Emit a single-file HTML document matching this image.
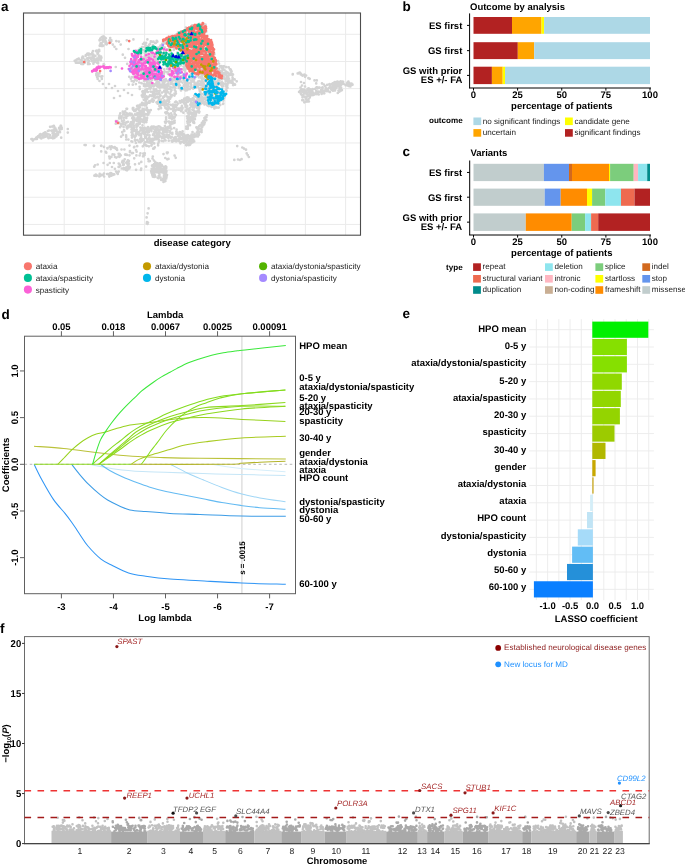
<!DOCTYPE html>
<html><head><meta charset="utf-8"><style>
html,body{margin:0;padding:0;background:#fff;}
svg{display:block;will-change:transform;}
text{font-family:"Liberation Sans",sans-serif;text-rendering:geometricPrecision;}
</style></head><body>
<svg width="685" height="865" viewBox="0 0 685 865">
<rect x="0" y="0" width="685" height="865" fill="#fff"/>
<text x="1.00" y="10.90" font-size="13.5" font-weight="bold"  text-anchor="start" fill="#000" >a</text>
<text x="402.60" y="10.90" font-size="13.5" font-weight="bold"  text-anchor="start" fill="#000" >b</text>
<text x="402.60" y="156.20" font-size="13.5" font-weight="bold"  text-anchor="start" fill="#000" >c</text>
<text x="1.50" y="318.60" font-size="13.5" font-weight="bold"  text-anchor="start" fill="#000" >d</text>
<text x="402.60" y="318.40" font-size="13.5" font-weight="bold"  text-anchor="start" fill="#000" >e</text>
<text x="0.00" y="632.90" font-size="13.5" font-weight="bold"  text-anchor="start" fill="#000" >f</text>
<defs><clipPath id="clipA"><rect x="24" y="13.5" width="336" height="221.2"/></clipPath></defs>
<line x1="64.20" y1="13.00" x2="64.20" y2="235.20" stroke="#EBEBEB" stroke-width="1.0" />
<line x1="23.50" y1="34.30" x2="360.50" y2="34.30" stroke="#EBEBEB" stroke-width="1.0" />
<line x1="104.40" y1="13.00" x2="104.40" y2="235.20" stroke="#EBEBEB" stroke-width="1.0" />
<line x1="23.50" y1="61.46" x2="360.50" y2="61.46" stroke="#EBEBEB" stroke-width="1.0" />
<line x1="144.60" y1="13.00" x2="144.60" y2="235.20" stroke="#EBEBEB" stroke-width="1.0" />
<line x1="23.50" y1="88.62" x2="360.50" y2="88.62" stroke="#EBEBEB" stroke-width="1.0" />
<line x1="184.80" y1="13.00" x2="184.80" y2="235.20" stroke="#EBEBEB" stroke-width="1.0" />
<line x1="23.50" y1="115.78" x2="360.50" y2="115.78" stroke="#EBEBEB" stroke-width="1.0" />
<line x1="225.00" y1="13.00" x2="225.00" y2="235.20" stroke="#EBEBEB" stroke-width="1.0" />
<line x1="23.50" y1="142.94" x2="360.50" y2="142.94" stroke="#EBEBEB" stroke-width="1.0" />
<line x1="265.20" y1="13.00" x2="265.20" y2="235.20" stroke="#EBEBEB" stroke-width="1.0" />
<line x1="23.50" y1="170.10" x2="360.50" y2="170.10" stroke="#EBEBEB" stroke-width="1.0" />
<line x1="305.40" y1="13.00" x2="305.40" y2="235.20" stroke="#EBEBEB" stroke-width="1.0" />
<line x1="23.50" y1="197.26" x2="360.50" y2="197.26" stroke="#EBEBEB" stroke-width="1.0" />
<line x1="345.60" y1="13.00" x2="345.60" y2="235.20" stroke="#EBEBEB" stroke-width="1.0" />
<line x1="23.50" y1="224.42" x2="360.50" y2="224.42" stroke="#EBEBEB" stroke-width="1.0" />
<g clip-path="url(#clipA)">
<path d="M106.9 43.4h0M99.6 40.1h0M110.8 42.3h0M105.0 37.5h0M105.9 41.4h0M102.6 45.4h0M101.8 37.1h0M102.8 45.9h0M105.8 42.6h0M101.7 45.7h0M110.2 38.1h0M103.6 36.6h0M102.9 41.7h0M103.4 38.3h0M109.3 40.3h0M103.1 40.3h0M103.7 41.4h0M101.4 45.9h0M101.6 43.5h0M103.4 38.8h0M105.7 43.8h0M100.5 43.4h0M99.7 45.8h0M100.3 38.6h0M103.4 45.5h0M105.9 38.3h0M103.1 36.7h0M111.3 40.9h0M104.2 37.4h0M106.5 44.4h0M104.8 39.6h0M99.9 45.4h0M99.6 40.4h0M107.0 43.9h0M100.5 39.7h0M101.0 44.6h0M102.8 39.9h0M111.2 40.0h0M112.8 44.6h0M114.5 46.8h0M116.3 49.0h0M116.3 41.1h0M118.9 41.6h0M120.7 44.6h0M126.8 40.3h0M133.4 39.4h0M128.5 49.0h0M122.8 54.7h0M125.0 57.8h0M127.2 63.9h0M132.9 62.2h0M115.8 67.0h0M147.4 39.4h0M143.0 44.0h0M145.5 45.0h0M147.8 46.4h0M142.0 47.0h0M150.0 44.0h0M152.0 47.0h0M155.0 43.0h0M89.0 60.9h0M88.8 53.5h0M89.4 54.3h0M98.1 63.3h0M85.1 61.9h0M97.9 60.3h0M94.5 61.4h0M85.2 60.5h0M82.6 56.8h0M97.8 60.3h0M94.0 58.4h0M81.7 60.0h0M88.3 62.4h0M94.0 62.1h0M84.7 59.5h0M96.8 62.6h0M84.8 62.8h0M100.9 60.2h0M104.2 64.8h0M90.0 57.5h0M79.1 62.7h0M95.3 60.8h0M96.5 51.5h0M98.1 58.4h0M94.5 55.7h0M93.2 61.7h0M93.6 60.8h0M87.6 59.6h0M80.7 60.2h0M88.3 55.0h0M92.9 58.6h0M81.3 63.9h0M77.5 62.7h0M90.8 54.3h0M99.3 55.7h0M99.1 59.5h0M92.4 58.1h0M103.6 65.0h0M92.8 54.5h0M93.0 51.0h0M93.4 63.7h0M85.6 55.9h0M103.7 64.0h0M92.4 53.0h0M82.8 56.7h0M77.7 59.1h0M87.6 53.6h0M98.1 62.6h0M98.1 52.8h0M92.7 56.6h0M93.9 58.8h0M96.9 50.6h0M97.5 53.7h0M90.4 54.3h0M83.1 57.6h0M88.3 54.7h0M97.0 58.6h0M88.0 64.1h0M101.4 57.8h0M87.2 58.3h0M95.9 59.3h0M88.8 64.0h0M85.8 55.2h0M83.1 62.6h0M75.9 62.7h0M95.4 55.9h0M82.8 61.8h0M88.7 57.9h0M89.3 54.2h0M78.7 58.5h0M99.1 49.8h0M81.0 62.5h0M98.4 59.8h0M74.7 60.8h0M96.0 50.9h0M83.0 64.1h0M78.5 58.9h0M91.7 61.1h0M87.3 53.9h0M92.5 56.9h0M75.6 60.4h0M78.6 59.3h0M89.6 64.0h0M91.1 59.1h0M82.1 57.9h0M81.8 61.3h0M96.7 51.6h0M96.0 59.7h0M76.5 59.9h0M92.3 52.6h0M101.1 56.7h0M83.9 62.1h0M74.8 60.9h0M99.3 51.0h0M93.3 54.6h0M92.9 54.5h0M99.7 59.5h0M98.8 55.9h0M100.3 57.3h0M92.3 58.3h0M102.3 76.3h0M96.8 72.9h0M99.5 81.0h0M101.1 76.6h0M99.5 73.4h0M96.3 74.0h0M98.6 76.2h0M97.3 75.1h0M96.4 75.2h0M97.1 77.1h0M101.8 78.9h0M97.7 78.9h0M97.1 73.2h0M103.0 84.0h0M106.0 88.0h0M112.0 88.0h0M118.0 91.0h0M124.0 90.0h0M128.0 93.0h0M132.0 95.0h0M120.0 96.0h0M114.0 98.0h0M109.0 84.0h0M115.0 86.0h0M144.0 81.0h0M148.6 80.5h0M160.2 87.5h0M135.2 79.8h0M157.6 91.0h0M156.4 82.9h0M152.1 91.8h0M150.8 81.6h0M132.1 77.1h0M167.5 83.9h0M139.2 82.5h0M135.9 84.1h0M145.7 84.5h0M131.7 81.0h0M132.8 84.7h0M168.5 85.6h0M128.8 84.6h0M149.4 85.1h0M144.6 86.0h0M159.9 90.6h0M141.5 83.2h0M133.1 81.0h0M164.1 81.0h0M133.7 77.3h0M146.9 85.2h0M136.8 80.6h0M146.5 81.0h0M161.1 84.9h0M167.4 86.5h0M161.4 85.2h0M147.5 89.1h0M156.8 91.3h0M160.0 87.2h0M139.8 89.0h0M130.9 78.7h0M139.6 86.8h0M161.6 84.9h0M129.2 76.8h0M133.7 81.7h0M165.8 91.2h0M154.9 79.7h0M146.9 81.8h0M153.7 89.2h0M159.2 83.1h0M169.3 88.7h0M60.0 132.2h0M56.9 131.5h0M32.9 140.6h0M49.0 130.5h0M54.9 128.6h0M58.0 134.7h0M57.4 132.6h0M59.6 127.9h0M56.3 129.9h0M50.9 137.7h0M47.4 134.2h0M46.2 136.1h0M53.1 135.6h0M48.2 137.7h0M42.7 134.3h0M52.6 133.2h0M49.5 137.1h0M53.7 129.6h0M60.5 129.1h0M53.8 125.8h0M55.0 135.6h0M52.9 138.3h0M54.5 134.6h0M59.4 128.5h0M52.9 133.7h0M53.8 130.7h0M59.1 128.1h0M55.4 128.3h0M54.2 131.4h0M44.7 133.3h0M59.7 129.6h0M61.7 127.7h0M49.0 134.5h0M50.0 135.2h0M53.0 136.6h0M41.3 138.5h0M57.7 132.4h0M54.4 138.0h0M56.5 136.3h0M52.7 136.8h0M48.4 130.8h0M43.1 135.8h0M61.0 125.8h0M55.2 136.4h0M47.0 136.0h0M56.1 134.0h0M57.9 133.1h0M55.3 130.5h0M45.2 132.3h0M43.6 137.4h0M44.9 134.3h0M52.2 126.6h0M50.1 126.8h0M39.7 137.0h0M43.0 137.3h0M51.5 130.7h0M54.3 126.8h0M46.4 136.2h0M44.5 132.9h0M50.5 137.6h0M60.6 125.9h0M45.4 136.7h0M47.9 131.0h0M60.3 129.5h0M48.6 138.2h0M46.8 133.9h0M61.7 128.9h0M40.0 137.5h0M54.6 128.9h0M57.3 134.9h0M43.5 134.9h0M58.8 131.8h0M59.5 127.5h0M54.5 133.8h0M57.2 132.7h0M39.6 136.7h0M32.4 139.0h0M36.9 138.9h0M33.2 140.1h0M32.8 140.1h0M37.7 136.9h0M31.4 139.1h0M32.5 139.3h0M35.0 139.0h0M36.4 137.7h0M32.9 140.0h0M39.6 136.5h0M41.9 135.6h0M43.3 133.5h0M38.0 136.4h0M40.4 134.0h0M39.2 137.2h0M43.6 133.7h0M42.7 134.4h0M45.4 133.2h0M39.3 137.0h0M39.6 134.8h0M67.8 129.0h0M67.8 132.6h0M61.2 137.7h0M84.6 145.0h0M94.0 145.8h0M101.4 145.8h0M93.8 145.8h0M101.1 145.8h0M104.0 146.9h0M85.7 145.1h0M115.1 147.5h0M116.0 148.8h0M110.7 149.1h0M114.6 147.2h0M110.9 147.5h0M114.5 147.9h0M109.7 146.7h0M117.1 149.9h0M116.6 148.4h0M107.4 148.0h0M112.8 147.3h0M107.5 148.5h0M111.6 146.3h0M121.5 149.5h0M124.4 149.5h0M120.8 155.3h0M125.1 154.6h0M127.0 155.0h0M129.5 155.3h0M130.0 151.0h0M133.0 153.0h0M136.0 150.0h0M103.0 175.1h0M117.2 172.9h0M114.3 174.4h0M117.7 173.9h0M108.1 174.2h0M100.5 175.8h0M99.7 173.9h0M112.9 174.9h0M111.3 175.7h0M109.3 176.6h0M97.3 175.5h0M95.8 174.7h0M94.4 175.7h0M96.2 176.0h0M101.8 174.8h0M109.8 174.1h0M116.1 171.6h0M104.0 173.6h0M118.7 171.6h0M110.2 175.9h0M117.8 172.9h0M104.1 176.5h0M110.8 173.0h0M112.2 174.2h0M111.7 174.9h0M107.1 174.0h0M99.3 176.4h0M110.1 173.4h0M110.3 174.7h0M112.6 174.2h0M123.5 163.0h0M127.5 163.9h0M125.7 168.9h0M123.7 168.0h0M128.9 160.9h0M127.9 160.4h0M123.8 164.7h0M128.4 165.2h0M124.7 159.3h0M128.3 169.1h0M126.0 169.9h0M125.9 168.4h0M129.0 167.1h0M118.7 163.5h0M119.1 163.8h0M121.8 168.5h0M122.9 161.2h0M126.9 161.8h0M123.1 164.9h0M123.8 169.1h0M127.0 170.3h0M126.8 169.0h0M128.3 164.5h0M126.5 167.6h0M129.5 168.3h0M123.7 161.5h0M122.1 162.3h0M126.8 169.1h0M120.3 166.0h0M128.9 163.8h0M119.1 166.9h0M122.6 160.9h0M119.8 164.6h0M128.8 163.3h0M118.6 166.9h0M127.8 165.3h0M128.4 164.9h0M129.9 167.0h0M95.1 165.3h0M97.7 164.5h0M94.2 166.7h0M103.6 163.0h0M107.6 164.8h0M109.8 163.0h0M113.8 163.0h0M112.0 167.0h0M114.9 168.8h0M147.1 97.3h0M161.9 104.8h0M212.7 89.7h0M217.6 84.0h0M167.7 92.2h0M164.3 82.8h0M149.0 83.6h0M232.7 82.9h0M149.6 86.1h0M207.9 92.9h0M172.7 106.1h0M168.4 81.3h0M221.9 95.3h0M174.5 95.6h0M185.0 104.4h0M201.3 89.6h0M170.5 87.2h0M200.1 100.5h0M150.8 110.1h0M230.2 69.8h0M148.1 102.6h0M168.3 104.3h0M143.4 92.6h0M156.1 85.3h0M209.1 95.7h0M157.7 93.7h0M214.4 108.5h0M185.6 82.1h0M165.4 102.2h0M183.6 101.8h0M185.3 82.6h0M205.6 80.1h0M189.7 99.9h0M190.2 118.7h0M217.6 83.8h0M144.5 95.1h0M167.2 96.7h0M162.0 92.6h0M218.0 80.8h0M156.8 81.6h0M211.7 94.6h0M165.9 92.7h0M164.6 87.4h0M199.0 84.7h0M179.1 84.4h0M218.7 83.1h0M206.2 100.1h0M168.1 108.7h0M151.8 100.6h0M188.5 117.0h0M186.4 97.8h0M174.5 93.7h0M192.0 115.0h0M170.1 98.7h0M200.3 104.3h0M171.1 82.2h0M186.9 101.1h0M184.4 98.7h0M189.7 83.1h0M156.1 89.3h0M230.6 70.5h0M175.0 106.6h0M162.8 82.3h0M165.7 94.0h0M187.5 97.3h0M190.3 104.7h0M173.0 106.0h0M176.6 102.0h0M163.0 101.8h0M215.1 79.1h0M184.1 99.1h0M204.9 97.5h0M154.6 94.4h0M222.5 69.6h0M173.2 111.0h0M193.0 105.0h0M205.5 98.8h0M171.7 95.1h0M232.5 82.1h0M164.0 105.0h0M187.5 85.1h0M165.8 87.2h0M154.8 84.3h0M175.3 80.5h0M192.2 81.6h0M150.5 91.6h0M216.3 97.7h0M227.0 84.4h0M230.4 74.6h0M185.2 84.0h0M164.3 90.6h0M192.2 105.3h0M206.9 96.4h0M207.2 85.6h0M163.3 84.2h0M224.9 94.1h0M169.0 107.7h0M145.0 90.8h0M223.3 100.6h0M146.3 96.4h0M189.0 111.8h0M228.2 83.3h0M174.6 86.1h0M191.4 87.7h0M166.6 90.0h0M201.2 93.7h0M211.9 90.9h0M174.7 90.0h0M144.6 92.8h0M162.0 103.3h0M175.7 83.3h0M207.8 93.6h0M201.9 100.4h0M218.7 107.6h0M208.5 85.1h0M142.2 105.2h0M175.6 91.4h0M209.8 78.7h0M197.8 103.6h0M168.6 102.1h0M213.4 84.7h0M166.4 85.2h0M186.9 98.8h0M205.3 81.2h0M198.0 100.9h0M186.9 87.6h0M215.7 99.6h0M192.4 109.7h0M194.5 100.3h0M216.1 88.5h0M161.5 105.0h0M209.4 81.8h0M218.7 100.3h0M212.8 91.4h0M197.8 83.5h0M163.0 98.0h0M200.2 95.1h0M204.8 102.7h0M180.6 81.4h0M208.0 88.5h0M175.8 106.1h0M205.4 94.6h0M221.3 85.0h0M175.0 109.9h0M207.7 90.8h0M228.6 67.3h0M193.4 116.2h0M227.6 77.1h0M220.4 97.1h0M233.1 85.1h0M206.2 103.5h0M224.6 74.4h0M189.6 110.1h0M166.5 108.7h0M161.9 101.6h0M165.6 94.8h0M147.3 98.7h0M207.3 84.4h0M197.9 96.7h0M218.6 99.6h0M203.6 98.9h0M222.0 71.5h0M223.1 66.3h0M216.2 107.5h0M186.8 81.7h0M212.7 88.5h0M187.2 105.9h0M167.2 100.7h0M229.1 74.2h0M231.3 81.2h0M207.7 96.5h0M169.0 80.7h0M192.0 80.8h0M216.9 81.5h0M232.6 79.2h0M193.9 81.0h0M215.4 87.4h0M166.8 90.3h0M208.6 106.1h0M218.7 92.8h0M189.4 120.9h0M195.0 100.9h0M170.6 104.8h0M188.6 121.2h0M147.3 85.7h0M222.3 98.6h0M223.0 104.0h0M212.8 81.5h0M182.1 88.1h0M183.4 112.7h0M161.0 99.7h0M218.6 79.5h0M164.9 87.9h0M185.7 90.5h0M167.7 86.0h0M223.3 103.5h0M202.8 98.2h0M169.7 93.5h0M180.5 102.6h0M227.5 87.7h0M193.6 98.8h0M206.5 80.1h0M165.9 94.6h0M213.6 87.6h0M210.4 89.1h0M153.1 91.7h0M211.2 91.6h0M208.0 90.9h0M212.3 91.0h0M188.9 89.0h0M186.4 84.9h0M219.8 73.7h0M202.3 88.1h0M186.5 98.0h0M228.5 80.4h0M219.4 88.8h0M194.4 82.6h0M193.2 122.5h0M209.5 81.4h0M208.1 101.9h0M176.7 105.2h0M164.3 83.7h0M200.2 83.5h0M206.7 81.9h0M215.7 85.7h0M226.6 90.7h0M170.8 91.6h0M226.7 75.9h0M173.8 108.4h0M185.1 103.7h0M191.1 87.0h0M218.0 95.6h0M170.2 88.4h0M213.1 83.1h0M223.9 94.6h0M189.7 121.9h0M216.9 101.6h0M214.8 97.0h0M161.8 84.9h0M143.2 103.5h0M202.8 101.9h0M188.6 118.8h0M159.7 94.6h0M234.6 79.4h0M157.7 103.7h0M210.7 86.6h0M218.0 98.8h0M166.5 89.7h0M196.0 106.3h0M182.5 88.8h0M204.0 86.0h0M209.2 81.9h0M214.3 98.6h0M215.8 83.0h0M194.4 86.1h0M186.9 82.8h0M147.0 91.3h0M145.5 97.7h0M234.4 84.3h0M226.2 86.0h0M187.9 84.9h0M187.7 101.9h0M190.7 113.4h0M206.8 81.7h0M190.8 87.4h0M185.5 106.8h0M197.8 82.0h0M208.0 90.7h0M210.3 86.2h0M185.8 110.7h0M158.9 84.4h0M199.2 107.1h0M143.8 99.8h0M192.8 98.3h0M191.3 112.6h0M203.4 94.0h0M213.0 106.5h0M173.2 108.4h0M203.7 78.7h0M222.8 93.6h0M191.7 100.2h0M183.7 85.9h0M212.9 83.0h0M166.4 80.5h0M208.4 103.7h0M188.2 117.7h0M153.8 100.4h0M142.7 108.8h0M223.2 67.3h0M170.5 81.3h0M165.4 85.7h0M168.7 97.4h0M149.4 87.6h0M210.1 99.0h0M167.9 89.1h0M146.1 89.5h0M222.1 88.5h0M211.0 90.3h0M145.3 86.1h0M168.7 100.3h0M146.9 85.8h0M229.2 73.6h0M156.6 83.5h0M143.1 92.9h0M168.4 109.2h0M155.5 97.9h0M193.0 106.9h0M159.7 96.5h0M159.0 82.9h0M147.0 83.4h0M194.3 85.4h0M169.0 98.8h0M202.4 102.3h0M227.4 84.3h0M167.7 99.3h0M160.2 106.8h0M196.4 112.8h0M172.9 87.4h0M230.0 81.0h0M202.1 99.1h0M145.2 99.0h0M184.6 100.3h0M222.2 78.9h0M227.3 79.2h0M194.5 95.6h0M165.3 107.8h0M203.9 84.4h0M210.8 85.9h0M179.6 109.8h0M197.6 107.5h0M184.1 89.3h0M212.0 76.4h0M171.1 109.0h0M186.7 109.5h0M150.6 101.2h0M220.9 82.8h0M149.3 88.3h0M146.4 84.8h0M231.2 82.7h0M221.7 92.0h0M223.3 76.9h0M218.6 96.4h0M190.4 118.2h0M153.1 101.7h0M153.4 85.5h0M196.6 95.3h0M234.5 84.0h0M235.0 84.7h0M174.7 110.2h0M219.0 91.9h0M153.8 86.3h0M215.8 103.5h0M178.1 109.6h0M206.5 99.7h0M218.2 98.2h0M193.6 81.0h0M217.4 72.1h0M149.5 102.7h0M159.2 93.2h0M165.9 94.1h0M194.2 122.9h0M223.0 99.8h0M202.8 83.0h0M197.3 85.1h0M227.7 78.9h0M150.0 95.3h0M184.3 99.3h0M193.2 88.6h0M165.6 92.4h0M197.9 101.2h0M157.3 86.4h0M179.8 88.2h0M211.5 106.9h0M165.5 101.7h0M154.0 85.3h0M201.2 84.3h0M205.8 93.7h0M154.2 95.6h0M156.5 102.3h0M145.4 90.5h0M201.3 103.5h0M212.9 102.7h0M194.5 96.2h0M208.6 90.2h0M178.5 108.5h0M163.4 101.5h0M186.5 100.3h0M218.0 88.3h0M200.3 91.7h0M193.5 81.5h0M228.1 72.9h0M184.2 103.4h0M200.1 101.3h0M230.2 74.8h0M225.7 81.1h0M147.6 83.2h0M191.3 112.9h0M197.2 100.5h0M209.3 95.5h0M219.1 70.0h0M221.0 66.1h0M208.2 102.3h0M165.7 102.5h0M193.2 113.6h0M157.1 102.2h0M215.4 90.6h0M190.9 80.6h0M226.0 71.5h0M197.7 99.1h0M154.1 96.9h0M209.8 76.6h0M152.0 83.2h0M223.3 100.2h0M160.3 84.7h0M182.2 102.0h0M193.9 122.1h0M227.3 85.3h0M200.5 85.2h0M232.2 81.5h0M173.8 109.4h0M160.6 95.7h0M223.4 94.3h0M206.5 88.9h0M210.9 88.0h0M157.8 86.7h0M191.2 104.5h0M196.8 100.6h0M179.7 101.1h0M213.4 87.8h0M159.8 105.6h0M171.5 96.5h0M187.2 90.1h0M204.3 86.6h0M151.2 87.4h0M202.4 101.0h0M188.8 98.8h0M213.3 90.9h0M143.1 92.2h0M191.6 87.6h0M193.5 121.7h0M209.9 79.4h0M150.3 88.7h0M148.1 85.6h0M168.0 100.2h0M193.9 81.3h0M219.3 79.6h0M217.8 76.9h0M165.1 95.5h0M173.0 104.7h0M153.5 84.5h0M151.1 95.8h0M164.0 91.5h0M168.7 89.0h0M146.1 100.4h0M150.2 85.4h0M173.8 106.8h0M211.0 93.7h0M217.8 86.1h0M193.6 116.2h0M151.2 96.0h0M224.1 73.1h0M166.7 104.0h0M214.5 98.3h0M217.4 74.0h0M224.4 97.4h0M181.0 90.4h0M209.6 103.2h0M198.1 108.5h0M218.3 103.0h0M196.5 97.1h0M158.8 101.6h0M186.8 106.8h0M197.2 105.0h0M159.5 87.6h0M191.9 81.7h0M181.2 111.2h0M191.0 102.1h0M223.3 86.1h0M168.6 107.1h0M141.8 95.4h0M202.3 87.9h0M151.5 83.4h0M187.3 116.7h0M200.1 102.4h0M216.4 100.8h0M194.9 119.2h0M194.3 101.4h0M224.3 74.1h0M166.9 91.6h0M186.6 107.7h0M202.1 81.0h0M216.3 81.8h0M196.3 87.3h0M193.9 81.5h0M190.0 121.9h0M233.0 74.6h0M212.4 80.8h0M146.6 103.3h0M207.7 104.6h0M216.4 104.0h0M200.7 95.2h0M202.9 86.0h0M161.1 86.8h0M198.9 94.9h0M216.3 73.9h0M191.4 120.4h0M223.1 73.9h0M183.9 85.2h0M231.3 71.6h0M216.2 84.5h0M230.4 80.9h0M197.4 83.9h0M208.6 81.5h0M197.3 108.2h0M156.6 84.9h0M211.1 106.2h0M228.8 67.5h0M178.8 86.3h0M184.2 85.7h0M142.1 102.8h0M214.3 76.6h0M176.1 85.7h0M221.5 74.8h0M182.6 107.9h0M175.0 106.5h0M219.6 100.6h0M214.9 106.5h0M161.6 86.0h0M207.7 102.5h0M183.5 80.2h0M189.9 89.1h0M152.2 84.0h0M193.9 112.2h0M189.5 122.0h0M173.3 84.8h0M189.4 110.7h0M146.4 90.4h0M193.8 119.0h0M182.3 109.6h0M161.0 108.2h0M175.9 101.6h0M213.7 94.1h0M182.6 82.6h0M210.1 81.5h0M215.4 98.4h0M149.2 85.9h0M229.0 82.6h0M207.9 105.7h0M213.7 82.1h0M200.0 94.5h0M180.8 107.9h0M217.6 103.1h0M176.9 104.9h0M216.1 100.5h0M213.1 93.6h0M158.6 109.1h0M168.6 101.4h0M219.4 102.8h0M157.5 82.6h0M170.9 84.1h0M208.1 87.9h0M199.5 89.8h0M143.9 85.8h0M177.3 80.2h0M190.3 117.9h0M198.7 110.1h0M221.3 66.6h0M226.0 80.7h0M187.7 112.7h0M201.1 89.0h0M227.7 81.8h0M201.1 88.0h0M140.4 104.5h0M191.3 84.9h0M171.5 90.2h0M150.0 110.4h0M223.7 77.0h0M205.2 87.9h0M219.4 80.5h0M202.8 88.6h0M212.4 89.4h0M161.1 87.0h0M226.4 84.1h0M190.7 83.8h0M218.6 92.2h0M227.0 78.6h0M207.4 105.4h0M230.8 69.5h0M214.3 91.9h0M176.7 83.5h0M210.7 89.2h0M144.9 90.6h0M212.2 99.5h0M191.4 106.5h0M190.6 101.4h0M218.1 85.2h0M145.2 97.9h0M236.7 81.3h0M203.1 85.9h0M149.2 101.4h0M217.4 71.2h0M164.4 100.3h0M173.6 105.1h0M195.1 100.9h0M198.3 81.3h0M218.5 71.6h0M187.8 109.1h0M211.9 82.4h0M232.3 75.2h0M215.7 93.2h0M143.3 96.4h0M202.9 82.3h0M223.4 100.0h0M212.7 78.5h0M168.3 83.8h0M168.7 97.7h0M161.8 80.6h0M205.5 80.2h0M146.4 103.3h0M150.3 95.5h0M213.6 80.1h0M199.4 111.8h0M169.6 81.1h0M175.0 109.8h0M176.3 109.5h0M175.1 85.0h0M168.2 88.9h0M171.8 81.3h0M170.5 97.7h0M193.1 100.2h0M157.3 81.1h0M223.6 93.2h0M191.2 101.6h0M199.3 81.0h0M175.0 102.3h0M156.5 82.5h0M178.8 87.8h0M164.6 105.8h0M211.6 80.3h0M199.2 108.2h0M199.0 97.8h0M165.2 81.3h0M172.0 95.2h0M229.1 75.3h0M157.3 96.7h0M212.2 92.0h0M216.9 107.6h0M206.7 94.1h0M222.1 85.9h0M204.8 93.8h0M187.6 86.8h0M155.8 93.9h0M154.6 95.7h0M163.4 96.7h0M181.9 105.9h0M189.5 111.7h0M228.4 79.6h0M185.5 103.2h0M159.1 82.3h0M164.5 91.4h0M171.3 83.3h0M203.2 101.1h0M196.3 105.1h0M175.3 88.1h0M214.1 97.5h0M190.8 83.0h0M196.3 83.9h0M198.3 108.2h0M158.7 100.6h0M203.5 94.6h0M162.7 82.0h0M196.2 83.6h0M209.9 80.4h0M232.3 74.0h0M179.1 82.6h0M214.7 91.9h0M175.4 110.7h0M188.0 82.7h0M185.3 104.3h0M205.4 85.7h0M153.3 95.7h0M180.3 80.4h0M208.7 78.4h0M218.0 98.1h0M175.9 82.2h0M212.5 94.9h0M166.8 89.2h0M200.2 97.5h0M226.8 73.5h0M165.4 104.1h0M191.0 117.0h0M162.4 86.9h0M177.6 83.2h0M207.3 85.5h0M172.3 80.4h0M160.1 102.8h0M209.6 101.4h0M142.4 91.7h0M214.2 89.5h0M224.0 94.8h0M145.8 86.3h0M203.6 83.5h0M162.9 85.6h0M176.3 107.0h0M198.0 105.4h0M229.9 69.0h0M211.4 87.1h0M199.9 91.6h0M188.5 86.2h0M145.8 101.6h0M193.6 87.6h0M194.6 105.9h0M183.3 101.5h0M199.4 99.3h0M167.1 105.4h0M145.2 92.3h0M162.0 101.8h0M175.4 84.0h0M143.3 93.3h0M185.5 80.8h0M159.4 97.1h0M229.0 78.5h0M225.5 83.9h0M162.0 85.4h0M170.8 95.9h0M202.4 97.1h0M217.1 92.0h0M171.6 82.1h0M209.9 105.8h0M147.8 92.0h0M149.6 102.3h0M151.6 101.1h0M194.3 107.6h0M203.7 101.9h0M211.2 89.4h0M197.6 107.9h0M187.7 89.5h0M150.3 87.7h0M186.0 104.4h0M164.3 96.7h0M190.6 112.6h0M215.6 87.1h0M201.1 81.7h0M152.9 93.7h0M189.6 108.2h0M173.8 106.2h0M219.2 103.8h0M154.9 97.6h0M188.8 110.0h0M142.6 97.1h0M144.8 109.5h0M226.1 67.1h0M199.1 88.3h0M231.6 71.3h0M216.2 94.1h0M226.6 77.2h0M223.4 83.5h0M200.8 94.1h0M194.1 81.8h0M184.3 86.2h0M214.2 85.7h0M172.4 81.4h0M187.1 116.4h0M221.1 83.7h0M186.8 86.6h0M222.1 73.7h0M222.5 68.5h0M152.5 98.9h0M221.4 95.7h0M187.2 101.3h0M221.6 76.7h0M190.7 99.4h0M204.9 101.8h0M175.9 93.6h0M204.5 104.4h0M198.7 109.8h0M232.1 81.0h0M185.0 88.4h0M158.6 98.6h0M224.7 78.8h0M184.6 100.8h0M150.5 101.1h0M225.8 73.3h0M158.8 85.0h0M204.9 85.9h0M213.9 89.6h0M198.0 98.0h0M222.1 82.4h0M195.1 101.3h0M181.9 100.3h0M223.3 98.1h0M143.9 84.2h0M216.7 103.6h0M215.2 85.1h0M166.2 87.7h0M159.4 106.1h0M224.3 69.8h0M222.3 93.7h0M169.2 101.8h0M212.8 99.6h0M199.1 112.6h0M194.8 103.3h0M151.6 86.2h0M217.4 100.4h0M196.0 111.5h0M175.8 105.0h0M216.5 93.3h0M191.6 103.1h0M203.0 102.9h0M173.9 84.0h0M188.8 100.3h0M164.5 100.5h0M205.0 80.6h0M156.7 82.5h0M220.4 79.0h0M192.5 120.6h0M217.3 95.4h0M197.9 97.7h0M226.6 72.1h0M167.8 109.6h0M188.9 120.9h0M219.3 103.9h0M223.4 95.6h0M142.8 94.2h0M144.9 94.0h0M214.4 84.3h0M207.7 88.4h0M198.6 105.2h0M195.4 85.6h0M226.5 88.1h0M180.8 101.6h0M207.7 91.4h0M218.1 100.2h0M222.1 79.3h0M149.3 83.4h0M148.7 96.7h0M154.5 91.6h0M178.1 103.5h0M193.3 103.2h0M232.4 81.4h0M200.5 85.2h0M154.0 90.8h0M151.5 95.6h0M164.1 103.3h0M207.1 104.9h0M231.1 73.4h0M192.6 116.3h0M197.9 86.3h0M178.6 81.4h0M142.9 91.0h0M151.6 85.0h0M194.2 95.8h0M145.6 89.8h0M171.6 83.8h0M206.2 94.1h0M179.9 85.5h0M217.0 101.6h0M220.2 105.1h0M214.7 73.7h0M197.8 111.2h0M226.3 90.1h0M188.5 97.6h0M164.1 87.4h0M194.7 83.4h0M224.1 66.3h0M210.3 87.1h0M219.1 79.0h0M232.6 77.5h0M167.0 88.9h0M133.4 127.3h0M143.2 109.1h0M139.1 118.4h0M139.8 123.7h0M139.0 113.2h0M128.7 113.8h0M139.6 120.8h0M122.5 123.5h0M130.0 113.7h0M119.2 117.5h0M137.7 108.7h0M140.6 118.9h0M138.1 121.6h0M140.9 110.8h0M129.2 125.3h0M136.0 109.6h0M118.9 122.5h0M144.4 114.5h0M133.8 122.7h0M128.0 115.4h0M135.7 114.8h0M139.3 108.1h0M140.7 115.7h0M135.5 119.7h0M133.6 120.3h0M123.2 114.5h0M129.5 113.5h0M147.0 110.3h0M126.5 108.8h0M125.2 111.4h0M131.1 115.3h0M137.3 120.4h0M131.5 113.9h0M133.0 120.7h0M136.6 127.1h0M130.7 125.5h0M128.2 125.5h0M122.1 120.5h0M137.4 113.0h0M144.8 105.2h0M121.2 118.3h0M138.7 108.0h0M133.2 116.2h0M140.7 113.4h0M142.2 110.5h0M148.2 111.9h0M139.1 122.7h0M143.5 119.6h0M121.0 116.6h0M144.2 122.5h0M119.5 115.5h0M148.4 114.5h0M149.4 112.4h0M134.0 110.3h0M148.0 113.7h0M137.7 125.4h0M143.5 116.3h0M144.3 122.2h0M127.0 115.9h0M134.4 118.0h0M138.6 113.7h0M120.9 124.0h0M144.9 118.3h0M133.7 129.0h0M140.9 116.0h0M131.6 125.3h0M127.3 122.2h0M120.3 126.8h0M125.3 124.6h0M119.2 118.5h0M140.0 117.3h0M126.3 117.9h0M136.5 114.7h0M134.2 125.7h0M126.8 113.4h0M120.9 124.3h0M126.6 126.9h0M136.5 124.3h0M138.1 105.5h0M139.1 106.1h0M143.9 103.7h0M121.5 116.3h0M143.7 111.9h0M139.2 110.5h0M144.3 116.4h0M147.1 117.9h0M132.2 118.2h0M139.4 107.7h0M124.0 120.3h0M137.9 116.3h0M130.1 126.2h0M138.2 124.7h0M137.8 118.2h0M115.8 123.7h0M137.4 118.1h0M147.7 114.9h0M125.3 115.0h0M134.0 127.8h0M133.4 109.3h0M143.3 122.2h0M132.2 122.1h0M142.5 125.3h0M142.9 114.2h0M123.6 126.9h0M133.3 128.4h0M144.4 118.4h0M130.3 124.2h0M117.3 121.0h0M133.5 119.3h0M147.0 110.0h0M127.1 128.5h0M138.6 105.8h0M139.8 121.4h0M132.8 108.7h0M132.9 108.0h0M136.8 125.7h0M139.1 116.4h0M131.5 129.6h0M139.1 113.7h0M127.5 115.1h0M134.3 129.8h0M139.6 120.1h0M136.6 108.9h0M142.6 121.4h0M132.8 123.8h0M131.9 114.5h0M133.0 109.6h0M123.5 113.2h0M144.7 120.4h0M124.5 112.7h0M127.1 108.8h0M143.0 103.6h0M142.5 119.5h0M131.3 127.1h0M123.5 122.4h0M123.0 124.1h0M136.7 121.1h0M142.8 115.1h0M137.9 125.6h0M146.8 119.9h0M146.4 122.1h0M120.7 124.1h0M141.1 104.8h0M119.9 118.2h0M141.7 111.8h0M132.8 130.4h0M140.5 111.9h0M141.0 113.4h0M139.4 123.4h0M132.9 128.8h0M115.9 121.1h0M144.3 109.9h0M141.6 121.5h0M120.1 127.2h0M134.2 111.0h0M146.7 103.9h0M133.4 108.0h0M137.1 105.9h0M121.1 125.8h0M135.0 114.4h0M136.2 110.2h0M145.8 114.2h0M127.9 121.8h0M139.8 114.4h0M146.8 107.7h0M129.4 115.0h0M137.8 124.1h0M147.7 109.9h0M140.0 107.3h0M144.8 117.5h0M144.2 104.9h0M146.3 105.1h0M120.3 113.4h0M144.5 115.1h0M119.6 115.9h0M121.9 121.0h0M123.8 117.7h0M130.8 122.4h0M126.0 122.7h0M135.1 111.2h0M120.5 118.1h0M122.8 111.7h0M128.5 127.2h0M135.0 119.5h0M134.0 121.0h0M125.5 115.5h0M147.0 141.9h0M161.0 136.6h0M146.2 128.5h0M174.5 140.1h0M131.5 132.3h0M164.3 135.2h0M172.3 134.1h0M159.4 135.7h0M152.2 142.0h0M159.4 133.9h0M193.4 140.1h0M156.8 129.6h0M170.6 137.8h0M189.6 143.0h0M182.1 138.2h0M147.1 134.8h0M183.6 134.0h0M183.6 141.7h0M176.6 129.7h0M170.3 126.7h0M140.3 127.5h0M142.1 133.3h0M143.8 132.7h0M158.8 129.5h0M157.0 136.5h0M135.9 131.5h0M181.9 132.7h0M185.8 142.1h0M185.7 137.6h0M178.3 140.4h0M186.9 143.6h0M176.3 131.8h0M136.5 134.2h0M153.0 128.6h0M173.7 141.0h0M171.0 132.9h0M160.9 129.4h0M166.9 136.6h0M158.9 140.1h0M181.3 138.8h0M179.1 140.7h0M184.0 142.7h0M163.1 131.2h0M179.9 133.1h0M162.0 133.5h0M146.2 137.6h0M153.0 134.9h0M137.4 140.2h0M160.5 127.3h0M154.4 139.4h0M166.5 127.6h0M158.8 141.8h0M171.0 137.7h0M155.8 139.1h0M169.4 136.3h0M151.5 131.1h0M157.3 126.8h0M189.9 140.2h0M185.5 139.2h0M139.3 135.2h0M172.2 141.7h0M149.2 130.1h0M183.7 136.6h0M134.9 137.1h0M175.8 139.3h0M166.6 136.9h0M191.3 143.0h0M177.9 134.4h0M178.1 134.6h0M141.2 137.4h0M167.4 130.2h0M139.1 133.7h0M173.7 140.4h0M139.0 132.0h0M155.9 131.5h0M143.4 139.4h0M171.3 133.0h0M159.3 135.5h0M154.9 137.6h0M151.8 126.6h0M183.0 137.2h0M169.7 132.3h0M165.0 136.8h0M147.5 127.9h0M136.0 133.7h0M175.6 137.2h0M139.3 134.1h0M135.3 136.2h0M166.8 136.4h0M147.2 134.4h0M159.2 130.5h0M158.9 137.2h0M152.6 138.8h0M188.7 135.8h0M180.4 143.3h0M184.2 138.4h0M145.4 128.4h0M142.7 127.9h0M167.3 135.6h0M180.0 142.1h0M155.1 132.4h0M156.6 135.8h0M167.1 132.1h0M187.5 136.6h0M163.2 129.4h0M154.2 135.1h0M185.6 140.6h0M148.9 132.3h0M146.9 142.0h0M140.6 130.5h0M144.7 127.9h0M155.0 137.6h0M187.5 143.6h0M178.5 134.7h0M161.7 129.5h0M143.5 140.0h0M154.9 136.5h0M141.0 135.4h0M140.2 138.9h0M169.1 126.8h0M168.4 128.3h0M133.5 131.1h0M186.3 141.4h0M133.4 135.6h0M186.4 135.6h0M151.9 140.4h0M181.8 132.8h0M154.5 133.3h0M154.3 131.6h0M165.4 128.5h0M163.2 134.3h0M143.0 128.8h0M134.4 130.6h0M136.1 135.6h0M179.9 132.1h0M153.3 126.5h0M182.6 131.4h0M164.9 126.1h0M174.1 128.1h0M150.4 138.9h0M154.5 126.8h0M180.3 138.9h0M184.1 138.4h0M157.1 134.7h0M158.2 129.7h0M176.2 140.8h0M163.1 128.8h0M158.5 138.1h0M187.8 136.5h0M167.6 136.9h0M180.1 134.7h0M148.1 139.1h0M184.7 138.3h0M183.6 139.9h0M191.2 138.6h0M152.3 140.3h0M163.1 136.5h0M167.1 130.8h0M149.1 129.2h0M156.3 135.5h0M170.0 127.5h0M148.3 127.9h0M172.3 132.9h0M157.1 132.4h0M139.0 141.9h0M136.7 129.7h0M133.3 136.1h0M176.4 138.7h0M179.6 137.1h0M190.6 137.8h0M147.5 139.5h0M138.7 133.9h0M149.4 129.4h0M174.3 137.8h0M168.2 137.8h0M132.4 134.2h0M140.8 129.7h0M161.6 140.8h0M178.8 140.9h0M150.9 128.9h0M164.9 130.6h0M168.4 127.5h0M145.8 131.7h0M182.6 137.5h0M190.9 139.3h0M144.1 129.9h0M191.6 139.3h0M165.6 140.5h0M157.2 128.4h0M176.4 133.7h0M179.1 138.7h0M150.4 142.7h0M159.6 126.5h0M155.7 127.7h0M147.1 139.6h0M187.9 135.1h0M173.9 138.8h0M161.8 128.9h0M185.9 139.4h0M140.6 142.1h0M177.2 132.3h0M144.8 133.9h0M149.5 135.4h0M142.3 128.4h0M163.1 128.4h0M155.2 130.1h0M151.6 139.8h0M153.2 140.3h0M164.4 138.6h0M174.3 139.1h0M156.8 136.5h0M171.6 140.7h0M133.0 134.7h0M190.6 137.5h0M159.3 132.9h0M150.9 127.3h0M141.2 139.7h0M145.6 136.6h0M149.4 139.7h0M194.2 141.4h0M179.8 135.0h0M171.7 137.1h0M150.5 141.8h0M144.2 134.1h0M141.4 138.4h0M135.0 139.7h0M158.9 141.0h0M168.0 127.4h0M177.8 133.9h0M156.6 139.1h0M192.4 140.5h0M153.7 133.6h0M185.2 135.7h0M181.8 141.8h0M168.8 140.7h0M166.8 134.6h0M180.8 133.2h0M157.9 132.5h0M170.3 126.6h0M134.2 135.8h0M165.7 128.0h0M148.8 130.3h0M175.6 137.3h0M137.2 131.8h0M162.0 137.9h0M157.5 132.9h0M176.2 141.4h0M177.9 135.8h0M169.0 135.0h0M156.1 139.1h0M179.9 136.8h0M168.3 127.1h0M156.1 131.3h0M142.3 130.7h0M173.5 139.8h0M131.8 135.5h0M192.7 142.2h0M132.9 131.6h0M146.8 129.4h0M140.5 130.4h0M137.8 132.3h0M192.1 142.2h0M180.4 142.2h0M146.1 136.3h0M147.9 132.0h0M155.1 129.8h0M163.7 132.8h0M171.4 129.1h0M139.5 141.5h0M165.5 132.1h0M141.0 137.9h0M149.3 137.7h0M170.0 136.7h0M157.3 127.4h0M139.7 133.5h0M190.5 136.0h0M151.5 127.6h0M145.3 137.6h0M189.8 143.7h0M148.0 127.2h0M163.3 141.2h0M147.4 130.2h0M145.1 136.3h0M169.7 131.1h0M182.4 135.2h0M158.8 126.4h0M159.6 132.4h0M187.8 126.9h0M195.3 114.8h0M188.2 125.0h0M189.7 120.2h0M189.2 118.2h0M190.0 125.2h0M189.3 117.6h0M186.3 126.7h0M187.8 128.8h0M189.7 117.3h0M187.4 118.4h0M188.7 121.6h0M188.3 115.3h0M194.1 114.3h0M190.6 119.6h0M188.6 113.0h0M192.2 118.2h0M188.8 122.5h0M194.7 114.6h0M195.0 112.9h0M188.7 115.2h0M192.4 117.0h0M187.6 123.1h0M195.9 114.8h0M195.4 116.3h0M195.1 111.8h0M190.0 113.2h0M187.3 121.7h0M186.3 128.7h0M193.7 110.4h0M193.4 118.5h0M189.8 125.0h0M187.9 120.1h0M191.6 114.0h0M189.4 113.0h0M190.5 120.4h0M167.0 112.3h0M171.6 122.9h0M169.4 114.0h0M166.1 117.4h0M174.6 114.1h0M166.1 113.5h0M165.6 123.1h0M171.0 128.5h0M174.2 117.0h0M169.9 127.8h0M170.0 123.1h0M165.3 112.6h0M168.9 115.6h0M169.9 117.0h0M171.3 116.2h0M166.7 129.5h0M174.6 122.7h0M168.9 121.5h0M174.5 120.9h0M168.5 113.7h0M165.0 121.8h0M172.6 117.6h0M175.9 115.1h0M166.1 119.2h0M170.3 125.8h0M171.2 113.3h0M171.8 118.9h0M173.8 121.4h0M171.8 121.9h0M169.4 118.0h0M173.4 123.2h0M173.0 118.2h0M170.2 127.4h0M169.9 116.7h0M170.3 124.0h0M172.1 115.4h0M166.6 121.5h0M174.8 116.8h0M174.3 117.7h0M172.5 116.9h0M174.6 120.6h0M174.6 113.2h0M171.4 123.6h0M166.7 112.1h0M169.5 123.1h0M169.6 122.0h0M166.1 117.6h0M172.1 123.6h0M168.5 126.9h0M204.4 118.1h0M196.4 127.4h0M190.5 143.3h0M202.1 124.2h0M204.8 122.6h0M195.2 135.5h0M201.6 132.1h0M195.9 136.4h0M186.3 141.6h0M188.6 145.1h0M200.5 125.1h0M199.5 128.6h0M193.5 136.0h0M189.0 141.7h0M203.3 121.1h0M197.6 129.8h0M190.1 144.4h0M203.3 125.2h0M201.3 128.9h0M201.6 125.7h0M201.6 130.1h0M197.9 131.1h0M203.6 122.9h0M190.7 140.4h0M191.5 134.5h0M199.4 131.7h0M186.0 144.9h0M206.7 115.4h0M186.4 145.3h0M193.5 135.2h0M206.3 120.2h0M190.6 143.7h0M197.3 133.9h0M197.5 134.1h0M192.2 137.6h0M189.2 141.6h0M197.3 128.4h0M204.2 124.3h0M201.7 126.8h0M198.9 132.8h0M191.0 142.2h0M197.9 127.6h0M189.8 144.9h0M199.2 126.1h0M187.2 140.0h0M202.2 127.1h0M204.8 119.6h0M191.7 142.0h0M192.9 140.5h0M201.3 131.5h0M194.6 133.9h0M205.3 118.2h0M189.9 139.2h0M201.9 122.9h0M190.7 141.0h0M190.2 137.1h0M186.2 141.8h0M202.0 124.2h0M198.2 134.6h0M207.0 115.3h0M206.4 117.2h0M190.1 140.3h0M198.0 136.4h0M193.8 137.3h0M192.3 134.8h0M202.3 124.7h0M192.4 140.0h0M206.7 115.7h0M187.8 138.2h0M199.1 134.7h0M190.9 136.6h0M187.0 140.1h0M197.0 132.4h0M192.6 136.8h0M201.8 124.5h0M205.5 116.9h0M202.9 122.0h0M192.5 132.1h0M161.2 179.9h0M160.1 166.7h0M154.0 164.2h0M151.7 170.5h0M152.8 176.6h0M165.1 171.4h0M166.5 176.9h0M162.7 178.9h0M155.2 166.1h0M156.2 166.0h0M166.3 167.0h0M160.0 164.2h0M159.7 163.4h0M162.9 172.2h0M159.0 170.5h0M164.2 181.2h0M164.4 168.3h0M154.4 172.3h0M164.2 170.6h0M163.5 166.8h0M158.5 170.1h0M163.9 169.6h0M165.6 166.3h0M153.3 170.2h0M157.4 171.9h0M165.0 175.8h0M161.2 170.7h0M152.9 171.9h0M163.8 173.4h0M161.4 164.8h0M165.1 180.6h0M156.0 163.1h0M152.5 165.9h0M166.4 170.8h0M166.3 178.4h0M156.0 172.3h0M154.3 172.1h0M157.7 177.8h0M152.9 171.3h0M157.3 171.9h0M161.5 165.5h0M160.9 166.6h0M161.2 168.8h0M164.8 179.2h0M151.8 172.2h0M152.0 165.7h0M158.5 168.1h0M159.5 167.2h0M159.4 172.8h0M163.8 178.6h0M166.8 175.6h0M153.4 168.4h0M159.5 174.9h0M157.5 170.7h0M164.6 177.2h0M156.3 162.9h0M153.4 174.0h0M155.3 176.6h0M163.7 169.3h0M157.4 163.3h0M154.2 177.0h0M156.1 168.8h0M160.6 168.6h0M157.5 166.6h0M157.8 169.5h0M165.6 174.1h0M156.3 169.7h0M155.5 172.2h0M165.4 181.1h0M155.8 164.2h0M157.6 168.9h0M166.4 171.8h0M157.6 170.9h0M164.8 171.5h0M152.6 165.4h0M155.1 165.7h0M165.2 167.2h0M163.5 181.9h0M158.5 169.9h0M156.4 171.1h0M164.0 167.2h0M158.4 168.9h0M161.8 165.2h0M154.7 175.0h0M151.2 171.2h0M151.7 168.8h0M164.7 173.3h0M157.4 168.2h0M159.7 165.5h0M156.2 163.0h0M163.9 176.2h0M163.2 169.1h0M153.3 175.0h0M167.0 174.8h0M154.6 170.7h0M156.7 164.2h0M162.8 180.1h0M158.7 176.0h0M151.7 172.5h0M164.2 170.5h0M155.3 176.6h0M164.5 171.0h0M159.2 165.3h0M164.2 168.4h0M153.6 167.1h0M157.1 165.8h0M158.4 166.6h0M152.2 174.8h0M159.4 168.6h0M152.5 174.6h0M166.7 174.8h0M156.5 170.4h0M152.9 166.1h0M158.5 178.2h0M154.5 168.7h0M165.6 169.6h0M158.1 163.6h0M155.6 170.0h0M164.6 168.8h0M166.2 168.2h0M151.5 172.7h0M160.0 163.3h0M161.9 166.1h0M164.8 179.4h0M162.6 169.5h0M151.2 171.6h0M159.9 170.6h0M158.7 172.9h0M156.5 165.4h0M160.8 169.0h0M152.5 173.4h0M161.4 172.1h0M160.4 177.4h0M155.1 161.9h0M139.6 155.5h0M140.4 153.3h0M149.9 161.1h0M143.8 154.7h0M143.0 156.3h0M152.8 156.5h0M144.8 153.4h0M153.9 160.5h0M152.5 158.5h0M143.3 153.7h0M148.3 159.0h0M148.6 161.2h0M126.3 162.8h0M127.6 162.3h0M127.8 162.0h0M134.2 158.3h0M136.1 169.8h0M126.1 167.5h0M140.9 170.0h0M141.2 168.6h0M166.9 152.7h0M175.7 157.8h0M163.5 154.1h0M167.2 153.2h0M174.6 155.6h0M168.5 158.9h0M165.3 158.0h0M167.3 159.3h0M167.8 152.5h0M151.7 144.5h0M154.1 143.4h0M158.2 143.5h0M153.2 148.7h0M145.7 145.4h0M154.8 147.3h0M145.0 142.4h0M158.1 145.3h0M148.9 142.3h0M154.1 148.5h0M151.4 145.6h0M148.9 146.3h0M129.9 152.1h0M105.7 151.8h0M136.6 151.7h0M115.0 157.0h0M136.4 155.4h0M141.3 161.9h0M143.5 156.2h0M114.3 154.6h0M116.3 157.6h0M139.1 163.6h0M144.6 154.9h0M146.1 166.6h0M135.0 164.3h0M101.2 151.4h0M119.5 156.8h0M109.7 158.4h0M109.2 156.6h0M118.6 153.8h0M119.7 154.2h0M106.3 152.7h0M118.5 156.5h0M126.5 154.5h0M125.4 154.6h0M111.4 156.9h0M132.0 153.2h0M112.6 154.4h0M129.5 145.6h0M135.9 143.0h0M131.4 141.3h0M121.1 136.7h0M126.2 139.5h0M144.6 142.9h0M144.2 144.7h0M126.2 136.9h0M134.4 146.8h0M132.0 137.6h0M126.1 135.3h0M142.8 146.3h0M124.0 130.2h0M142.2 140.8h0M122.9 134.9h0M124.3 131.0h0M132.3 141.7h0M137.2 146.2h0M134.0 147.3h0M135.1 140.6h0M128.4 139.6h0M122.2 132.2h0M146.8 145.8h0M148.6 208.4h0M147.6 213.3h0M146.6 217.4h0M147.0 222.0h0M148.0 222.5h0M147.5 224.0h0M146.8 223.2h0M237.2 146.1h0M242.3 147.5h0M244.0 148.6h0M246.0 149.7h0M246.7 153.4h0M247.8 155.2h0M248.9 157.0h0M234.3 159.9h0M238.0 159.5h0M240.0 160.0h0M241.6 159.2h0M332.7 83.4h0M312.2 94.9h0M337.8 93.0h0M330.6 87.4h0M309.6 94.4h0M318.4 93.9h0M334.8 88.0h0M341.1 87.8h0M328.3 88.5h0M304.3 96.6h0M321.1 91.0h0M305.6 101.6h0M308.7 88.7h0M313.2 93.6h0M348.4 85.8h0M348.6 82.3h0M335.0 82.1h0M322.6 87.4h0M328.0 89.7h0M332.5 86.1h0M337.5 83.0h0M314.5 93.8h0M301.8 94.9h0M303.4 94.5h0M302.8 90.4h0M305.8 90.7h0M340.9 84.9h0M329.7 85.6h0M318.5 91.7h0M336.3 88.1h0M306.1 99.1h0M303.3 100.0h0M325.1 86.0h0M339.6 82.7h0M340.3 87.6h0M324.5 90.7h0M307.1 101.3h0M339.5 87.7h0M350.2 83.7h0M307.8 99.6h0M312.8 89.5h0M307.3 90.6h0M315.2 88.9h0M307.9 94.7h0M306.6 97.0h0M330.6 87.5h0M308.9 95.0h0M338.5 84.4h0M321.5 93.7h0M316.5 94.1h0M334.3 87.6h0M345.6 85.2h0M309.6 91.2h0M352.5 84.7h0M326.9 89.1h0M337.6 85.9h0M335.8 85.6h0M334.2 88.8h0M308.9 88.7h0M339.3 85.3h0M333.3 89.6h0M332.9 85.6h0M305.2 92.9h0M309.6 96.6h0M337.3 84.0h0M323.8 92.6h0M309.7 95.3h0M333.0 90.7h0M309.2 92.0h0M305.9 97.9h0M337.1 85.2h0M302.5 97.2h0M340.3 86.2h0M310.9 89.5h0M316.9 93.0h0M338.1 82.4h0M330.0 92.1h0M318.7 87.7h0M311.8 91.2h0M305.5 97.7h0M350.4 84.6h0M321.7 93.9h0M312.0 94.7h0M342.1 82.1h0M331.3 89.6h0M304.3 102.3h0M338.5 90.7h0M313.6 93.8h0M335.9 83.9h0M321.1 90.2h0M342.6 81.5h0M328.9 88.0h0M299.7 92.2h0M326.6 91.1h0M314.3 94.4h0M313.5 94.9h0M338.5 82.2h0M336.9 82.5h0M307.0 93.1h0M309.5 89.2h0M324.1 92.1h0M316.6 87.4h0M339.9 85.3h0M308.9 101.5h0M340.2 90.2h0M312.3 95.1h0M334.7 82.3h0M339.6 88.9h0M329.5 84.0h0M336.8 86.8h0M351.5 83.7h0M341.9 90.0h0M317.3 92.6h0M316.8 91.6h0M308.5 95.1h0M335.0 90.5h0M307.6 88.8h0M316.3 90.9h0M303.8 92.3h0M308.3 90.4h0M301.6 89.1h0M317.6 88.3h0M318.4 92.8h0M334.2 82.7h0M303.9 91.9h0M302.3 100.2h0M303.9 89.5h0M348.2 83.7h0M322.2 87.8h0M301.0 94.1h0M352.2 84.8h0M310.1 96.3h0M340.6 81.4h0M307.3 96.3h0M348.4 81.6h0M328.3 91.3h0M315.9 93.1h0M333.1 89.7h0M324.3 93.3h0M312.7 89.2h0M305.8 93.3h0M343.1 81.8h0M310.5 90.4h0M325.7 89.2h0M306.0 97.8h0M341.6 84.0h0M330.1 87.6h0M322.2 90.8h0M337.3 81.5h0M300.1 90.9h0M320.7 91.9h0M308.5 89.5h0M347.6 85.5h0M339.5 91.6h0M309.8 97.4h0M332.3 88.3h0M325.7 87.7h0M321.6 91.0h0M350.4 86.4h0M307.2 94.3h0M334.1 84.9h0M338.9 84.4h0M322.4 88.8h0M347.9 82.9h0M322.5 93.3h0M321.9 93.7h0M335.0 89.4h0M300.4 90.8h0M343.6 83.8h0M313.2 92.6h0M319.6 87.7h0M339.8 83.0h0M302.5 95.5h0M305.1 93.2h0M334.5 82.5h0M331.9 84.2h0M311.2 93.3h0M302.0 91.8h0M341.5 90.5h0M316.9 87.3h0M308.5 99.3h0M300.5 91.4h0M352.2 84.4h0M334.8 86.4h0M306.9 101.6h0M341.2 85.1h0M332.7 83.9h0M332.8 87.4h0M321.4 92.1h0M299.1 91.9h0M327.2 84.8h0M301.4 91.1h0M347.4 82.7h0M346.9 83.8h0M335.9 83.5h0M318.7 94.5h0M349.1 86.2h0M298.3 73.5h0M292.7 74.4h0M298.8 72.8h0M292.8 74.1h0M297.7 73.4h0M309.7 78.8h0M299.8 72.7h0M305.1 76.5h0M304.4 74.6h0M300.3 73.1h0M302.3 75.5h0M308.4 78.2h0M306.1 75.5h0M301.9 74.9h0M306.1 75.6h0M302.5 75.7h0M302.7 75.4h0M300.8 74.4h0M305.1 76.8h0M314.5 80.4h0M316.8 80.4h0M316.2 83.4h0M322.0 83.4h0M323.8 84.5h0M301.0 82.0h0M304.0 83.0h0M302.0 85.5h0M305.0 86.5h0M300.5 87.5h0M211.4 49.3h0M201.4 34.7h0M179.5 44.1h0M192.3 32.8h0M136.8 72.5h0M198.6 76.6h0M199.5 70.7h0M200.6 77.2h0M203.8 46.3h0M185.5 67.2h0M141.8 66.2h0M162.7 54.5h0M173.9 79.6h0M198.4 70.5h0M214.4 54.3h0M205.8 30.4h0M197.8 25.9h0M182.4 60.1h0M185.9 27.7h0M200.8 66.9h0M168.2 66.8h0M152.9 71.8h0M212.3 74.7h0M157.6 77.1h0M152.4 54.7h0M141.0 54.8h0M131.7 68.0h0M180.4 48.0h0M194.7 32.7h0M201.3 78.0h0M205.6 60.6h0M200.8 67.3h0M218.5 76.9h0M182.5 57.0h0M203.2 43.2h0M155.8 53.8h0M170.3 39.0h0M162.6 72.9h0M191.4 61.7h0M152.3 73.2h0M195.2 27.1h0M179.3 41.4h0M188.9 62.7h0M156.5 52.8h0M184.7 31.7h0M196.9 42.7h0M145.2 69.1h0M191.9 51.6h0M168.7 60.5h0M163.2 47.1h0M181.6 78.0h0M198.4 24.7h0M203.3 68.5h0M191.1 60.4h0M151.8 50.9h0M154.9 69.2h0M169.6 51.1h0M171.1 70.6h0M169.4 70.9h0M143.9 57.7h0M151.3 56.1h0M207.3 55.3h0M158.8 47.7h0M168.2 41.1h0M180.9 39.8h0M165.8 79.2h0M202.3 75.2h0M154.0 47.0h0M139.5 78.0h0M195.1 64.6h0M157.0 63.2h0M199.0 61.2h0M157.4 61.3h0M141.0 73.8h0M211.2 71.8h0M178.8 64.8h0M209.7 69.7h0M169.7 46.0h0M219.0 63.6h0M164.8 43.4h0M178.8 66.0h0M160.5 45.6h0M191.2 43.9h0M174.6 76.7h0M148.1 78.8h0M138.3 64.0h0M206.2 31.4h0M176.3 34.7h0M163.9 43.2h0M201.4 34.7h0M143.5 74.9h0M182.7 60.4h0M191.9 54.0h0M189.4 61.5h0M203.8 62.9h0M192.7 77.9h0M148.1 73.7h0M184.2 70.0h0M140.9 63.2h0M168.3 65.1h0M212.5 56.6h0M221.2 77.3h0M216.6 68.5h0M182.2 37.9h0M142.4 73.1h0M195.3 56.9h0M195.6 62.6h0M196.3 61.0h0M195.6 28.8h0M142.7 50.0h0M152.6 59.1h0M205.5 24.5h0M205.9 56.3h0M164.0 73.7h0M178.8 66.4h0M184.0 48.9h0M184.3 35.2h0M185.6 77.6h0M184.4 44.6h0M155.8 57.0h0M150.5 66.8h0M173.0 54.7h0M154.6 67.6h0M196.8 61.5h0M204.8 28.8h0M218.1 61.2h0M197.0 53.5h0M194.4 55.8h0M136.7 75.0h0M164.3 41.4h0M194.2 44.1h0M172.4 44.6h0M179.9 77.8h0M150.6 64.5h0M168.1 73.3h0M176.3 72.4h0M170.3 79.3h0M191.0 76.3h0M191.3 73.7h0M210.4 59.6h0M198.7 61.8h0M207.0 71.0h0M212.8 69.3h0M209.6 61.3h0M164.1 58.0h0M181.8 31.4h0M157.4 75.0h0M176.7 45.9h0M201.4 57.5h0M175.7 62.0h0M207.6 78.2h0M186.7 40.2h0M205.2 36.7h0M201.1 60.9h0M198.9 26.8h0M168.2 67.1h0M170.5 76.2h0M218.9 69.2h0M153.2 54.2h0M136.2 56.5h0M214.1 52.9h0M173.9 70.3h0M207.4 57.0h0M154.4 78.2h0M221.9 71.4h0M177.6 73.2h0M158.7 63.2h0M185.3 49.0h0M208.3 57.4h0M185.1 71.7h0M181.5 76.1h0M172.6 59.5h0M220.3 75.3h0M205.6 64.6h0M145.5 78.0h0M192.7 48.3h0M152.9 60.9h0M195.6 47.8h0M184.0 45.7h0M157.2 56.2h0M191.8 46.9h0M159.3 74.3h0M180.7 65.4h0M174.0 40.9h0M177.6 76.7h0M139.9 48.5h0M188.6 53.0h0M191.0 44.4h0M196.0 76.8h0M191.7 50.3h0M221.7 68.1h0M143.9 70.9h0M199.5 25.9h0M151.9 76.6h0M190.6 77.4h0M139.8 77.8h0M189.5 75.6h0M171.1 61.4h0M184.4 67.4h0M189.6 40.7h0M201.6 34.5h0M145.6 51.6h0M196.5 41.8h0M196.3 68.3h0M151.9 52.1h0M144.3 63.7h0M177.5 52.6h0M160.8 46.6h0M176.4 61.9h0M191.8 77.6h0M148.7 73.2h0M172.4 72.3h0M138.3 61.7h0M194.6 49.0h0M207.1 37.3h0M174.4 70.6h0M193.4 64.5h0M143.8 76.0h0M183.7 43.8h0M216.0 65.8h0M212.4 53.0h0M178.8 68.7h0M141.7 63.0h0M208.0 68.9h0M210.6 56.6h0M209.6 47.6h0M183.4 63.2h0M142.9 61.9h0M134.2 68.1h0M189.1 78.1h0M212.1 45.4h0M173.5 45.5h0M177.6 67.7h0M140.3 70.9h0M190.8 39.5h0M198.2 59.3h0M133.1 73.8h0M171.5 60.3h0M193.5 79.7h0M179.4 39.4h0M149.7 60.9h0M134.7 67.3h0M182.8 62.7h0M144.5 50.1h0M156.5 59.6h0M176.9 64.5h0M185.1 66.3h0M198.7 69.3h0M189.6 36.1h0M163.7 61.1h0M204.6 44.8h0M149.2 68.7h0M202.4 69.2h0M205.3 71.4h0M162.6 53.4h0M193.0 69.3h0M173.8 50.0h0M195.6 27.8h0M208.9 72.5h0M186.9 39.5h0M190.5 76.3h0M187.5 67.8h0M154.0 67.8h0M148.2 70.3h0M190.4 43.0h0M153.8 57.1h0M198.2 59.2h0M190.4 29.8h0M179.6 76.7h0M197.1 59.9h0M163.1 41.2h0M163.4 72.7h0M141.0 71.2h0M183.5 43.5h0M173.8 48.6h0M167.0 72.2h0M201.5 42.5h0M187.5 67.1h0M199.5 29.4h0M166.4 66.1h0M165.0 40.4h0M135.8 70.9h0M197.6 43.4h0M198.8 42.0h0M188.1 62.9h0M183.3 76.1h0M193.4 50.9h0M193.7 29.9h0M194.7 56.0h0M192.7 54.5h0M178.3 58.2h0M192.3 78.1h0M164.8 47.5h0M182.4 54.1h0M148.9 67.5h0M147.4 77.6h0M204.7 29.1h0M176.2 38.2h0M175.5 70.6h0M203.1 74.7h0M191.8 56.4h0M196.0 47.8h0M184.9 54.2h0M213.7 64.9h0M206.2 31.7h0M144.8 57.3h0M156.3 66.8h0M154.6 69.2h0M204.4 79.4h0M209.6 50.0h0M135.3 52.0h0M202.1 76.5h0M141.3 51.5h0M132.0 68.7h0M159.4 74.1h0M178.9 44.8h0M142.5 75.5h0M191.1 54.2h0M192.7 71.8h0M134.5 67.5h0M161.4 67.9h0M189.3 32.4h0M160.5 51.1h0M180.7 64.2h0M201.7 75.5h0M212.4 65.4h0M191.3 31.2h0M182.4 54.9h0M152.9 76.2h0M135.1 73.9h0M169.1 48.9h0M172.0 78.7h0M213.3 62.6h0M204.1 67.2h0M166.0 53.7h0M131.2 68.2h0M145.8 58.1h0M185.5 69.4h0M189.4 39.4h0M201.1 30.9h0M186.6 46.1h0M186.1 74.4h0M196.9 39.3h0M135.4 72.9h0M133.8 64.0h0M193.9 47.7h0M148.8 69.8h0M204.7 53.0h0M205.9 58.9h0M147.3 54.6h0M214.1 77.1h0M142.2 63.4h0M178.4 59.1h0M168.1 72.3h0M165.1 63.8h0M162.8 47.9h0M185.5 75.9h0M190.8 31.4h0M148.6 59.9h0M202.6 25.2h0M181.0 50.9h0M142.5 67.4h0M149.3 78.1h0M172.3 60.1h0M157.3 69.1h0M164.2 69.3h0M195.4 33.0h0M218.8 71.0h0M181.5 48.5h0M138.7 50.4h0M198.4 35.9h0M202.9 34.9h0M211.2 68.9h0M212.5 76.8h0M170.7 51.0h0M185.7 45.5h0M138.6 76.4h0M184.8 65.2h0M201.2 46.9h0M154.8 68.5h0M183.5 66.5h0M164.0 50.6h0M205.0 31.6h0M138.4 50.3h0M136.6 64.5h0M203.9 52.9h0M193.2 48.0h0M134.0 59.7h0M175.6 78.9h0M198.5 24.4h0M182.4 38.8h0M173.9 61.0h0M187.8 50.4h0M172.7 65.8h0M178.0 32.6h0M160.2 78.5h0M215.1 75.4h0M153.6 48.9h0M196.0 76.1h0M207.2 55.3h0M177.7 67.3h0M149.6 59.5h0M175.5 48.2h0M213.0 75.9h0M188.1 50.8h0M183.2 49.7h0M176.4 60.4h0M187.8 57.9h0M171.1 62.2h0M193.4 28.2h0M130.7 68.6h0M191.0 53.6h0M203.1 57.6h0M157.1 78.9h0M168.6 65.7h0M195.7 46.9h0M165.3 54.8h0M133.3 55.6h0M171.3 63.6h0M206.1 76.3h0M200.1 73.9h0M211.9 46.4h0M145.8 77.6h0M202.5 25.7h0M203.0 70.1h0M167.1 68.9h0M190.4 44.9h0M179.1 73.8h0M162.2 43.9h0M185.4 41.0h0M204.1 65.2h0M171.8 64.9h0M199.3 58.0h0M195.0 31.3h0M211.1 52.8h0M182.8 69.4h0M168.0 73.1h0M183.3 48.6h0M164.2 79.9h0M187.5 45.0h0M134.2 73.3h0M197.0 63.0h0M134.0 57.0h0M171.0 42.7h0M177.0 47.1h0M196.0 63.5h0M158.3 70.1h0M142.3 59.4h0M174.8 77.5h0M198.5 71.5h0M185.2 34.1h0M194.3 79.0h0M178.1 77.3h0M199.3 23.9h0M181.7 54.8h0M159.0 78.2h0M209.9 65.9h0M204.2 70.5h0M201.6 77.9h0M141.3 76.6h0M144.7 52.9h0M138.9 78.6h0M157.8 51.4h0M156.0 60.5h0M198.2 50.7h0M169.7 66.9h0M140.7 76.3h0M170.0 68.6h0M151.5 51.4h0M176.9 41.0h0M220.5 71.3h0M205.5 51.1h0M148.5 55.7h0M209.6 76.2h0M187.4 66.9h0M168.9 69.0h0M132.2 71.8h0M168.0 74.0h0M191.3 29.0h0M144.9 74.4h0M202.6 29.6h0M152.3 69.1h0M194.1 62.2h0M165.9 42.4h0M219.3 75.8h0M214.0 71.0h0M178.8 56.7h0M213.7 57.8h0M197.1 72.7h0M211.9 56.9h0M196.8 41.9h0M171.4 54.6h0M192.9 32.7h0M165.1 56.7h0M135.5 57.6h0M176.6 37.2h0M163.8 42.5h0M191.5 47.8h0M157.3 58.5h0M194.0 46.2h0M155.1 58.4h0M149.1 59.4h0M175.0 70.6h0M202.0 79.6h0M194.3 72.7h0M193.0 28.5h0M170.3 58.0h0M164.4 54.9h0M183.8 74.0h0M187.0 31.4h0M215.9 67.5h0M179.4 44.4h0M177.5 76.1h0M145.7 59.7h0M183.6 78.6h0M207.7 78.0h0M185.9 40.1h0M179.5 63.0h0M214.3 68.5h0M155.9 76.2h0M216.2 70.4h0M188.7 33.5h0M201.4 32.8h0M160.6 51.1h0M210.8 45.8h0M149.2 75.5h0M189.1 78.8h0M221.8 72.0h0M194.1 57.0h0M159.8 54.3h0M147.3 79.4h0M152.3 60.9h0M147.5 75.0h0M192.6 43.4h0M214.6 61.1h0M155.8 67.0h0M162.4 60.9h0M159.0 59.1h0M167.2 49.7h0M198.9 77.3h0M199.5 38.9h0M207.5 50.5h0M205.6 40.0h0M186.7 57.8h0M167.7 62.6h0M209.2 40.6h0M191.8 47.2h0M182.2 58.9h0M203.6 25.9h0M183.4 62.0h0M172.1 73.9h0M181.0 36.4h0M209.7 79.4h0M204.4 30.0h0M206.9 52.3h0M164.8 71.6h0M154.0 68.2h0M132.9 68.4h0M135.8 52.1h0M156.0 68.0h0M136.7 58.4h0M217.0 68.2h0M193.0 67.7h0M171.4 78.6h0M172.8 67.5h0M211.2 49.6h0M198.7 63.4h0M184.8 53.4h0M180.5 57.5h0M155.8 69.4h0M212.0 53.8h0M151.8 79.9h0M170.4 45.2h0M179.9 46.6h0M165.8 50.6h0M196.3 63.9h0M215.4 78.7h0M219.8 66.3h0M186.5 51.2h0M197.8 58.3h0M176.5 37.0h0M192.3 25.3h0M193.5 69.7h0M150.6 74.0h0M197.2 36.5h0M178.2 61.4h0M170.8 74.9h0M201.7 60.9h0M178.5 35.6h0M174.1 77.1h0M208.9 52.4h0M192.0 59.2h0M165.8 52.4h0M183.5 55.4h0M192.8 79.8h0M146.3 53.8h0M147.8 53.8h0M144.9 55.4h0M153.7 48.9h0M156.7 40.8h0M144.3 47.0h0M149.5 56.5h0M144.1 42.9h0M144.9 51.6h0M149.1 44.9h0M157.7 51.7h0M146.1 42.9h0M158.1 50.1h0M152.1 41.8h0M150.0 43.8h0M149.6 51.1h0M149.1 56.8h0M157.3 41.7h0M153.5 41.6h0M154.8 47.6h0M147.6 48.1h0M148.3 57.2h0M158.2 52.6h0M148.7 46.0h0M156.1 52.3h0M150.8 41.3h0M152.9 45.2h0M152.6 47.1h0M151.1 54.7h0M147.5 49.2h0M153.3 47.8h0M156.0 42.8h0M157.4 47.8h0M145.9 47.1h0" stroke="#D3D3D3" stroke-width="2.7" stroke-linecap="round" fill="none"/>
<path d="M135.1 71.8h0M156.4 75.1h0M141.5 78.3h0M149.9 74.9h0M155.5 78.8h0M145.1 71.8h0M135.9 51.3h0M133.4 65.5h0M134.7 69.6h0M151.1 70.2h0M149.2 74.8h0M148.8 77.1h0M155.2 77.1h0M131.5 71.7h0M138.7 60.3h0M137.4 70.2h0M145.7 74.0h0M135.5 68.5h0M161.5 74.2h0M136.8 68.4h0M140.4 78.4h0M146.2 61.1h0M148.6 60.1h0M150.7 74.5h0M149.2 74.1h0M137.5 74.4h0M133.4 70.6h0M161.7 72.0h0M154.5 62.2h0M135.6 60.8h0M158.0 75.1h0M154.1 68.2h0M156.6 70.7h0M144.5 72.8h0M137.0 67.7h0M158.3 77.6h0M155.6 66.7h0M139.4 69.5h0M151.3 58.8h0M149.2 70.8h0M150.3 69.4h0M138.8 69.4h0M135.0 52.8h0M131.9 54.1h0M138.5 65.5h0M152.6 62.7h0M159.2 78.4h0M137.2 77.2h0M130.4 61.9h0M135.5 53.1h0M141.5 63.6h0M160.2 73.3h0M135.2 76.5h0M149.7 62.5h0M140.9 75.4h0M152.3 63.7h0M156.7 68.4h0M131.4 62.6h0M140.3 52.1h0M138.2 54.9h0M136.9 51.5h0M138.6 69.1h0M147.1 60.5h0M130.8 64.1h0M145.9 66.1h0M138.2 67.6h0M135.7 77.2h0M158.5 64.2h0M136.3 68.1h0M129.1 69.5h0M136.4 72.9h0M157.9 78.7h0M145.9 69.5h0M141.9 75.9h0M146.2 71.1h0M136.0 71.4h0M130.7 62.8h0M134.1 70.6h0M149.1 75.3h0M151.9 71.6h0M145.1 63.1h0M148.8 63.5h0M132.1 55.4h0M138.1 62.4h0M137.9 74.3h0M153.4 77.5h0M139.2 79.1h0M153.5 76.1h0M141.2 60.2h0M161.4 73.8h0M144.4 76.0h0M135.2 77.3h0M131.4 68.4h0M149.8 59.6h0M157.1 74.3h0M138.5 71.8h0M139.7 60.7h0M161.2 75.6h0M143.6 78.3h0M134.9 58.9h0M162.9 76.4h0M144.5 62.3h0M154.3 70.7h0M156.7 71.4h0M151.2 63.4h0M144.9 72.7h0M159.2 76.7h0M154.3 62.7h0M148.8 57.9h0M132.4 63.3h0M134.7 65.6h0M152.9 73.7h0M150.7 58.6h0M128.8 69.0h0M136.4 56.4h0M145.4 68.4h0M154.2 73.5h0M159.8 69.5h0M155.1 73.9h0M156.5 70.0h0M155.7 76.3h0M157.6 69.2h0M145.3 72.4h0M135.5 54.2h0M145.9 68.8h0M135.5 72.6h0M158.8 67.1h0M147.5 74.2h0M154.2 67.0h0M155.3 75.4h0M141.6 76.9h0M147.9 68.2h0M145.7 67.7h0M133.6 65.0h0M156.9 78.7h0M142.0 65.4h0M144.9 78.9h0M132.0 63.7h0M159.1 73.9h0M147.9 71.6h0M161.0 70.3h0M139.7 51.4h0M133.6 74.1h0M162.4 76.8h0M145.0 79.2h0M135.9 52.7h0M149.0 60.3h0M135.8 50.9h0M134.5 52.1h0M145.4 62.2h0M134.6 59.7h0M139.1 62.6h0M133.9 56.6h0M150.1 65.6h0M140.3 59.2h0M152.4 67.0h0M152.6 73.7h0M149.3 69.9h0M142.7 59.4h0M155.5 63.5h0M132.9 56.1h0M157.8 69.2h0M157.1 67.6h0M129.5 66.0h0M153.2 60.0h0M151.7 66.6h0M136.2 63.6h0M135.3 55.6h0M156.1 77.7h0M143.8 59.4h0M157.4 71.3h0M160.2 76.7h0M146.7 79.0h0M144.6 78.5h0M136.9 70.7h0M149.9 77.7h0M132.8 63.2h0M144.7 66.3h0M150.6 67.5h0M161.7 72.9h0M143.2 69.4h0M138.0 73.4h0M154.5 67.3h0M152.6 77.7h0M153.0 76.1h0M138.1 55.7h0M158.4 69.6h0M135.9 71.9h0M150.5 78.6h0M159.1 79.0h0M138.3 74.9h0M136.3 66.5h0M144.5 74.1h0M159.8 68.5h0M135.1 62.4h0M156.8 77.4h0M131.2 59.2h0M144.0 77.0h0M141.2 57.1h0M157.3 69.9h0M141.9 76.5h0M139.7 53.4h0M146.0 62.4h0M144.4 62.8h0M154.7 68.8h0M137.7 78.0h0M132.4 61.5h0M132.4 63.5h0M144.0 78.6h0M142.6 64.7h0M135.4 63.6h0M149.0 69.1h0M163.8 76.4h0M152.8 65.3h0M136.0 58.7h0M154.6 64.9h0M156.1 74.1h0M149.2 60.0h0M153.9 74.4h0M156.5 78.5h0M137.1 77.7h0M150.1 62.3h0M144.5 74.0h0M134.8 71.4h0M151.9 74.2h0M134.2 61.5h0M147.4 73.7h0M155.7 74.8h0M136.0 72.8h0M137.9 57.0h0M158.0 62.6h0M142.3 67.5h0M133.2 61.9h0M162.6 77.2h0M150.5 73.1h0M133.3 56.6h0M136.8 67.7h0M143.7 63.5h0M141.7 75.2h0M147.1 71.6h0M146.4 69.4h0M132.7 72.7h0M135.3 63.9h0M161.5 78.0h0M136.4 64.2h0M139.3 66.9h0M160.6 79.1h0M152.1 65.8h0M141.0 69.4h0M135.5 69.7h0M92.2 71.0h0M96.1 70.4h0M93.8 70.7h0M98.6 66.6h0M98.8 67.9h0M95.5 69.6h0M96.7 68.2h0M100.8 66.8h0M94.8 69.5h0M106.7 67.7h0M104.4 68.1h0M106.8 67.3h0M104.4 67.6h0M106.6 67.8h0M108.3 67.9h0M105.3 67.7h0M103.7 66.7h0M172.0 75.6h0M176.8 71.5h0M180.4 77.7h0M169.6 68.9h0M169.5 74.6h0M177.5 72.3h0M185.3 77.7h0M179.0 68.5h0M184.2 76.0h0M174.5 76.9h0M177.8 73.7h0M186.8 73.7h0M171.8 73.1h0M181.2 69.4h0M172.1 71.0h0M173.4 72.7h0M181.8 72.3h0M180.5 77.7h0M173.4 67.8h0M176.4 70.8h0M173.6 73.5h0M175.1 77.0h0M186.4 74.6h0M177.5 76.7h0M175.7 70.7h0M175.2 68.5h0M177.8 69.2h0M185.5 76.0h0M171.6 74.9h0M148.8 54.0h0M154.5 56.6h0M152.8 52.9h0M155.2 53.9h0M151.4 52.5h0M146.2 55.3h0M161.4 48.8h0M166.5 49.9h0M159.1 53.8h0M160.1 53.2h0M157.5 50.9h0M163.9 49.1h0M158.0 49.7h0" stroke="#FB61D7" stroke-width="2.7" stroke-linecap="round" fill="none"/>
<path d="M162.4 75.9h0M148.0 78.8h0M137.3 52.9h0M134.0 62.6h0M129.5 69.0h0M134.4 57.5h0M132.6 66.3h0M131.1 61.5h0M152.8 66.6h0M138.9 70.9h0M179.6 69.7h0M183.9 74.7h0M176.6 73.2h0M178.4 71.1h0M162.8 45.2h0M130.1 71.2h0M139.8 66.1h0M160.8 79.4h0M170.0 79.4h0M180.2 72.7h0M187.3 79.4h0" stroke="#A58AFF" stroke-width="2.7" stroke-linecap="round" fill="none"/>
<path d="M193.7 29.1h0M179.0 46.7h0M180.6 46.6h0M191.2 55.7h0M165.7 39.6h0M190.8 31.3h0M210.6 49.6h0M201.6 41.3h0M182.8 36.6h0M185.6 56.9h0M198.8 43.6h0M191.7 33.8h0M170.9 47.0h0M205.0 29.3h0M205.3 38.3h0M210.4 56.5h0M214.5 73.3h0M210.6 67.4h0M195.7 61.1h0M193.0 37.9h0M192.5 54.5h0M210.8 61.7h0M185.5 33.0h0M188.3 58.4h0M186.9 52.0h0M212.3 44.3h0M203.2 70.9h0M195.2 28.5h0M197.4 64.6h0M202.8 63.2h0M188.5 60.4h0M203.9 44.0h0M194.3 51.5h0M196.7 48.2h0M202.0 31.6h0M186.6 46.1h0M204.2 41.6h0M183.9 50.3h0M198.7 46.5h0M176.0 43.8h0M190.1 64.6h0M168.1 40.7h0M199.2 55.6h0M209.8 71.6h0M207.8 66.7h0M178.1 39.5h0M199.1 65.5h0M199.3 61.8h0M189.1 62.2h0M193.6 40.4h0M180.6 49.7h0M195.5 56.5h0M195.4 47.7h0M180.6 36.7h0M189.0 61.6h0M196.4 60.0h0M167.9 41.7h0M211.9 69.4h0M195.4 39.7h0M198.7 59.9h0M206.4 61.4h0M194.5 25.5h0M214.6 74.6h0M185.1 42.3h0M193.5 30.0h0M191.9 29.8h0M194.0 28.0h0M209.7 62.7h0M201.1 32.6h0M208.2 58.1h0M194.8 33.3h0M174.1 44.4h0M188.1 51.1h0M204.6 69.1h0M193.8 66.9h0M211.5 51.8h0M205.7 43.2h0M199.8 29.6h0M202.3 43.5h0M212.9 61.4h0M185.7 62.4h0M200.9 25.7h0M192.4 70.9h0M174.7 40.5h0M183.4 35.2h0M209.3 66.9h0M206.1 28.4h0M215.9 61.1h0M187.1 56.2h0M166.6 38.1h0M205.6 73.7h0M194.3 43.2h0M204.0 28.3h0M209.3 47.4h0M167.9 38.5h0M201.5 72.3h0M188.2 38.0h0M196.9 32.3h0M174.6 45.6h0M180.2 40.5h0M210.9 49.1h0M200.7 35.0h0M205.8 30.7h0M206.4 59.5h0M197.8 29.1h0M211.9 44.7h0M196.6 32.6h0M193.7 26.5h0M187.7 43.7h0M204.3 72.4h0M200.1 67.0h0M194.4 27.7h0M201.0 36.0h0M179.1 39.4h0M196.8 25.5h0M207.2 67.7h0M207.8 45.6h0M200.6 25.1h0M207.7 72.0h0M177.1 39.0h0M199.9 72.9h0M188.0 68.6h0M192.2 35.2h0M198.0 63.0h0M201.4 53.9h0M197.1 27.8h0M193.0 31.6h0M199.6 52.6h0M192.8 72.8h0M212.2 44.5h0M200.6 48.4h0M217.2 71.6h0M171.1 46.7h0M209.6 52.2h0M203.4 64.3h0M199.8 39.7h0M199.9 54.1h0M206.3 40.8h0M211.7 48.5h0M200.4 51.6h0M183.1 50.2h0M196.6 56.5h0M189.6 71.3h0M177.6 34.4h0M188.2 47.6h0M179.1 41.8h0M212.2 70.1h0M212.1 70.7h0M218.7 74.8h0M204.5 62.9h0M189.9 30.4h0M186.7 50.4h0M189.0 44.5h0M196.3 28.6h0M185.6 58.4h0M196.3 39.8h0M194.4 42.5h0M203.2 48.7h0M198.4 41.3h0M187.5 28.3h0M201.0 29.5h0M185.5 44.0h0M189.8 50.4h0M189.2 29.2h0M216.4 64.2h0M201.1 31.1h0M187.8 41.8h0M186.9 41.9h0M167.6 38.8h0M198.2 48.2h0M194.7 41.4h0M203.8 51.5h0M192.3 46.9h0M186.7 65.9h0M195.6 48.8h0M211.0 71.1h0M195.5 45.0h0M168.6 39.0h0M195.4 44.9h0M189.5 65.9h0M187.8 53.1h0M195.9 50.0h0M200.9 41.9h0M206.2 49.9h0M202.9 66.0h0M194.5 35.3h0M168.9 40.2h0M178.6 43.1h0M212.5 47.4h0M189.5 70.6h0M202.3 36.2h0M185.9 61.4h0M174.3 42.2h0M196.4 39.3h0M202.2 49.8h0M205.0 61.2h0M192.0 42.7h0M183.3 33.3h0M196.4 47.6h0M187.4 44.1h0M199.5 71.5h0M182.7 37.8h0M204.3 42.1h0M188.6 40.6h0M184.6 36.1h0M183.4 36.1h0M199.6 68.1h0M195.2 33.9h0M207.5 64.1h0M192.2 59.5h0M219.3 72.8h0M185.7 62.0h0M187.4 67.5h0M181.5 34.0h0M211.8 43.9h0M189.8 62.2h0M193.8 39.6h0M199.0 41.0h0M172.0 46.0h0M187.9 43.2h0M186.0 51.7h0M203.1 59.8h0M192.8 36.3h0M199.6 50.3h0M194.3 54.4h0M196.6 41.5h0M205.3 65.3h0M195.7 54.9h0M209.7 55.3h0M208.4 66.2h0M188.6 53.2h0M182.3 40.4h0M199.4 41.8h0M193.3 39.6h0M194.0 63.6h0M182.8 34.2h0M192.7 57.6h0M209.5 56.0h0M213.1 64.8h0M181.7 39.5h0M199.4 42.4h0M196.8 49.3h0M188.7 56.3h0M177.9 44.6h0M200.8 35.3h0M194.5 32.9h0M213.0 67.1h0M185.4 30.5h0M190.6 64.1h0M213.5 75.3h0M199.4 58.9h0M196.9 47.6h0M209.7 56.1h0M189.4 45.4h0M171.3 36.5h0M186.7 39.8h0M214.0 49.4h0M202.4 54.0h0M208.0 70.5h0M195.4 59.4h0M203.9 65.3h0M193.8 55.1h0M209.3 52.3h0M186.0 39.1h0M188.9 31.1h0M211.3 65.4h0M207.4 45.8h0M179.7 38.0h0M212.2 55.1h0M206.8 42.5h0M189.9 46.1h0M194.1 48.8h0M168.9 46.3h0M206.0 56.2h0M213.7 70.1h0M206.6 73.7h0M184.7 49.0h0M207.5 59.1h0M198.6 39.1h0M167.8 43.6h0M201.0 66.6h0M199.7 61.4h0M194.4 48.2h0M188.0 48.8h0M198.7 37.3h0M207.2 48.7h0M184.0 35.4h0M194.3 66.6h0M203.1 42.0h0M186.2 34.7h0M194.3 35.1h0M218.0 71.9h0M182.4 46.7h0M192.8 72.4h0M192.5 67.6h0M185.9 52.3h0M174.8 36.4h0M204.5 32.4h0M204.0 68.8h0M213.7 62.4h0M168.8 36.8h0M197.7 60.2h0M200.2 51.3h0M205.7 59.1h0M188.6 45.9h0M201.0 35.8h0M186.8 56.5h0M189.7 68.3h0M184.2 51.6h0M173.3 46.4h0M183.8 34.2h0M193.5 70.6h0M203.1 34.7h0M200.8 72.3h0M189.7 37.2h0M183.8 42.7h0M197.2 55.4h0M190.4 33.6h0M202.5 37.5h0M197.2 56.7h0M175.2 36.7h0M192.7 45.6h0M214.7 66.6h0M213.3 50.6h0M200.0 62.2h0M210.8 44.1h0M210.1 68.2h0M211.1 40.2h0M194.8 43.9h0M195.3 62.5h0M190.4 36.6h0M199.8 47.1h0M201.5 66.7h0M188.2 47.1h0M221.9 75.9h0M203.6 41.8h0M208.8 73.9h0M195.8 56.2h0M196.3 57.0h0M199.2 52.2h0M182.8 32.1h0M193.9 70.8h0M189.8 37.9h0M208.8 39.3h0M194.1 65.3h0M194.6 50.1h0M207.9 63.0h0M192.1 37.3h0M213.3 54.1h0M198.4 27.0h0M173.1 43.4h0M212.4 45.0h0M209.7 73.4h0M197.4 34.2h0M205.9 26.5h0M196.3 38.3h0M203.4 46.8h0M210.8 73.8h0M206.2 57.6h0M196.1 67.4h0M179.9 33.7h0M187.2 49.0h0M208.4 65.6h0M195.0 73.4h0M200.4 29.4h0M192.1 69.2h0M209.1 40.6h0M195.3 57.1h0M187.2 60.2h0M202.3 64.9h0M214.8 57.8h0M184.6 31.6h0M200.5 26.1h0M189.4 60.1h0M205.8 65.2h0M213.0 49.1h0M192.8 58.4h0M192.7 37.9h0M190.8 55.2h0M188.8 45.3h0M204.0 35.4h0M200.5 31.8h0M190.4 46.5h0M181.5 49.0h0M192.7 29.8h0M197.4 52.0h0M191.1 26.8h0M183.6 50.2h0M188.8 63.8h0M213.2 68.1h0M186.9 59.2h0M174.8 43.0h0M208.1 57.7h0M196.0 50.0h0M189.8 40.8h0M204.5 57.7h0M203.0 40.2h0M204.9 30.5h0M179.8 40.6h0M215.4 72.7h0M195.3 45.5h0M194.6 25.1h0M211.3 47.1h0M205.1 50.8h0M206.6 37.7h0M189.8 51.2h0M205.1 56.3h0M199.9 70.6h0M206.6 62.2h0M175.2 43.5h0M185.4 47.1h0M210.9 72.8h0M199.5 57.4h0M176.7 48.4h0M210.2 67.1h0M209.0 63.7h0M214.8 70.2h0M202.0 65.9h0M197.3 53.2h0M199.5 46.1h0M195.7 44.0h0M192.3 70.8h0M210.2 73.0h0M200.7 28.7h0M192.9 59.7h0M177.3 35.5h0M189.4 32.7h0M188.9 58.4h0M196.9 25.2h0M170.7 39.3h0M182.8 37.8h0M200.9 39.6h0M210.6 42.4h0M186.9 57.7h0M195.9 46.3h0M203.2 40.0h0M208.2 65.2h0M215.6 59.8h0M213.6 56.9h0M195.0 38.1h0M188.1 41.0h0M207.0 55.9h0M193.0 30.8h0M168.4 42.9h0M200.2 42.6h0M197.6 43.9h0M183.2 38.2h0M193.7 56.7h0M196.5 48.9h0M203.2 67.2h0M182.0 36.6h0M196.9 66.5h0M194.9 57.8h0M201.8 36.3h0M179.5 40.1h0M195.6 46.0h0M211.2 75.4h0M189.0 27.7h0M182.3 42.2h0M192.6 43.2h0M191.2 31.5h0M185.5 49.1h0M195.4 66.5h0M194.0 31.4h0M184.4 44.6h0M214.8 71.1h0M190.6 46.7h0M207.4 56.1h0M191.4 61.2h0M189.2 60.4h0M207.7 43.7h0M189.7 30.1h0M198.4 60.6h0M208.2 41.8h0M206.8 40.3h0M187.1 40.3h0M190.7 47.0h0M200.8 41.6h0M178.3 40.8h0M187.7 52.2h0M182.6 40.9h0M205.0 44.0h0M195.9 62.9h0M191.5 42.2h0M207.6 73.6h0M196.6 51.9h0M203.0 58.0h0M199.7 48.6h0M206.1 52.6h0M207.0 69.4h0M191.4 46.7h0M184.6 44.2h0M211.3 61.9h0M192.6 55.5h0M193.9 62.4h0M198.2 64.4h0M191.5 52.9h0M190.5 41.7h0M193.2 67.4h0M180.5 33.6h0M198.7 25.7h0M215.6 61.3h0M198.9 66.8h0M190.8 67.5h0M180.0 38.9h0M194.6 41.3h0M172.8 37.5h0M185.8 49.3h0M202.4 27.6h0M202.7 23.2h0M202.3 37.1h0M203.7 31.8h0M202.6 58.6h0M186.3 39.9h0M186.2 30.2h0M178.8 35.0h0M195.7 34.6h0M208.9 47.1h0M207.4 63.3h0M203.4 41.7h0M196.5 40.4h0M210.7 41.2h0M186.9 42.1h0M215.9 72.2h0M193.0 30.9h0M190.3 37.1h0M186.5 41.8h0M209.2 43.0h0M195.2 25.0h0M212.4 59.9h0M183.7 47.4h0M198.2 70.7h0M185.8 53.4h0M206.4 57.8h0M168.1 44.2h0M188.1 36.3h0M208.4 64.9h0M189.3 41.9h0M191.7 66.1h0M197.3 49.8h0M180.9 31.9h0M201.5 51.6h0M199.5 67.9h0M204.9 54.7h0M186.4 45.0h0M206.0 72.5h0M187.6 29.5h0M210.7 73.8h0M170.5 40.3h0M200.2 59.9h0M199.1 31.4h0M173.6 44.3h0M187.7 45.5h0M187.0 59.7h0M203.4 30.9h0M197.5 29.4h0M200.8 26.1h0M191.4 27.2h0M212.9 48.2h0M200.9 48.7h0M206.2 71.9h0M198.2 52.8h0M168.1 44.8h0M191.4 56.7h0M182.9 31.7h0M204.0 34.0h0M191.3 35.7h0M193.7 28.5h0M209.9 62.0h0M202.8 48.4h0M185.0 44.7h0M192.4 31.3h0M210.4 43.7h0M186.2 61.5h0M205.3 26.3h0M198.1 28.4h0M191.8 37.3h0M207.0 42.2h0M193.2 51.1h0M179.7 38.9h0M211.0 68.3h0M209.2 51.3h0M199.1 45.4h0M195.9 60.0h0M172.0 42.6h0M207.4 38.8h0M204.4 41.9h0M172.8 46.3h0M205.8 39.2h0M186.5 35.2h0M186.3 50.2h0M191.0 26.8h0M193.5 72.0h0M184.4 30.4h0M205.6 28.7h0M193.4 50.0h0M192.8 64.9h0M202.4 65.5h0M183.5 41.2h0M195.6 51.9h0M207.2 36.1h0M177.8 44.4h0M194.4 53.3h0M197.8 72.8h0M177.1 40.6h0M192.5 39.1h0M195.9 57.5h0M202.0 35.2h0M197.2 41.5h0M186.2 46.3h0M211.9 42.3h0M198.2 74.5h0M193.0 70.5h0M191.0 52.2h0M206.1 71.0h0M199.3 34.8h0M194.3 49.4h0M197.0 74.0h0M193.5 35.7h0M197.2 44.0h0M220.0 74.9h0M194.5 56.6h0M187.5 67.7h0M201.8 53.6h0M183.1 32.3h0M189.3 58.9h0M204.2 62.9h0M202.3 24.5h0M206.2 45.2h0M201.3 57.2h0M197.2 37.0h0M214.2 59.7h0M198.7 31.6h0M205.8 68.7h0M184.4 31.8h0M206.8 48.7h0M211.0 75.4h0M184.3 48.2h0M189.3 45.5h0M197.2 27.1h0M185.3 53.6h0M202.8 61.1h0M210.7 56.1h0M203.7 61.7h0M184.4 51.1h0M175.9 47.5h0M187.9 65.6h0M199.3 73.1h0M192.2 42.4h0M191.2 53.8h0M180.4 37.5h0M168.4 38.9h0M203.0 72.9h0M204.0 31.6h0M184.3 37.2h0M174.9 35.9h0M196.9 73.3h0M213.6 52.6h0M196.6 37.8h0M190.0 46.5h0M203.4 29.3h0M208.2 74.2h0M189.0 53.7h0M171.6 47.0h0M197.0 57.9h0M210.0 73.2h0M189.6 34.3h0M207.2 58.7h0M211.0 45.0h0M200.6 61.5h0M200.1 42.2h0M208.8 75.0h0M214.1 64.0h0M209.0 60.6h0M201.4 62.7h0M172.7 36.1h0M207.4 69.2h0M191.6 28.2h0M184.7 32.7h0M195.1 69.2h0M186.6 47.4h0M175.1 39.9h0M220.4 76.9h0M193.5 37.0h0M210.9 56.0h0M208.2 47.6h0M209.2 55.3h0M200.7 41.4h0M174.7 38.1h0M192.0 32.0h0M191.8 51.0h0M183.2 32.9h0M204.3 64.2h0M191.1 36.0h0M198.9 39.2h0M169.9 39.4h0M212.6 59.4h0M204.7 61.1h0M196.7 47.3h0M198.3 62.9h0M190.2 53.5h0M207.9 45.0h0M209.3 60.5h0M203.7 33.9h0M195.0 58.5h0M210.4 40.6h0M207.3 40.8h0M196.9 63.1h0M187.4 40.1h0M167.0 43.7h0M168.8 38.8h0M192.3 60.3h0M197.7 56.8h0M206.8 67.1h0M195.2 59.8h0M211.2 63.8h0M175.4 44.7h0M193.8 54.1h0M192.0 64.8h0M198.2 73.8h0M196.3 69.2h0M188.4 45.4h0M208.7 70.7h0M186.8 46.3h0M200.2 71.1h0M187.4 34.8h0M167.4 42.8h0M221.7 78.1h0M187.8 62.7h0M208.1 63.5h0M209.7 59.4h0M191.1 39.8h0M205.2 66.2h0M195.0 39.3h0M199.4 50.4h0M191.1 34.3h0M212.6 59.2h0M205.4 63.9h0M200.3 58.5h0M187.9 57.1h0M199.0 63.0h0M198.3 54.5h0M185.3 60.0h0M199.2 44.2h0M180.8 36.7h0M190.5 45.2h0M208.4 39.6h0M213.2 56.6h0M204.9 38.9h0M202.4 24.5h0M195.1 25.4h0M200.9 44.4h0M196.5 43.0h0M209.3 75.9h0M205.3 67.5h0M200.5 70.6h0M210.2 50.6h0M200.9 48.5h0M206.3 56.0h0M209.6 75.5h0M195.7 36.3h0M196.0 42.1h0M209.4 40.6h0M200.2 35.1h0M204.5 70.9h0M174.1 43.2h0M181.2 33.7h0M200.1 59.6h0M166.9 43.5h0M168.1 45.1h0M208.3 62.2h0M186.2 44.6h0M190.3 29.6h0M207.2 76.4h0M214.7 59.9h0M205.1 68.6h0M190.8 54.1h0M215.8 63.0h0M197.1 29.3h0M189.4 40.9h0M191.8 70.8h0M220.2 77.7h0M185.6 30.9h0M204.8 73.8h0M189.6 41.4h0M203.2 23.6h0M192.9 62.8h0M201.6 72.8h0M183.6 34.0h0M200.8 46.2h0M208.7 48.8h0M189.2 42.1h0M184.3 46.8h0M183.5 32.2h0M210.0 62.4h0M208.5 64.7h0M201.1 31.3h0M193.9 34.3h0M191.2 58.9h0M207.3 74.8h0M209.2 63.4h0M199.1 66.9h0M204.3 51.1h0M198.2 32.3h0M201.8 32.6h0M208.0 50.4h0M201.4 43.3h0M206.1 76.2h0M216.2 75.9h0M183.0 46.1h0M188.1 35.5h0M194.0 26.1h0M173.8 38.8h0M192.6 65.1h0M196.2 68.9h0M214.8 60.5h0M199.7 53.0h0M203.7 46.3h0M183.0 50.4h0M203.3 44.3h0M191.6 70.3h0M190.4 60.5h0M210.4 65.1h0M184.3 53.3h0M197.4 34.2h0M190.9 30.8h0M212.0 45.3h0M205.0 65.4h0M186.0 49.1h0M195.5 26.8h0M199.7 47.3h0M185.0 34.8h0M184.4 39.9h0M193.8 64.5h0M204.2 65.6h0M182.8 38.2h0M185.9 61.1h0M201.7 37.4h0M195.2 46.9h0M199.1 53.4h0M202.5 63.6h0M203.1 57.1h0M189.5 40.1h0M195.6 56.0h0M191.7 29.0h0M209.1 61.0h0M208.4 61.4h0M195.3 67.9h0M190.9 42.4h0M204.6 51.4h0M205.5 36.2h0M206.5 69.3h0M204.0 62.5h0M214.6 71.4h0M199.8 25.4h0M195.4 65.9h0M217.2 73.0h0M195.3 38.6h0M193.8 52.9h0M188.3 68.7h0M199.4 54.5h0M188.7 35.1h0M186.4 65.0h0M174.3 43.9h0M180.1 41.5h0M168.5 45.9h0M207.9 69.3h0M206.7 54.8h0M183.0 33.3h0M189.0 40.8h0M196.5 26.0h0M204.7 29.8h0M187.3 44.8h0M204.4 39.7h0M204.7 61.1h0M210.5 44.8h0M206.4 49.6h0M196.8 50.2h0M200.6 39.9h0M212.9 75.3h0M218.8 77.2h0M205.1 62.7h0M207.1 73.9h0M192.6 71.6h0M188.9 57.0h0M209.8 53.4h0M216.5 68.5h0M207.7 75.7h0M188.7 57.7h0M176.3 38.9h0M204.5 39.9h0M203.4 37.7h0M198.7 56.4h0M210.2 69.7h0M189.5 35.5h0M176.9 44.1h0M219.2 72.8h0M218.1 72.6h0M198.3 43.2h0M204.6 26.8h0M208.0 64.0h0M198.0 74.3h0M191.4 29.9h0M201.8 28.3h0M211.1 54.1h0M204.6 59.4h0M178.7 45.9h0M199.6 46.8h0M188.7 40.4h0M192.1 31.1h0M201.6 64.4h0M209.9 55.1h0M202.7 46.6h0M169.3 37.1h0M172.3 40.9h0M213.6 57.4h0M206.9 41.9h0M211.2 61.0h0M209.8 47.0h0M188.3 39.9h0M204.6 55.3h0M204.1 36.1h0M185.9 57.4h0M192.9 69.4h0M215.3 74.6h0M194.9 62.2h0M184.1 44.6h0M216.4 73.0h0M208.8 46.5h0M199.9 28.5h0M200.6 60.9h0M215.7 68.9h0M215.1 64.2h0M165.9 39.1h0M164.0 39.5h0M163.3 40.8h0M163.2 39.8h0" stroke="#F8766D" stroke-width="2.7" stroke-linecap="round" fill="none"/>
<path d="M141.0 52.9h0M152.8 46.9h0M148.2 47.8h0M155.7 48.3h0M138.1 53.1h0M149.9 50.2h0M139.4 50.6h0M148.1 49.4h0M152.9 48.5h0M150.2 48.0h0M155.2 47.4h0M147.7 48.1h0M147.9 50.2h0M146.6 48.4h0M140.4 50.9h0M154.0 46.8h0M141.0 52.7h0M150.6 50.1h0M155.2 48.0h0M154.4 48.0h0M152.1 49.8h0M138.5 52.5h0M145.9 51.2h0M140.9 50.8h0M140.8 49.9h0M141.1 49.1h0M167.1 57.9h0M174.8 56.9h0M180.6 58.9h0M176.4 56.7h0M176.7 58.2h0M173.3 59.4h0M172.2 65.8h0M183.8 62.7h0M165.7 59.0h0M158.2 58.9h0M161.7 59.0h0M164.8 62.2h0M175.7 62.6h0M165.1 56.4h0M177.1 62.7h0M178.3 56.8h0M180.6 59.2h0M178.6 55.7h0M181.4 56.1h0M167.5 66.0h0M170.7 63.5h0M168.7 62.5h0M164.1 57.2h0M183.5 63.2h0M176.1 65.3h0M169.2 64.0h0M167.6 65.2h0M159.2 57.6h0M166.6 65.1h0M170.6 61.0h0M161.1 59.3h0M185.2 59.5h0M168.9 57.7h0M185.4 56.7h0M178.7 55.8h0M185.2 58.3h0M162.1 56.2h0M173.5 59.5h0M169.5 56.3h0M177.9 64.8h0M176.5 57.0h0M178.9 56.8h0M181.4 59.4h0M163.4 62.1h0M168.4 61.9h0M179.1 54.9h0M176.2 59.3h0M165.8 55.1h0M162.4 55.9h0M168.9 57.3h0M168.9 54.5h0M169.6 60.5h0M171.6 59.2h0M177.2 60.2h0M172.1 63.7h0M177.9 53.3h0M160.4 57.8h0M184.8 56.8h0M177.1 63.0h0M178.6 63.7h0M185.2 58.7h0M186.7 61.3h0M181.6 62.9h0M180.6 60.5h0M159.9 62.3h0M168.9 58.3h0M176.0 56.3h0M172.2 57.9h0M169.8 58.3h0M174.2 65.1h0M159.7 57.1h0M179.0 56.6h0M184.2 59.0h0M181.9 54.4h0M178.0 59.1h0M182.0 59.8h0M181.0 54.7h0M183.7 57.7h0M172.2 54.4h0M166.1 64.0h0M180.6 60.5h0M173.7 61.0h0M167.3 64.1h0M171.6 56.1h0M172.7 65.4h0M168.8 64.5h0M171.1 62.2h0M171.3 62.6h0M159.6 57.1h0M177.8 65.8h0M184.4 57.1h0M171.6 53.6h0M181.2 61.4h0M162.9 57.8h0M163.4 58.7h0M180.3 62.5h0M180.2 63.6h0M172.7 65.5h0M176.2 61.6h0M172.5 64.2h0M168.1 57.4h0M163.5 64.5h0M175.8 58.3h0M172.8 55.0h0M186.3 42.5h0M177.1 41.1h0M176.5 44.8h0M179.1 44.7h0M173.9 39.9h0M185.0 40.7h0M172.1 43.6h0M176.1 39.2h0M182.9 39.1h0M182.4 44.9h0M183.6 41.0h0M188.8 41.8h0M179.3 49.2h0M187.5 41.3h0M187.3 41.4h0M182.7 46.8h0M169.2 43.3h0M178.1 45.4h0M153.5 66.6h0M134.0 51.2h0M147.3 76.3h0M141.1 59.2h0M136.6 66.4h0M135.1 52.1h0M154.8 76.9h0M155.1 69.4h0M147.8 62.3h0M149.5 72.6h0M143.6 73.7h0M137.3 52.9h0M163.7 53.0h0M156.9 53.1h0M160.7 52.5h0M163.7 53.1h0M161.8 48.1h0M158.6 52.7h0M160.0 49.3h0M156.4 48.9h0M166.4 53.0h0" stroke="#00C094" stroke-width="2.7" stroke-linecap="round" fill="none"/>
<path d="M208.0 43.9h0M196.1 47.3h0M200.7 48.8h0M191.7 66.4h0M178.8 37.0h0M195.3 69.8h0M204.0 66.8h0M193.7 58.6h0M191.7 29.1h0M188.1 41.3h0M202.5 41.1h0M202.1 59.1h0M187.7 55.7h0M196.5 54.0h0M214.1 67.4h0M211.7 58.9h0M206.9 49.6h0M209.9 65.7h0M210.0 54.3h0M177.7 42.6h0M205.9 48.5h0M173.3 39.9h0M184.9 34.3h0M181.7 40.9h0M188.1 37.7h0M184.5 34.6h0M179.8 38.6h0M190.0 28.8h0M183.3 39.2h0M170.9 44.9h0M180.1 45.4h0M183.4 39.8h0M172.8 38.1h0M188.6 34.1h0M175.5 39.6h0M179.2 32.9h0M173.4 44.0h0M182.9 31.7h0M174.5 39.2h0M184.6 35.1h0M185.7 35.4h0M192.8 33.3h0M186.8 46.0h0M183.0 47.9h0M194.0 39.9h0M172.7 38.1h0M185.9 40.5h0M190.8 37.7h0M183.2 40.0h0M187.0 45.8h0M176.0 37.8h0M168.9 41.4h0M184.9 30.5h0M195.4 39.3h0M169.1 39.6h0M190.6 40.4h0M201.8 30.3h0M198.8 52.4h0M192.1 27.8h0M195.2 34.8h0M195.3 34.0h0M201.2 43.6h0M196.3 39.5h0M200.3 28.9h0M197.7 25.7h0M199.4 33.4h0M194.3 46.6h0M198.7 24.7h0M202.2 32.1h0M200.2 26.5h0" stroke="#00C095" stroke-width="2.7" stroke-linecap="round" fill="none"/>
<path d="M174.1 44.2h0M186.8 38.4h0M185.6 40.8h0M170.0 40.6h0M174.6 43.4h0M182.6 41.7h0M205.4 76.3h0M207.0 77.5h0M208.0 78.9h0M208.9 64.0h0M213.3 61.4h0M205.4 69.3h0M210.2 71.0h0M202.8 89.4h0M175.1 41.1h0M180.7 50.3h0M187.3 49.2h0M171.0 65.6h0M175.1 67.1h0M200.0 72.0h0M203.0 66.0h0M212.0 68.0h0M196.0 60.0h0M184.0 44.0h0M178.0 46.0h0M208.2 65.5h0M205.2 66.5h0M206.3 76.0h0M201.1 64.6h0M211.4 70.2h0M207.4 75.1h0M204.1 67.4h0M202.5 72.4h0" stroke="#C49A00" stroke-width="2.7" stroke-linecap="round" fill="none"/>
<path d="M215.5 93.4h0M176.0 62.0h0M183.0 60.0h0M170.0 50.0h0M166.0 60.0h0M188.0 58.0h0M160.0 55.0h0" stroke="#53B400" stroke-width="2.7" stroke-linecap="round" fill="none"/>
<path d="M216.4 90.1h0M213.7 90.0h0M226.1 93.9h0M213.4 90.9h0M211.2 83.4h0M220.2 98.6h0M216.0 102.7h0M221.9 89.5h0M205.4 94.3h0M218.2 101.3h0M222.5 92.9h0M218.2 103.3h0M209.7 92.6h0M211.7 78.9h0M208.8 76.4h0M210.9 79.1h0M213.2 90.5h0M211.8 95.3h0M222.1 91.9h0M218.5 89.0h0M217.6 88.9h0M218.2 99.6h0M206.0 80.6h0M208.5 76.9h0M215.3 98.3h0M213.5 88.9h0M208.7 78.0h0M212.4 82.1h0M214.1 87.0h0M223.5 91.7h0M217.4 98.3h0M217.0 102.6h0M210.9 87.7h0M208.2 83.0h0M209.3 81.8h0M216.1 96.4h0M224.1 94.3h0M216.2 103.0h0M210.6 76.8h0M222.8 96.8h0M219.4 97.2h0M214.8 90.3h0M220.8 92.8h0M211.5 79.4h0M219.6 100.3h0M220.8 94.4h0M206.2 86.2h0M220.6 98.5h0M209.5 88.6h0M209.0 103.5h0M213.1 85.7h0M219.4 100.6h0M215.9 92.6h0M208.0 83.9h0M211.8 91.3h0M210.0 83.8h0M212.5 78.5h0M210.7 98.2h0M206.3 92.4h0M208.0 97.5h0M223.0 98.6h0M211.7 97.1h0M210.9 79.7h0M218.8 101.1h0M211.1 85.9h0M211.8 80.6h0M214.1 104.1h0M220.1 95.8h0M217.6 92.5h0M209.7 91.0h0M212.0 78.1h0M212.2 79.1h0M212.7 83.7h0M217.5 100.2h0M214.7 101.1h0M211.8 91.8h0M210.7 100.1h0M214.6 103.3h0M212.2 81.4h0M211.4 97.5h0M212.1 92.4h0M214.4 92.0h0M221.2 100.0h0M221.5 99.3h0M208.1 100.4h0M210.2 102.7h0M210.0 96.6h0M219.2 97.0h0M205.3 88.8h0M217.6 96.1h0M217.4 96.4h0M219.6 89.0h0M212.6 104.7h0M211.9 104.2h0M223.9 95.6h0M219.2 97.0h0M217.5 92.7h0M211.3 95.1h0M224.9 95.3h0M221.6 91.8h0M221.8 98.9h0M209.7 98.9h0M214.4 91.5h0M217.7 98.5h0M204.7 92.0h0M223.8 95.5h0M211.1 103.4h0M220.4 93.1h0M219.1 88.5h0M212.4 102.9h0M212.5 97.5h0M222.3 97.8h0M210.9 80.2h0M216.5 95.8h0M221.7 98.0h0M216.6 87.1h0M217.6 88.1h0M224.5 94.4h0M206.2 89.1h0M213.7 98.4h0M217.3 92.7h0M210.2 85.8h0M209.6 81.3h0M222.9 95.5h0M216.0 92.8h0M211.8 86.9h0M205.4 93.7h0M208.9 102.6h0M209.4 93.5h0M208.5 91.2h0M195.5 94.0h0M197.0 95.0h0M199.0 94.5h0M198.5 96.5h0M197.0 102.5h0M199.5 103.5h0M198.0 105.0h0M218.5 83.7h0M215.0 78.9h0M194.9 87.2h0M181.8 88.5h0M183.9 78.0h0M192.3 76.3h0M158.7 71.7h0M177.1 78.9h0M189.4 76.8h0M192.4 73.8h0M176.1 84.0h0M177.7 79.0h0M183.8 78.1h0M176.3 84.7h0M181.6 88.2h0M194.7 87.3h0M160.3 102.2h0M187.3 80.3h0M192.6 76.4h0" stroke="#00B6EB" stroke-width="2.7" stroke-linecap="round" fill="none"/>
<path d="M155.3 77.7h0M160.6 79.9h0M170.2 79.7h0M179.9 78.6h0M194.7 77.3h0M196.0 101.8h0M110.6 70.9h0" stroke="#A58AFE" stroke-width="2.7" stroke-linecap="round" fill="none"/>
<path d="M152.3 83.0h0M122.0 68.5h0M116.3 121.5h0M99.5 68.0h0M99.0 67.4h0M97.0 67.6h0M92.2 71.5h0M96.8 69.9h0M93.9 69.9h0M95.9 70.6h0M109.7 67.2h0M110.7 67.4h0M108.1 67.4h0M106.6 67.8h0M103.4 66.8h0M103.3 66.6h0M105.3 67.8h0" stroke="#FB61D6" stroke-width="2.7" stroke-linecap="round" fill="none"/>
<path d="M109.6 42.9h0M129.2 41.1h0M84.1 62.0h0M100.1 71.1h0M118.0 123.1h0" stroke="#F8766C" stroke-width="2.7" stroke-linecap="round" fill="none"/>
<polygon points="191.5,31.5 193.7,35.3 189.3,35.3" fill="#0000E0"/>
<polygon points="182.8,50.3 185.0,54.1 180.6,54.1" fill="#0000E0"/>
<polygon points="173.1,53.4 175.3,57.2 170.9,57.2" fill="#0000E0"/>
<polygon points="176.2,54.2 178.4,58.0 174.0,58.0" fill="#0000E0"/>
<polygon points="178.8,54.7 181.0,58.5 176.6,58.5" fill="#0000E0"/>
<polygon points="159.9,64.9 162.1,68.7 157.7,68.7" fill="#0000E0"/>
</g>
<rect x="23.5" y="13.0" width="337.0" height="222.2" fill="none" stroke="#4D4D4D" stroke-width="1.1"/>
<text x="192.20" y="245.60" font-size="9.5" font-weight="bold"  text-anchor="middle" fill="#000" >disease category</text>
<circle cx="27.90" cy="266.20" r="4.05" fill="#F8766D" />
<text x="35.80" y="269.10" font-size="8.1"   text-anchor="start" fill="#1a1a1a" >ataxia</text>
<circle cx="27.90" cy="277.90" r="4.05" fill="#00C094" />
<text x="35.80" y="280.80" font-size="8.1"   text-anchor="start" fill="#1a1a1a" >ataxia/spasticity</text>
<circle cx="27.90" cy="289.60" r="4.05" fill="#FB61D7" />
<text x="35.80" y="292.50" font-size="8.1"   text-anchor="start" fill="#1a1a1a" >spasticity</text>
<circle cx="147.00" cy="266.20" r="4.05" fill="#C49A00" />
<text x="154.90" y="269.10" font-size="8.1"   text-anchor="start" fill="#1a1a1a" >ataxia/dystonia</text>
<circle cx="147.00" cy="277.90" r="4.05" fill="#00B6EB" />
<text x="154.90" y="280.80" font-size="8.1"   text-anchor="start" fill="#1a1a1a" >dystonia</text>
<circle cx="263.10" cy="266.20" r="4.05" fill="#53B400" />
<text x="271.00" y="269.10" font-size="8.1"   text-anchor="start" fill="#1a1a1a" >ataxia/dystonia/spasticity</text>
<circle cx="263.10" cy="277.90" r="4.05" fill="#A58AFF" />
<text x="271.00" y="280.80" font-size="8.1"   text-anchor="start" fill="#1a1a1a" >dystonia/spasticity</text>
<text x="470.00" y="10.10" font-size="9.5" font-weight="bold"  text-anchor="start" fill="#000" >Outcome by analysis</text>
<line x1="469.60" y1="13.40" x2="469.60" y2="88.20" stroke="#000" stroke-width="1.0" />
<line x1="469.10" y1="88.00" x2="651.00" y2="88.00" stroke="#000" stroke-width="1.0" />
<rect x="473.50" y="17.00" width="38.50" height="16.80" fill="#B22222" />
<rect x="512.00" y="17.00" width="29.50" height="16.80" fill="#FFA500" />
<rect x="541.50" y="17.00" width="2.60" height="16.80" fill="#FFFF00" />
<rect x="544.10" y="17.00" width="105.90" height="16.80" fill="#ADD8E6" />
<line x1="467.00" y1="25.40" x2="469.60" y2="25.40" stroke="#000" stroke-width="1.0" />
<rect x="473.50" y="42.20" width="44.30" height="16.90" fill="#B22222" />
<rect x="517.80" y="42.20" width="16.40" height="16.90" fill="#FFA500" />
<rect x="534.20" y="42.20" width="115.80" height="16.90" fill="#ADD8E6" />
<line x1="467.00" y1="50.65" x2="469.60" y2="50.65" stroke="#000" stroke-width="1.0" />
<rect x="473.50" y="66.70" width="18.40" height="17.40" fill="#B22222" />
<rect x="491.90" y="66.70" width="10.80" height="17.40" fill="#FFA500" />
<rect x="502.70" y="66.70" width="2.30" height="17.40" fill="#FFFF00" />
<rect x="505.00" y="66.70" width="145.00" height="17.40" fill="#ADD8E6" />
<line x1="467.00" y1="75.40" x2="469.60" y2="75.40" stroke="#000" stroke-width="1.0" />
<text x="462.30" y="29.10" font-size="9.5" font-weight="bold"  text-anchor="end" fill="#000" >ES first</text>
<text x="462.30" y="54.40" font-size="9.5" font-weight="bold"  text-anchor="end" fill="#000" >GS first</text>
<text x="462.30" y="74.00" font-size="9.5" font-weight="bold"  text-anchor="end" fill="#000" >GS with prior</text>
<text x="462.30" y="83.30" font-size="9.5" font-weight="bold"  text-anchor="end" fill="#000" >ES +/- FA</text>
<line x1="473.50" y1="88.00" x2="473.50" y2="90.60" stroke="#000" stroke-width="1.0" />
<text x="473.50" y="98.20" font-size="9.5" font-weight="bold"  text-anchor="middle" fill="#000" >0</text>
<line x1="517.62" y1="88.00" x2="517.62" y2="90.60" stroke="#000" stroke-width="1.0" />
<text x="517.62" y="98.20" font-size="9.5" font-weight="bold"  text-anchor="middle" fill="#000" >25</text>
<line x1="561.75" y1="88.00" x2="561.75" y2="90.60" stroke="#000" stroke-width="1.0" />
<text x="561.75" y="98.20" font-size="9.5" font-weight="bold"  text-anchor="middle" fill="#000" >50</text>
<line x1="605.88" y1="88.00" x2="605.88" y2="90.60" stroke="#000" stroke-width="1.0" />
<text x="605.88" y="98.20" font-size="9.5" font-weight="bold"  text-anchor="middle" fill="#000" >75</text>
<line x1="650.00" y1="88.00" x2="650.00" y2="90.60" stroke="#000" stroke-width="1.0" />
<text x="650.00" y="98.20" font-size="9.5" font-weight="bold"  text-anchor="middle" fill="#000" >100</text>
<text x="561.80" y="109.30" font-size="9.5" font-weight="bold"  text-anchor="middle" fill="#000" >percentage of patients</text>
<text x="462.70" y="122.70" font-size="8.1" font-weight="bold"  text-anchor="end" fill="#000" >outcome</text>
<rect x="473.40" y="117.50" width="7.80" height="7.60" fill="#ADD8E6" />
<text x="482.80" y="123.60" font-size="8.1"   text-anchor="start" fill="#1a1a1a" >no significant findings</text>
<rect x="565.00" y="117.50" width="7.80" height="7.60" fill="#FFFF00" />
<text x="574.40" y="123.60" font-size="8.1"   text-anchor="start" fill="#1a1a1a" >candidate gene</text>
<rect x="473.40" y="129.10" width="7.80" height="7.60" fill="#FFA500" />
<text x="482.80" y="135.20" font-size="8.1"   text-anchor="start" fill="#1a1a1a" >uncertain</text>
<rect x="565.00" y="129.10" width="7.80" height="7.60" fill="#B22222" />
<text x="574.40" y="135.20" font-size="8.1"   text-anchor="start" fill="#1a1a1a" >significant findings</text>
<text x="470.40" y="155.80" font-size="9.5" font-weight="bold"  text-anchor="start" fill="#000" >Variants</text>
<line x1="469.70" y1="160.50" x2="469.70" y2="235.20" stroke="#000" stroke-width="1.0" />
<line x1="469.20" y1="235.00" x2="651.00" y2="235.00" stroke="#000" stroke-width="1.0" />
<rect x="473.50" y="163.80" width="70.40" height="17.30" fill="#C1CDCD" />
<rect x="543.90" y="163.80" width="25.10" height="17.30" fill="#6495ED" />
<rect x="569.00" y="163.80" width="3.00" height="17.30" fill="#D2691E" />
<rect x="572.00" y="163.80" width="37.00" height="17.30" fill="#FF8C00" />
<rect x="609.00" y="163.80" width="1.10" height="17.30" fill="#FFFF00" />
<rect x="610.10" y="163.80" width="23.60" height="17.30" fill="#7CCD7C" />
<rect x="633.70" y="163.80" width="4.40" height="17.30" fill="#FFB6C1" />
<rect x="638.10" y="163.80" width="9.10" height="17.30" fill="#8EE5EE" />
<rect x="647.20" y="163.80" width="2.80" height="17.30" fill="#008B8B" />
<line x1="467.00" y1="172.45" x2="469.70" y2="172.45" stroke="#000" stroke-width="1.0" />
<rect x="473.50" y="188.60" width="71.20" height="17.20" fill="#C1CDCD" />
<rect x="544.70" y="188.60" width="16.00" height="17.20" fill="#6495ED" />
<rect x="560.70" y="188.60" width="26.30" height="17.20" fill="#FF8C00" />
<rect x="587.00" y="188.60" width="5.10" height="17.20" fill="#FFFF00" />
<rect x="592.10" y="188.60" width="13.20" height="17.20" fill="#7CCD7C" />
<rect x="605.30" y="188.60" width="15.70" height="17.20" fill="#8EE5EE" />
<rect x="621.00" y="188.60" width="13.50" height="17.20" fill="#EE6A50" />
<rect x="634.50" y="188.60" width="15.50" height="17.20" fill="#B22222" />
<line x1="467.00" y1="197.20" x2="469.70" y2="197.20" stroke="#000" stroke-width="1.0" />
<rect x="473.50" y="213.40" width="52.30" height="17.50" fill="#C1CDCD" />
<rect x="525.80" y="213.40" width="45.90" height="17.50" fill="#FF8C00" />
<rect x="571.70" y="213.40" width="13.40" height="17.50" fill="#7CCD7C" />
<rect x="585.10" y="213.40" width="6.00" height="17.50" fill="#8EE5EE" />
<rect x="591.10" y="213.40" width="7.10" height="17.50" fill="#EE6A50" />
<rect x="598.20" y="213.40" width="51.80" height="17.50" fill="#B22222" />
<line x1="467.00" y1="222.15" x2="469.70" y2="222.15" stroke="#000" stroke-width="1.0" />
<text x="462.20" y="175.90" font-size="9.5" font-weight="bold"  text-anchor="end" fill="#000" >ES first</text>
<text x="462.20" y="200.80" font-size="9.5" font-weight="bold"  text-anchor="end" fill="#000" >GS first</text>
<text x="462.20" y="220.60" font-size="9.5" font-weight="bold"  text-anchor="end" fill="#000" >GS with prior</text>
<text x="462.20" y="229.90" font-size="9.5" font-weight="bold"  text-anchor="end" fill="#000" >ES +/- FA</text>
<line x1="473.50" y1="235.00" x2="473.50" y2="237.60" stroke="#000" stroke-width="1.0" />
<text x="473.50" y="245.30" font-size="9.5" font-weight="bold"  text-anchor="middle" fill="#000" >0</text>
<line x1="517.62" y1="235.00" x2="517.62" y2="237.60" stroke="#000" stroke-width="1.0" />
<text x="517.62" y="245.30" font-size="9.5" font-weight="bold"  text-anchor="middle" fill="#000" >25</text>
<line x1="561.75" y1="235.00" x2="561.75" y2="237.60" stroke="#000" stroke-width="1.0" />
<text x="561.75" y="245.30" font-size="9.5" font-weight="bold"  text-anchor="middle" fill="#000" >50</text>
<line x1="605.88" y1="235.00" x2="605.88" y2="237.60" stroke="#000" stroke-width="1.0" />
<text x="605.88" y="245.30" font-size="9.5" font-weight="bold"  text-anchor="middle" fill="#000" >75</text>
<line x1="650.00" y1="235.00" x2="650.00" y2="237.60" stroke="#000" stroke-width="1.0" />
<text x="650.00" y="245.30" font-size="9.5" font-weight="bold"  text-anchor="middle" fill="#000" >100</text>
<text x="561.80" y="256.40" font-size="9.5" font-weight="bold"  text-anchor="middle" fill="#000" >percentage of patients</text>
<text x="462.70" y="269.70" font-size="8.1" font-weight="bold"  text-anchor="end" fill="#000" >type</text>
<rect x="473.10" y="263.30" width="7.80" height="7.60" fill="#B22222" />
<text x="482.60" y="269.40" font-size="8.1"   text-anchor="start" fill="#1a1a1a" >repeat</text>
<rect x="473.10" y="275.00" width="7.80" height="7.60" fill="#EE6A50" />
<text x="482.60" y="281.10" font-size="8.1"   text-anchor="start" fill="#1a1a1a" >structural variant</text>
<rect x="473.10" y="286.20" width="7.80" height="7.60" fill="#008B8B" />
<text x="482.60" y="292.30" font-size="8.1"   text-anchor="start" fill="#1a1a1a" >duplication</text>
<rect x="545.00" y="263.30" width="7.80" height="7.60" fill="#8EE5EE" />
<text x="554.50" y="269.40" font-size="8.1"   text-anchor="start" fill="#1a1a1a" >deletion</text>
<rect x="545.00" y="275.00" width="7.80" height="7.60" fill="#FFB6C1" />
<text x="554.50" y="281.10" font-size="8.1"   text-anchor="start" fill="#1a1a1a" >intronic</text>
<rect x="545.00" y="286.20" width="7.80" height="7.60" fill="#C9AE93" />
<text x="554.50" y="292.30" font-size="8.1"   text-anchor="start" fill="#1a1a1a" >non-coding</text>
<rect x="595.40" y="263.30" width="7.80" height="7.60" fill="#7CCD7C" />
<text x="604.90" y="269.40" font-size="8.1"   text-anchor="start" fill="#1a1a1a" >splice</text>
<rect x="595.40" y="275.00" width="7.80" height="7.60" fill="#FFFF00" />
<text x="604.90" y="281.10" font-size="8.1"   text-anchor="start" fill="#1a1a1a" >startloss</text>
<rect x="595.40" y="286.20" width="7.80" height="7.60" fill="#FF8C00" />
<text x="604.90" y="292.30" font-size="8.1"   text-anchor="start" fill="#1a1a1a" >frameshift</text>
<rect x="642.30" y="263.30" width="7.80" height="7.60" fill="#D2691E" />
<text x="651.80" y="269.40" font-size="8.1"   text-anchor="start" fill="#1a1a1a" >indel</text>
<rect x="642.30" y="275.00" width="7.80" height="7.60" fill="#6495ED" />
<text x="651.80" y="281.10" font-size="8.1"   text-anchor="start" fill="#1a1a1a" >stop</text>
<rect x="642.30" y="286.20" width="7.80" height="7.60" fill="#C1CDCD" />
<text x="651.80" y="292.30" font-size="8.1"   text-anchor="start" fill="#1a1a1a" >missense</text>
<line x1="241.90" y1="336.20" x2="241.90" y2="593.70" stroke="#DADADA" stroke-width="1.3" />
<line x1="24.50" y1="464.30" x2="295.50" y2="464.30" stroke="#9A9A9A" stroke-width="0.7" stroke-dasharray="2.6 2.6"/>
<path d="M212.40,464.30 C214.50,464.67 220.25,465.82 225.00,466.50 C229.75,467.18 235.07,467.82 240.90,468.40 C246.73,468.98 252.57,469.45 260.00,470.00 C267.43,470.55 281.25,471.42 285.50,471.70" fill="none" stroke="#D6EEFA" stroke-width="1.05"/>
<path d="M90.00,464.60 C94.38,465.37 107.53,468.03 116.30,469.20 C125.07,470.37 134.48,471.10 142.60,471.60 C150.72,472.10 154.93,471.87 165.00,472.20 C175.07,472.53 190.35,473.22 203.00,473.60 C215.65,473.98 227.15,474.18 240.90,474.50 C254.65,474.82 278.07,475.33 285.50,475.50" fill="none" stroke="#C6E6F7" stroke-width="1.05"/>
<path d="M170.40,464.30 C173.30,465.78 182.37,470.62 187.80,473.20 C193.23,475.78 197.32,477.43 203.00,479.80 C208.68,482.17 215.58,485.08 221.90,487.40 C228.22,489.72 234.57,491.95 240.90,493.70 C247.23,495.45 252.47,496.57 259.90,497.90 C267.33,499.23 281.23,501.07 285.50,501.70" fill="none" stroke="#9FD6F6" stroke-width="1.05"/>
<path d="M100.50,464.30 C102.03,465.33 105.98,468.37 109.70,470.50 C113.42,472.63 118.42,475.13 122.80,477.10 C127.18,479.07 131.62,480.67 136.00,482.30 C140.38,483.93 144.27,485.42 149.10,486.90 C153.93,488.38 159.18,489.85 165.00,491.20 C170.82,492.55 177.67,493.73 184.00,495.00 C190.33,496.27 196.68,497.53 203.00,498.80 C209.32,500.07 215.58,501.50 221.90,502.60 C228.22,503.70 234.57,504.55 240.90,505.40 C247.23,506.25 252.47,507.07 259.90,507.70 C267.33,508.33 281.23,508.95 285.50,509.20" fill="none" stroke="#63BAF2" stroke-width="1.05"/>
<path d="M71.60,464.30 C72.83,465.87 76.20,470.38 79.00,473.70 C81.80,477.02 84.88,480.70 88.40,484.20 C91.92,487.70 96.90,492.07 100.10,494.70 C103.30,497.33 104.38,498.13 107.60,500.00 C110.82,501.87 115.68,504.25 119.40,505.90 C123.12,507.55 125.52,508.95 129.90,509.90 C134.28,510.85 139.02,511.02 145.70,511.60 C152.38,512.18 160.95,512.92 170.00,513.40 C179.05,513.88 188.07,514.07 200.00,514.50 C211.93,514.93 227.30,515.70 241.60,516.00 C255.90,516.30 278.43,516.25 285.80,516.30" fill="none" stroke="#3C9CE6" stroke-width="1.05"/>
<path d="M34.10,464.30 C35.37,466.83 38.48,473.65 41.70,479.50 C44.92,485.35 49.52,493.75 53.40,499.40 C57.28,505.05 61.90,509.52 65.00,513.40 C68.10,517.28 70.05,519.98 72.00,522.70 C73.95,525.42 75.37,527.68 76.70,529.70 C78.03,531.72 78.13,532.08 80.00,534.80 C81.87,537.52 84.40,541.95 87.90,546.00 C91.40,550.05 96.85,555.82 101.00,559.10 C105.15,562.38 108.20,563.40 112.80,565.70 C117.40,568.00 123.12,571.15 128.60,572.90 C134.08,574.65 138.80,575.17 145.70,576.20 C152.60,577.23 160.95,578.33 170.00,579.10 C179.05,579.87 188.07,580.15 200.00,580.80 C211.93,581.45 227.30,582.42 241.60,583.00 C255.90,583.58 278.43,584.08 285.80,584.30" fill="none" stroke="#2F95F5" stroke-width="1.05"/>
<path d="M131.00,464.30 C147.10,464.30 209.28,464.47 227.60,464.30 C245.92,464.13 235.52,463.65 240.90,463.30 C246.28,462.95 252.47,462.55 259.90,462.20 C267.33,461.85 281.23,461.37 285.50,461.20" fill="none" stroke="#B4B42A" stroke-width="1.05"/>
<path d="M34.00,464.30 L131.00,464.30" fill="none" stroke="#8CD91E" stroke-width="1.05"/>
<path d="M34.00,446.20 C38.95,446.57 54.70,447.50 63.70,448.40 C72.70,449.30 79.78,450.58 88.00,451.60 C96.22,452.62 104.68,453.67 113.00,454.50 C121.32,455.33 130.07,456.10 137.90,456.60 C145.73,457.10 149.65,457.22 160.00,457.50 C170.35,457.78 179.03,458.07 200.00,458.30 C220.97,458.53 271.50,458.80 285.80,458.90" fill="none" stroke="#BBC23A" stroke-width="1.05"/>
<path d="M131.30,464.30 C132.40,463.57 134.77,461.40 137.90,459.90 C141.03,458.40 145.15,456.93 150.10,455.30 C155.05,453.67 161.78,451.82 167.60,450.10 C173.42,448.38 178.60,446.40 185.00,445.00 C191.40,443.60 196.57,442.88 206.00,441.70 C215.43,440.52 228.30,438.82 241.60,437.90 C254.90,436.98 278.43,436.48 285.80,436.20" fill="none" stroke="#A9CB22" stroke-width="1.05"/>
<path d="M57.80,464.30 C58.83,463.25 61.53,460.52 64.00,458.00 C66.47,455.48 69.93,451.70 72.60,449.20 C75.27,446.70 77.43,444.90 80.00,443.00 C82.57,441.10 85.28,439.28 88.00,437.80 C90.72,436.32 93.38,435.07 96.30,434.10 C99.22,433.13 102.03,432.97 105.50,432.00 C108.97,431.03 113.37,429.40 117.10,428.30 C120.83,427.20 124.75,426.07 127.90,425.40 C131.05,424.73 131.25,424.90 136.00,424.30 C140.75,423.70 149.58,422.73 156.40,421.80 C163.22,420.87 168.63,419.42 176.90,418.70 C185.17,417.98 195.15,417.38 206.00,417.50 C216.85,417.62 228.77,418.75 242.00,419.40 C255.23,420.05 278.17,421.07 285.40,421.40" fill="none" stroke="#98D21E" stroke-width="1.05"/>
<path d="M98.80,464.30 C100.67,463.00 106.47,458.97 110.00,456.50 C113.53,454.03 117.00,451.67 120.00,449.50 C123.00,447.33 125.33,445.40 128.00,443.50 C130.67,441.60 132.33,440.27 136.00,438.10 C139.67,435.93 144.33,433.10 150.00,430.50 C155.67,427.90 163.33,424.67 170.00,422.50 C176.67,420.33 184.00,418.90 190.00,417.50 C196.00,416.10 197.33,415.53 206.00,414.10 C214.67,412.67 228.77,410.20 242.00,408.90 C255.23,407.60 278.17,406.73 285.40,406.30" fill="none" stroke="#8CD91E" stroke-width="1.05"/>
<path d="M98.80,464.30 C100.67,462.83 106.47,458.30 110.00,455.50 C113.53,452.70 117.00,449.92 120.00,447.50 C123.00,445.08 125.33,443.07 128.00,441.00 C130.67,438.93 132.33,437.43 136.00,435.10 C139.67,432.77 144.33,429.68 150.00,427.00 C155.67,424.32 163.33,421.25 170.00,419.00 C176.67,416.75 184.00,415.00 190.00,413.50 C196.00,412.00 197.33,411.20 206.00,410.00 C214.67,408.80 228.77,406.92 242.00,406.30 C255.23,405.68 278.17,406.30 285.40,406.30" fill="none" stroke="#8CD91E" stroke-width="1.05"/>
<path d="M98.80,464.30 C100.67,462.67 106.47,457.58 110.00,454.50 C113.53,451.42 117.00,448.38 120.00,445.80 C123.00,443.22 125.33,441.30 128.00,439.00 C130.67,436.70 132.33,434.42 136.00,432.00 C139.67,429.58 144.33,427.08 150.00,424.50 C155.67,421.92 163.33,418.75 170.00,416.50 C176.67,414.25 184.00,412.50 190.00,411.00 C196.00,409.50 197.33,408.40 206.00,407.50 C214.67,406.60 228.77,406.42 242.00,405.60 C255.23,404.78 278.17,403.10 285.40,402.60" fill="none" stroke="#8CD91E" stroke-width="1.05"/>
<path d="M141.30,464.30 C142.08,463.25 144.55,460.05 146.00,458.00 C147.45,455.95 148.43,454.17 150.00,452.00 C151.57,449.83 153.73,447.17 155.40,445.00 C157.07,442.83 158.12,441.50 160.00,439.00 C161.88,436.50 163.88,433.22 166.70,430.00 C169.52,426.78 173.50,422.77 176.90,419.70 C180.30,416.63 183.70,413.88 187.10,411.60 C190.50,409.32 194.15,407.45 197.30,406.00 C200.45,404.55 202.22,404.23 206.00,402.90 C209.78,401.57 214.00,399.52 220.00,398.00 C226.00,396.48 231.10,395.15 242.00,393.80 C252.90,392.45 278.17,390.55 285.40,389.90" fill="none" stroke="#84DC1E" stroke-width="1.05"/>
<path d="M92.20,464.30 C93.50,463.17 97.03,460.08 100.00,457.50 C102.97,454.92 106.67,451.55 110.00,448.80 C113.33,446.05 117.00,443.38 120.00,441.00 C123.00,438.62 125.33,436.52 128.00,434.50 C130.67,432.48 133.00,430.73 136.00,428.90 C139.00,427.07 142.60,425.20 146.00,423.50 C149.40,421.80 153.07,420.28 156.40,418.70 C159.73,417.12 162.58,415.53 166.00,414.00 C169.42,412.47 172.90,411.03 176.90,409.50 C180.90,407.97 185.15,406.42 190.00,404.80 C194.85,403.18 201.00,401.18 206.00,399.80 C211.00,398.42 214.00,397.50 220.00,396.50 C226.00,395.50 231.10,394.90 242.00,393.80 C252.90,392.70 278.17,390.55 285.40,389.90" fill="none" stroke="#84DC1E" stroke-width="1.05"/>
<path d="M92.60,464.30 C93.22,462.18 94.98,455.67 96.30,451.60 C97.62,447.53 98.97,443.23 100.50,439.90 C102.03,436.57 103.70,434.37 105.50,431.60 C107.30,428.83 109.37,425.93 111.30,423.30 C113.23,420.67 115.02,418.30 117.10,415.80 C119.18,413.30 121.43,410.80 123.80,408.30 C126.17,405.80 129.08,402.95 131.30,400.80 C133.52,398.65 135.37,397.05 137.10,395.40 C138.83,393.75 138.98,393.10 141.70,390.90 C144.42,388.70 150.10,384.53 153.40,382.20 C156.70,379.87 158.73,378.55 161.50,376.90 C164.27,375.25 167.47,373.68 170.00,372.30 C172.53,370.92 173.63,370.18 176.70,368.60 C179.77,367.02 184.52,364.45 188.40,362.80 C192.28,361.15 196.12,359.97 200.00,358.70 C203.88,357.43 207.80,356.18 211.70,355.20 C215.60,354.22 219.50,353.48 223.40,352.80 C227.30,352.12 231.50,351.58 235.10,351.10 C238.70,350.62 236.55,350.82 245.00,349.90 C253.45,348.98 279.00,346.32 285.80,345.60" fill="none" stroke="#3BE83B" stroke-width="1.05"/>
<rect x="24.5" y="336.2" width="271.0" height="257.50000000000006" fill="none" stroke="#606060" stroke-width="1"/>
<line x1="61.40" y1="593.70" x2="61.40" y2="598.40" stroke="#606060" stroke-width="1" />
<text x="61.40" y="609.60" font-size="9.5" font-weight="bold"  text-anchor="middle" fill="#000" >-3</text>
<line x1="61.40" y1="336.20" x2="61.40" y2="331.20" stroke="#606060" stroke-width="1" />
<text x="61.40" y="329.70" font-size="9.5" font-weight="bold"  text-anchor="middle" fill="#000" >0.05</text>
<line x1="113.45" y1="593.70" x2="113.45" y2="598.40" stroke="#606060" stroke-width="1" />
<text x="113.45" y="609.60" font-size="9.5" font-weight="bold"  text-anchor="middle" fill="#000" >-4</text>
<line x1="113.45" y1="336.20" x2="113.45" y2="331.20" stroke="#606060" stroke-width="1" />
<text x="113.45" y="329.70" font-size="9.5" font-weight="bold"  text-anchor="middle" fill="#000" >0.018</text>
<line x1="165.50" y1="593.70" x2="165.50" y2="598.40" stroke="#606060" stroke-width="1" />
<text x="165.50" y="609.60" font-size="9.5" font-weight="bold"  text-anchor="middle" fill="#000" >-5</text>
<line x1="165.50" y1="336.20" x2="165.50" y2="331.20" stroke="#606060" stroke-width="1" />
<text x="165.50" y="329.70" font-size="9.5" font-weight="bold"  text-anchor="middle" fill="#000" >0.0067</text>
<line x1="217.55" y1="593.70" x2="217.55" y2="598.40" stroke="#606060" stroke-width="1" />
<text x="217.55" y="609.60" font-size="9.5" font-weight="bold"  text-anchor="middle" fill="#000" >-6</text>
<line x1="217.55" y1="336.20" x2="217.55" y2="331.20" stroke="#606060" stroke-width="1" />
<text x="217.55" y="329.70" font-size="9.5" font-weight="bold"  text-anchor="middle" fill="#000" >0.0025</text>
<line x1="269.60" y1="593.70" x2="269.60" y2="598.40" stroke="#606060" stroke-width="1" />
<text x="269.60" y="609.60" font-size="9.5" font-weight="bold"  text-anchor="middle" fill="#000" >-7</text>
<line x1="269.60" y1="336.20" x2="269.60" y2="331.20" stroke="#606060" stroke-width="1" />
<text x="269.60" y="329.70" font-size="9.5" font-weight="bold"  text-anchor="middle" fill="#000" >0.00091</text>
<text x="165.10" y="318.00" font-size="9.5" font-weight="bold"  text-anchor="middle" fill="#000" >Lambda</text>
<text x="165.00" y="621.00" font-size="9.5" font-weight="bold"  text-anchor="middle" fill="#000" >Log lambda</text>
<line x1="20.00" y1="370.95" x2="24.50" y2="370.95" stroke="#606060" stroke-width="1" />
<text transform="translate(18.4,370.95) rotate(-90)" font-size="9.5" font-weight="bold" text-anchor="middle" fill="#000">1.0</text>
<line x1="20.00" y1="417.62" x2="24.50" y2="417.62" stroke="#606060" stroke-width="1" />
<text transform="translate(18.4,417.62) rotate(-90)" font-size="9.5" font-weight="bold" text-anchor="middle" fill="#000">0.5</text>
<line x1="20.00" y1="464.30" x2="24.50" y2="464.30" stroke="#606060" stroke-width="1" />
<text transform="translate(18.4,464.30) rotate(-90)" font-size="9.5" font-weight="bold" text-anchor="middle" fill="#000">0.0</text>
<line x1="20.00" y1="510.98" x2="24.50" y2="510.98" stroke="#606060" stroke-width="1" />
<text transform="translate(18.4,510.98) rotate(-90)" font-size="9.5" font-weight="bold" text-anchor="middle" fill="#000">-0.5</text>
<line x1="20.00" y1="557.65" x2="24.50" y2="557.65" stroke="#606060" stroke-width="1" />
<text transform="translate(18.4,557.65) rotate(-90)" font-size="9.5" font-weight="bold" text-anchor="middle" fill="#000">-1.0</text>
<text transform="translate(9.2,465.0) rotate(-90)" font-size="9.5" font-weight="bold" text-anchor="middle" fill="#000">Coefficients</text>
<text transform="translate(245.0,558.0) rotate(-90)" font-size="8" font-weight="bold" text-anchor="middle" fill="#000">s = .0015</text>
<text x="299.20" y="348.80" font-size="9.5" font-weight="bold"  text-anchor="start" fill="#000" >HPO mean</text>
<text x="299.20" y="381.00" font-size="9.5" font-weight="bold"  text-anchor="start" fill="#000" >0-5 y</text>
<text x="299.20" y="389.90" font-size="9.5" font-weight="bold"  text-anchor="start" fill="#000" >ataxia/dystonia/spasticity</text>
<text x="299.20" y="400.90" font-size="9.5" font-weight="bold"  text-anchor="start" fill="#000" >5-20 y</text>
<text x="299.20" y="408.60" font-size="9.5" font-weight="bold"  text-anchor="start" fill="#000" >ataxia/spasticity</text>
<text x="299.20" y="415.40" font-size="9.5" font-weight="bold"  text-anchor="start" fill="#000" >20-30 y</text>
<text x="299.20" y="423.90" font-size="9.5" font-weight="bold"  text-anchor="start" fill="#000" >spasticity</text>
<text x="299.20" y="440.80" font-size="9.5" font-weight="bold"  text-anchor="start" fill="#000" >30-40 y</text>
<text x="299.20" y="456.00" font-size="9.5" font-weight="bold"  text-anchor="start" fill="#000" >gender</text>
<text x="299.20" y="464.50" font-size="9.5" font-weight="bold"  text-anchor="start" fill="#000" >ataxia/dystonia</text>
<text x="299.20" y="473.00" font-size="9.5" font-weight="bold"  text-anchor="start" fill="#000" >ataxia</text>
<text x="299.20" y="481.30" font-size="9.5" font-weight="bold"  text-anchor="start" fill="#000" >HPO count</text>
<text x="299.20" y="504.70" font-size="9.5" font-weight="bold"  text-anchor="start" fill="#000" >dystonia/spasticity</text>
<text x="299.20" y="513.10" font-size="9.5" font-weight="bold"  text-anchor="start" fill="#000" >dystonia</text>
<text x="299.20" y="522.30" font-size="9.5" font-weight="bold"  text-anchor="start" fill="#000" >50-60 y</text>
<text x="299.20" y="587.10" font-size="9.5" font-weight="bold"  text-anchor="start" fill="#000" >60-100 y</text>
<line x1="536.36" y1="319.20" x2="536.36" y2="600.10" stroke="#EBEBEB" stroke-width="0.9" />
<line x1="547.60" y1="319.20" x2="547.60" y2="600.10" stroke="#EBEBEB" stroke-width="0.9" />
<line x1="558.84" y1="319.20" x2="558.84" y2="600.10" stroke="#EBEBEB" stroke-width="0.9" />
<line x1="570.07" y1="319.20" x2="570.07" y2="600.10" stroke="#EBEBEB" stroke-width="0.9" />
<line x1="581.31" y1="319.20" x2="581.31" y2="600.10" stroke="#EBEBEB" stroke-width="0.9" />
<line x1="592.55" y1="319.20" x2="592.55" y2="600.10" stroke="#EBEBEB" stroke-width="0.9" />
<line x1="603.79" y1="319.20" x2="603.79" y2="600.10" stroke="#EBEBEB" stroke-width="0.9" />
<line x1="615.02" y1="319.20" x2="615.02" y2="600.10" stroke="#EBEBEB" stroke-width="0.9" />
<line x1="626.26" y1="319.20" x2="626.26" y2="600.10" stroke="#EBEBEB" stroke-width="0.9" />
<line x1="637.50" y1="319.20" x2="637.50" y2="600.10" stroke="#EBEBEB" stroke-width="0.9" />
<line x1="648.74" y1="319.20" x2="648.74" y2="600.10" stroke="#EBEBEB" stroke-width="0.9" />
<line x1="529.20" y1="329.70" x2="653.90" y2="329.70" stroke="#EBEBEB" stroke-width="0.9" />
<line x1="529.20" y1="347.01" x2="653.90" y2="347.01" stroke="#EBEBEB" stroke-width="0.9" />
<line x1="529.20" y1="364.32" x2="653.90" y2="364.32" stroke="#EBEBEB" stroke-width="0.9" />
<line x1="529.20" y1="381.63" x2="653.90" y2="381.63" stroke="#EBEBEB" stroke-width="0.9" />
<line x1="529.20" y1="398.94" x2="653.90" y2="398.94" stroke="#EBEBEB" stroke-width="0.9" />
<line x1="529.20" y1="416.25" x2="653.90" y2="416.25" stroke="#EBEBEB" stroke-width="0.9" />
<line x1="529.20" y1="433.56" x2="653.90" y2="433.56" stroke="#EBEBEB" stroke-width="0.9" />
<line x1="529.20" y1="450.87" x2="653.90" y2="450.87" stroke="#EBEBEB" stroke-width="0.9" />
<line x1="529.20" y1="468.18" x2="653.90" y2="468.18" stroke="#EBEBEB" stroke-width="0.9" />
<line x1="529.20" y1="485.49" x2="653.90" y2="485.49" stroke="#EBEBEB" stroke-width="0.9" />
<line x1="529.20" y1="502.80" x2="653.90" y2="502.80" stroke="#EBEBEB" stroke-width="0.9" />
<line x1="529.20" y1="520.11" x2="653.90" y2="520.11" stroke="#EBEBEB" stroke-width="0.9" />
<line x1="529.20" y1="537.42" x2="653.90" y2="537.42" stroke="#EBEBEB" stroke-width="0.9" />
<line x1="529.20" y1="554.73" x2="653.90" y2="554.73" stroke="#EBEBEB" stroke-width="0.9" />
<line x1="529.20" y1="572.04" x2="653.90" y2="572.04" stroke="#EBEBEB" stroke-width="0.9" />
<line x1="529.20" y1="589.35" x2="653.90" y2="589.35" stroke="#EBEBEB" stroke-width="0.9" />
<rect x="592.30" y="321.60" width="56.00" height="16.20" fill="#00F000" />
<text x="526.30" y="332.00" font-size="9.5" font-weight="bold"  text-anchor="end" fill="#000" >HPO mean</text>
<rect x="592.30" y="338.91" width="34.60" height="16.20" fill="#86E000" />
<text x="526.30" y="349.22" font-size="9.5" font-weight="bold"  text-anchor="end" fill="#000" >0-5 y</text>
<rect x="592.30" y="356.22" width="34.60" height="16.20" fill="#86E000" />
<text x="526.30" y="366.44" font-size="9.5" font-weight="bold"  text-anchor="end" fill="#000" >ataxia/dystonia/spasticity</text>
<rect x="592.30" y="373.53" width="29.50" height="16.20" fill="#90D800" />
<text x="526.30" y="383.66" font-size="9.5" font-weight="bold"  text-anchor="end" fill="#000" >5-20 y</text>
<rect x="592.30" y="390.84" width="28.50" height="16.20" fill="#92D600" />
<text x="526.30" y="400.88" font-size="9.5" font-weight="bold"  text-anchor="end" fill="#000" >ataxia/spasticity</text>
<rect x="592.30" y="408.15" width="27.60" height="16.20" fill="#94D400" />
<text x="526.30" y="418.10" font-size="9.5" font-weight="bold"  text-anchor="end" fill="#000" >20-30 y</text>
<rect x="592.30" y="425.46" width="22.20" height="16.20" fill="#9CCB00" />
<text x="526.30" y="435.32" font-size="9.5" font-weight="bold"  text-anchor="end" fill="#000" >spasticity</text>
<rect x="592.30" y="442.77" width="13.20" height="16.20" fill="#B1B800" />
<text x="526.30" y="452.54" font-size="9.5" font-weight="bold"  text-anchor="end" fill="#000" >30-40 y</text>
<rect x="592.30" y="460.08" width="3.30" height="16.20" fill="#C8A800" />
<text x="526.30" y="469.76" font-size="9.5" font-weight="bold"  text-anchor="end" fill="#000" >gender</text>
<rect x="592.30" y="477.39" width="1.30" height="16.20" fill="#C9A81E" />
<text x="526.30" y="486.98" font-size="9.5" font-weight="bold"  text-anchor="end" fill="#000" >ataxia/dystonia</text>
<rect x="590.10" y="494.70" width="2.80" height="16.20" fill="#D4EEF8" />
<text x="526.30" y="504.20" font-size="9.5" font-weight="bold"  text-anchor="end" fill="#000" >ataxia</text>
<rect x="587.00" y="512.01" width="5.90" height="16.20" fill="#C0E4F5" />
<text x="526.30" y="521.42" font-size="9.5" font-weight="bold"  text-anchor="end" fill="#000" >HPO count</text>
<rect x="577.80" y="529.32" width="15.10" height="16.20" fill="#A6DBF9" />
<text x="526.30" y="538.64" font-size="9.5" font-weight="bold"  text-anchor="end" fill="#000" >dystonia/spasticity</text>
<rect x="572.10" y="546.63" width="20.80" height="16.20" fill="#62BDF5" />
<text x="526.30" y="555.86" font-size="9.5" font-weight="bold"  text-anchor="end" fill="#000" >dystonia</text>
<rect x="567.00" y="563.94" width="25.90" height="16.20" fill="#2590D9" />
<text x="526.30" y="573.08" font-size="9.5" font-weight="bold"  text-anchor="end" fill="#000" >50-60 y</text>
<rect x="533.90" y="581.25" width="59.00" height="16.20" fill="#0A7FFF" />
<text x="526.30" y="590.30" font-size="9.5" font-weight="bold"  text-anchor="end" fill="#000" >60-100 y</text>
<text x="547.60" y="609.30" font-size="9.5" font-weight="bold"  text-anchor="middle" fill="#000" >-1.0</text>
<text x="570.07" y="609.30" font-size="9.5" font-weight="bold"  text-anchor="middle" fill="#000" >-0.5</text>
<text x="592.55" y="609.30" font-size="9.5" font-weight="bold"  text-anchor="middle" fill="#000" >0.0</text>
<text x="615.02" y="609.30" font-size="9.5" font-weight="bold"  text-anchor="middle" fill="#000" >0.5</text>
<text x="637.50" y="609.30" font-size="9.5" font-weight="bold"  text-anchor="middle" fill="#000" >1.0</text>
<text x="596.20" y="621.60" font-size="9.5" font-weight="bold"  text-anchor="middle" fill="#000" >LASSO coefficient</text>
<rect x="51.50" y="830.80" width="59.60" height="12.80" fill="#C1C1C1" />
<path d="M78.6 828.9h0M105.6 828.3h0M81.7 829.0h0M63.3 828.6h0M88.7 830.3h0M58.1 827.3h0M57.9 830.4h0M92.4 825.8h0M108.9 831.3h0M90.1 829.2h0M61.7 825.6h0M82.9 825.9h0M63.6 827.0h0M54.4 828.3h0M77.9 830.6h0M82.4 829.3h0M81.3 829.5h0M78.9 827.2h0M109.8 831.5h0M100.8 829.7h0M70.7 826.9h0M69.2 825.9h0M96.5 827.9h0M101.1 827.8h0M107.5 830.6h0M52.7 826.8h0M104.8 828.3h0M108.8 827.9h0M56.9 829.3h0M97.2 827.1h0M57.7 827.5h0M107.8 830.0h0M59.4 827.0h0M58.5 825.9h0M98.3 826.6h0M84.7 828.2h0M63.6 829.9h0M60.2 829.4h0M59.4 828.0h0M64.9 827.1h0M108.2 830.3h0M70.1 830.8h0M64.8 827.9h0M101.6 829.4h0M58.4 831.4h0M64.9 827.0h0M96.9 827.5h0M69.6 825.9h0M57.9 829.0h0M66.6 829.1h0M74.0 828.2h0M107.6 828.4h0M85.6 830.7h0M63.2 826.4h0M104.7 830.4h0M67.0 826.6h0M95.0 831.1h0M63.9 831.2h0M103.2 829.1h0M76.8 826.1h0M54.9 831.3h0M66.3 829.7h0M67.4 830.4h0M86.8 827.3h0M62.7 829.8h0M56.6 826.9h0M84.7 830.6h0M87.8 827.2h0M105.2 826.7h0M53.6 827.1h0M78.2 825.9h0M62.8 827.7h0M85.4 826.3h0M73.4 830.8h0M108.8 829.4h0M92.2 829.0h0M60.7 825.7h0M53.7 831.0h0M92.8 831.3h0M53.9 829.3h0M80.3 829.9h0M70.9 831.5h0M57.0 828.8h0M94.9 830.9h0M94.9 829.7h0M98.1 831.0h0M72.8 829.6h0M104.2 830.7h0M76.6 830.2h0M102.1 828.9h0M88.4 827.8h0M86.0 829.2h0M57.3 829.3h0M109.5 830.8h0M94.4 827.8h0M94.7 829.0h0M77.9 830.5h0M57.5 830.0h0M54.4 829.1h0M80.2 826.9h0M92.6 828.5h0M87.8 831.0h0M67.3 825.6h0M69.9 829.6h0M64.3 826.5h0M104.5 829.5h0M78.0 830.9h0M71.4 829.5h0M64.1 828.1h0M98.8 831.0h0M103.1 827.8h0M86.1 827.4h0M60.5 828.5h0M100.6 830.6h0M93.4 831.2h0M68.5 826.5h0M78.5 827.2h0M64.9 828.0h0M88.5 828.5h0M70.7 830.5h0M108.9 828.2h0M57.0 825.7h0M102.6 825.7h0M93.2 828.9h0M70.4 830.2h0M53.8 826.3h0M78.7 825.6h0M100.2 826.9h0M60.8 825.8h0M88.7 828.2h0M88.7 829.4h0M107.5 819.0h0M64.1 820.4h0M62.9 822.6h0M79.7 825.5h0M62.9 820.1h0M72.5 824.2h0M82.5 820.3h0M96.0 821.2h0M98.0 823.3h0M57.7 817.7h0M94.0 817.4h0M78.6 825.1h0M104.8 821.0h0M85.2 823.4h0M98.3 818.1h0M79.2 817.2h0M64.4 820.8h0" stroke="#C1C1C1" stroke-width="2.6" stroke-linecap="round" fill="none"/>
<rect x="111.10" y="831.60" width="36.00" height="12.00" fill="#A9A9A9" />
<path d="M136.6 830.4h0M133.9 829.8h0M119.5 830.9h0M145.2 831.4h0M130.3 830.2h0M123.1 831.0h0M141.1 827.6h0M115.1 828.1h0M130.8 830.1h0M128.7 825.7h0M139.5 825.9h0M139.2 826.5h0M123.6 830.2h0M117.0 826.4h0M129.7 829.8h0M140.5 829.6h0M144.1 828.5h0M144.2 826.0h0M119.7 828.7h0M122.0 829.9h0M133.8 828.6h0M140.6 828.9h0M122.8 827.8h0M140.7 830.9h0M119.3 830.6h0M144.8 828.6h0M131.6 826.7h0M130.3 828.5h0M132.6 825.7h0M144.9 828.6h0M125.8 830.3h0M131.2 828.4h0M135.5 825.9h0M130.4 828.0h0M144.5 831.0h0M121.3 828.3h0M116.6 828.1h0M139.7 830.9h0M128.3 827.4h0M118.7 829.2h0M143.4 826.3h0M138.5 825.6h0M118.8 826.9h0M135.4 827.4h0M124.2 829.2h0M115.8 829.9h0M116.4 828.6h0M120.7 826.7h0M130.1 828.1h0M124.9 828.0h0M130.1 826.5h0M119.2 829.3h0M133.8 828.7h0M140.9 829.2h0M141.1 826.9h0M137.2 830.4h0M142.6 827.4h0M122.9 831.0h0M119.6 831.5h0M142.1 826.3h0M120.3 829.9h0M121.0 826.1h0M140.3 828.0h0M138.8 826.3h0M125.8 829.6h0M112.9 826.7h0M135.2 831.0h0M144.8 826.2h0M129.3 830.0h0M129.2 829.6h0M118.7 825.9h0M115.9 825.7h0M130.8 828.6h0M131.4 826.4h0M118.5 826.7h0M140.5 831.4h0M143.4 826.1h0M114.4 831.2h0M127.8 830.1h0M128.0 823.8h0M126.8 822.2h0M112.7 821.3h0M140.7 820.2h0M127.6 824.8h0M125.9 819.8h0M117.8 824.7h0M112.8 822.2h0M139.2 817.9h0M141.2 820.2h0" stroke="#A9A9A9" stroke-width="2.6" stroke-linecap="round" fill="none"/>
<rect x="147.10" y="830.80" width="32.90" height="12.80" fill="#C1C1C1" />
<path d="M167.5 827.9h0M166.6 828.5h0M178.3 830.3h0M156.2 831.0h0M171.0 830.2h0M173.1 827.9h0M175.6 830.8h0M169.5 830.1h0M171.6 827.9h0M170.3 825.9h0M158.7 828.3h0M148.6 827.6h0M167.8 829.2h0M155.4 831.2h0M168.6 827.5h0M168.4 828.9h0M164.6 827.8h0M178.8 829.4h0M169.7 830.1h0M178.2 825.6h0M167.1 829.9h0M156.1 827.9h0M149.8 826.7h0M159.8 826.1h0M156.0 830.9h0M165.1 828.5h0M177.8 828.9h0M178.7 829.3h0M173.0 826.0h0M166.5 830.1h0M149.7 831.1h0M153.2 828.3h0M153.5 828.5h0M166.9 825.9h0M177.1 828.0h0M164.4 829.1h0M159.5 827.2h0M168.3 828.9h0M156.9 829.8h0M157.3 825.6h0M155.8 825.8h0M153.1 830.0h0M160.2 830.9h0M171.1 825.8h0M178.5 831.2h0M150.5 830.9h0M161.4 828.4h0M178.0 827.0h0M164.3 831.1h0M170.3 828.3h0M178.2 830.4h0M166.7 826.2h0M167.3 828.2h0M154.5 825.8h0M164.4 826.2h0M161.8 829.5h0M162.2 827.1h0M166.1 828.0h0M172.0 828.7h0M178.7 831.2h0M170.7 826.9h0M151.8 830.9h0M172.2 829.2h0M159.3 827.1h0M169.2 828.9h0M166.3 829.3h0M171.3 826.6h0M155.9 831.4h0M176.2 830.8h0M149.5 825.9h0M156.6 828.1h0M167.3 826.1h0M150.5 821.9h0M168.9 825.3h0M167.5 821.8h0M162.9 823.4h0M158.8 824.6h0M173.9 819.7h0M152.0 825.3h0M167.3 818.9h0M154.8 819.4h0" stroke="#C1C1C1" stroke-width="2.6" stroke-linecap="round" fill="none"/>
<rect x="180.00" y="831.60" width="23.00" height="12.00" fill="#A9A9A9" />
<path d="M189.9 827.0h0M197.9 827.7h0M194.7 831.4h0M187.9 828.8h0M196.6 831.0h0M190.0 827.7h0M183.2 830.8h0M182.8 826.0h0M192.8 828.4h0M195.3 827.3h0M197.2 826.0h0M185.6 829.5h0M182.9 827.3h0M196.1 829.7h0M187.0 826.4h0M188.6 829.9h0M188.7 826.2h0M195.8 828.9h0M200.1 831.1h0M200.0 828.1h0M197.7 827.3h0M187.7 827.9h0M200.5 830.9h0M186.3 827.7h0M188.7 827.7h0M189.3 827.8h0M185.2 828.9h0M197.6 828.7h0M198.4 828.9h0M184.8 830.1h0M199.3 827.2h0M181.7 828.6h0M192.4 828.9h0M201.1 829.4h0M197.8 825.9h0M192.5 830.2h0M182.9 826.0h0M196.4 830.9h0M182.9 829.3h0M184.2 830.0h0M194.6 827.0h0M185.7 830.1h0M191.9 830.1h0M189.3 827.5h0M201.1 829.5h0M191.4 828.7h0M196.1 829.7h0M200.0 828.0h0M198.2 829.5h0M198.8 830.3h0M199.5 818.6h0M194.4 817.1h0M195.8 822.1h0M189.9 819.0h0M184.2 823.0h0M201.6 819.8h0" stroke="#A9A9A9" stroke-width="2.6" stroke-linecap="round" fill="none"/>
<rect x="203.00" y="830.80" width="22.20" height="12.80" fill="#C1C1C1" />
<path d="M211.6 826.5h0M208.2 828.0h0M210.0 831.3h0M205.4 827.4h0M206.5 829.4h0M219.6 826.6h0M205.4 828.3h0M215.8 831.0h0M204.9 826.2h0M207.9 826.8h0M208.9 829.8h0M216.0 826.8h0M207.9 827.2h0M207.6 830.0h0M210.4 828.8h0M220.4 828.4h0M209.4 830.8h0M222.3 827.6h0M215.0 831.2h0M213.8 826.8h0M205.2 831.2h0M220.1 827.8h0M214.6 828.6h0M209.6 831.4h0M217.2 826.9h0M204.4 828.3h0M211.6 830.3h0M218.3 829.1h0M207.3 826.4h0M210.6 827.1h0M221.4 828.6h0M216.8 831.5h0M209.5 828.7h0M207.2 830.1h0M204.2 830.4h0M221.0 830.4h0M205.8 827.1h0M218.4 826.1h0M213.7 828.3h0M223.1 829.0h0M221.2 827.3h0M219.8 828.0h0M222.4 826.0h0M220.6 826.8h0M215.0 828.7h0M207.3 830.5h0M210.4 827.4h0M205.7 827.3h0M218.4 822.6h0M217.8 823.6h0M212.0 825.2h0M223.3 822.7h0M217.1 818.7h0M211.7 825.5h0" stroke="#C1C1C1" stroke-width="2.6" stroke-linecap="round" fill="none"/>
<rect x="225.20" y="831.60" width="29.20" height="12.00" fill="#A9A9A9" />
<path d="M245.4 826.9h0M241.5 828.2h0M226.7 831.4h0M247.8 826.7h0M242.9 827.2h0M236.5 828.7h0M234.4 827.5h0M236.9 829.5h0M233.3 826.7h0M246.0 827.5h0M251.7 828.9h0M245.8 827.5h0M248.6 826.1h0M230.2 826.1h0M244.6 829.7h0M231.2 827.9h0M248.8 829.1h0M228.8 826.9h0M230.6 826.2h0M237.3 825.9h0M251.1 828.1h0M240.1 829.4h0M247.0 830.4h0M236.7 827.5h0M237.4 825.6h0M237.1 829.7h0M252.7 830.2h0M244.1 829.2h0M226.9 827.5h0M235.6 829.4h0M229.2 827.8h0M240.1 830.2h0M248.5 829.2h0M230.6 830.1h0M250.6 828.8h0M235.8 828.5h0M230.2 829.8h0M252.8 828.6h0M245.6 830.5h0M231.7 831.2h0M243.2 826.7h0M228.6 827.0h0M241.8 829.7h0M235.2 831.1h0M236.1 828.3h0M229.7 831.3h0M230.0 830.9h0M241.0 828.9h0M241.4 827.1h0M250.8 831.5h0M248.3 829.1h0M229.7 830.4h0M234.1 830.9h0M232.9 828.9h0M248.7 826.6h0M241.1 826.0h0M227.3 826.6h0M252.9 831.1h0M244.0 827.3h0M244.4 829.9h0M236.6 829.1h0M247.9 825.6h0M231.7 828.3h0M230.2 827.8h0M231.1 821.6h0M233.5 822.1h0M235.3 821.6h0M227.4 820.9h0M230.3 820.6h0M242.5 817.0h0M237.4 822.6h0M244.9 821.1h0" stroke="#A9A9A9" stroke-width="2.6" stroke-linecap="round" fill="none"/>
<rect x="254.40" y="830.80" width="26.90" height="12.80" fill="#C1C1C1" />
<path d="M274.2 830.0h0M267.5 831.5h0M276.1 830.6h0M265.6 828.1h0M269.5 830.9h0M268.5 828.7h0M266.2 830.9h0M263.5 825.8h0M273.4 830.9h0M273.5 829.1h0M274.0 827.3h0M270.1 825.9h0M258.6 828.2h0M267.9 827.9h0M256.9 829.7h0M268.5 826.9h0M263.1 827.9h0M261.4 825.9h0M277.9 831.3h0M271.9 830.7h0M265.9 830.3h0M261.0 830.0h0M269.5 830.9h0M258.0 830.3h0M258.6 828.7h0M278.9 825.5h0M261.6 827.3h0M263.6 825.9h0M277.5 830.4h0M265.3 827.6h0M269.9 825.8h0M256.4 830.9h0M263.1 828.5h0M278.5 831.4h0M267.2 826.7h0M262.8 831.0h0M277.6 826.7h0M276.1 827.6h0M267.2 826.5h0M277.2 831.5h0M260.5 829.3h0M260.3 830.8h0M256.8 826.1h0M273.4 827.4h0M277.7 830.7h0M273.1 826.3h0M272.7 831.1h0M266.5 826.0h0M261.1 827.3h0M273.0 826.7h0M260.0 826.9h0M271.9 830.2h0M264.7 829.5h0M277.3 829.0h0M261.2 827.3h0M278.3 829.5h0M262.4 829.3h0M257.8 831.4h0M266.4 828.7h0M256.7 822.0h0M262.6 821.3h0M275.3 824.4h0M262.6 825.3h0M261.6 819.6h0M269.0 824.2h0M277.6 824.8h0M256.4 816.7h0" stroke="#C1C1C1" stroke-width="2.6" stroke-linecap="round" fill="none"/>
<rect x="281.30" y="831.60" width="19.80" height="12.00" fill="#A9A9A9" />
<path d="M290.5 830.0h0M289.2 831.1h0M291.2 826.6h0M292.2 829.4h0M288.8 829.4h0M296.1 828.6h0M291.3 830.6h0M294.4 828.6h0M299.1 826.5h0M296.1 826.5h0M293.1 826.9h0M290.2 830.1h0M296.2 830.2h0M286.6 828.4h0M286.3 829.0h0M291.2 825.7h0M292.9 829.8h0M292.5 830.7h0M285.6 826.4h0M282.8 828.5h0M290.1 828.2h0M287.1 830.3h0M283.8 830.9h0M292.4 828.8h0M296.3 826.9h0M285.0 827.4h0M283.2 827.4h0M293.3 828.7h0M287.1 829.0h0M284.0 830.4h0M285.5 827.0h0M285.3 829.6h0M297.0 830.2h0M283.6 828.0h0M288.8 826.8h0M299.4 825.8h0M291.0 830.1h0M299.7 826.4h0M290.4 830.0h0M283.2 826.9h0M298.0 826.3h0M289.3 827.3h0M289.9 826.0h0M299.8 825.4h0M295.3 819.5h0M286.9 824.5h0M286.7 821.8h0M298.7 822.7h0" stroke="#A9A9A9" stroke-width="2.6" stroke-linecap="round" fill="none"/>
<rect x="301.10" y="830.80" width="23.40" height="12.80" fill="#C1C1C1" />
<path d="M309.9 827.5h0M322.9 829.2h0M303.1 827.9h0M315.9 825.9h0M309.5 829.7h0M320.5 829.0h0M320.9 828.3h0M310.6 830.6h0M310.3 830.2h0M306.8 827.6h0M306.2 828.8h0M305.7 826.7h0M306.8 828.3h0M308.8 828.2h0M323.2 829.6h0M320.4 826.7h0M310.3 825.9h0M316.8 827.7h0M308.1 825.6h0M306.1 827.1h0M310.6 831.0h0M317.3 827.1h0M309.9 826.4h0M322.0 827.7h0M318.4 829.8h0M321.3 825.6h0M309.1 827.8h0M304.0 830.8h0M309.1 830.1h0M313.2 825.8h0M310.6 826.9h0M303.2 826.4h0M314.8 825.7h0M308.9 828.0h0M313.7 826.3h0M317.1 827.1h0M317.5 829.5h0M305.4 826.7h0M308.2 829.8h0M310.8 827.8h0M320.5 826.9h0M308.4 827.6h0M306.8 825.7h0M302.8 829.3h0M314.2 830.4h0M322.8 827.3h0M316.4 831.0h0M306.8 829.6h0M316.3 831.2h0M320.5 826.9h0M315.6 826.0h0M310.5 823.0h0M310.4 825.4h0M312.7 823.8h0M305.6 824.2h0M312.3 823.2h0M316.3 824.9h0M304.3 824.4h0" stroke="#C1C1C1" stroke-width="2.6" stroke-linecap="round" fill="none"/>
<rect x="324.50" y="831.60" width="21.60" height="12.00" fill="#A9A9A9" />
<path d="M332.3 828.0h0M328.6 829.0h0M339.2 828.8h0M339.1 825.6h0M333.2 827.7h0M326.9 827.9h0M326.7 828.5h0M336.9 828.3h0M332.0 827.0h0M326.2 827.6h0M342.8 828.9h0M330.7 829.5h0M329.3 828.3h0M337.5 831.2h0M332.7 829.0h0M343.8 830.1h0M337.7 829.2h0M333.6 828.0h0M331.0 830.5h0M342.6 827.8h0M343.2 825.7h0M328.3 828.5h0M331.6 827.7h0M344.5 826.4h0M329.4 826.9h0M338.8 826.9h0M325.7 828.8h0M333.3 826.9h0M335.2 829.4h0M336.2 829.2h0M336.5 830.5h0M344.3 827.5h0M332.4 830.8h0M331.7 829.8h0M339.1 829.6h0M344.2 830.4h0M328.8 829.2h0M335.1 828.9h0M332.8 827.2h0M340.1 828.7h0M330.3 827.0h0M331.9 826.6h0M335.6 826.3h0M326.9 825.9h0M327.7 829.7h0M327.9 828.2h0M340.5 828.4h0M342.3 824.9h0M326.7 818.2h0M335.4 824.3h0M333.2 819.1h0M330.5 820.0h0M332.0 820.1h0" stroke="#A9A9A9" stroke-width="2.6" stroke-linecap="round" fill="none"/>
<rect x="346.10" y="830.80" width="40.10" height="12.80" fill="#C1C1C1" />
<path d="M359.9 830.1h0M379.1 830.5h0M368.7 828.0h0M374.0 829.2h0M378.6 830.3h0M352.0 827.8h0M372.5 826.9h0M354.3 825.6h0M369.4 831.1h0M383.9 826.3h0M373.2 828.0h0M371.1 827.9h0M382.5 831.4h0M349.1 829.8h0M351.8 825.8h0M358.1 829.9h0M384.8 826.2h0M359.7 825.7h0M367.8 828.4h0M361.4 827.4h0M377.5 830.5h0M358.0 827.9h0M370.6 830.1h0M384.3 827.8h0M373.5 828.8h0M377.5 826.4h0M353.9 826.1h0M382.5 827.0h0M365.7 826.2h0M359.5 825.6h0M368.6 826.4h0M370.9 827.1h0M355.9 828.4h0M361.1 827.1h0M349.2 825.9h0M381.0 827.4h0M350.3 826.6h0M365.5 831.5h0M354.9 830.7h0M365.6 828.0h0M377.7 827.9h0M349.5 828.8h0M372.1 829.2h0M357.7 831.1h0M379.9 831.5h0M364.0 830.5h0M374.6 826.6h0M348.3 826.5h0M351.8 825.9h0M360.8 830.0h0M359.0 828.6h0M347.7 826.8h0M383.5 825.6h0M367.2 830.4h0M377.2 829.9h0M362.4 830.3h0M378.5 830.1h0M384.5 826.1h0M383.1 827.9h0M373.9 827.0h0M381.6 825.6h0M369.0 826.9h0M361.9 827.7h0M372.1 830.4h0M361.0 829.3h0M360.6 827.2h0M381.4 827.4h0M350.8 827.5h0M375.3 826.8h0M375.3 828.8h0M372.9 826.6h0M351.3 826.4h0M360.5 828.1h0M347.7 828.5h0M362.5 827.4h0M367.6 831.2h0M355.0 830.8h0M359.4 830.0h0M351.4 831.4h0M363.5 831.3h0M355.6 827.9h0M373.9 826.6h0M357.6 829.6h0M383.0 827.4h0M354.2 827.6h0M384.6 826.4h0M371.2 827.8h0M371.6 826.8h0M380.8 821.1h0M371.0 818.4h0M368.7 822.3h0M378.9 825.2h0M364.4 820.3h0M363.1 820.6h0M356.0 823.4h0M368.9 821.3h0M348.5 822.2h0M364.1 821.0h0M369.7 821.4h0M353.0 817.4h0" stroke="#C1C1C1" stroke-width="2.6" stroke-linecap="round" fill="none"/>
<rect x="386.20" y="831.60" width="31.60" height="12.00" fill="#A9A9A9" />
<path d="M401.1 831.5h0M408.9 827.4h0M408.9 831.4h0M399.1 830.7h0M391.1 831.4h0M401.7 826.9h0M411.9 829.4h0M414.8 830.5h0M410.7 828.6h0M416.4 825.9h0M412.8 829.8h0M394.7 830.3h0M400.7 828.7h0M412.7 826.7h0M395.6 829.4h0M389.5 828.8h0M410.4 828.4h0M394.5 830.3h0M412.4 830.1h0M403.4 830.9h0M410.7 826.4h0M398.1 826.1h0M388.5 827.6h0M412.7 830.5h0M390.8 826.6h0M398.7 830.6h0M405.4 830.9h0M389.5 831.4h0M393.4 829.3h0M413.0 829.9h0M393.2 829.5h0M400.0 825.6h0M397.3 827.4h0M405.8 827.2h0M405.0 829.7h0M392.7 826.3h0M407.7 828.3h0M391.2 826.2h0M414.9 829.2h0M397.8 826.7h0M416.4 829.6h0M408.9 827.7h0M396.5 827.9h0M391.7 829.3h0M399.8 830.4h0M399.3 828.2h0M402.2 831.1h0M397.5 829.7h0M394.3 829.0h0M395.7 830.7h0M395.8 830.6h0M407.2 828.2h0M414.7 827.8h0M409.1 829.1h0M400.5 825.9h0M399.6 827.2h0M400.3 831.2h0M396.0 829.7h0M407.0 827.0h0M399.4 826.3h0M413.5 827.0h0M399.7 827.5h0M411.4 830.6h0M404.6 828.8h0M390.3 830.9h0M390.0 827.7h0M398.3 829.8h0M406.9 827.6h0M413.6 831.2h0M405.9 825.5h0M398.0 822.6h0M396.6 822.6h0M405.1 820.6h0M415.9 816.9h0M398.9 816.6h0M406.4 818.7h0M416.5 820.2h0M400.9 825.3h0" stroke="#A9A9A9" stroke-width="2.6" stroke-linecap="round" fill="none"/>
<rect x="417.80" y="830.80" width="9.30" height="12.80" fill="#C1C1C1" />
<path d="M421.8 829.4h0M420.5 831.4h0M420.4 827.7h0M420.0 827.9h0M424.1 826.0h0M420.2 829.4h0M423.3 830.0h0M420.7 830.4h0M424.0 830.2h0M419.8 828.3h0M419.1 830.7h0M425.5 830.9h0M419.2 827.6h0M422.7 828.7h0M419.8 830.2h0M421.1 828.5h0M419.9 828.9h0M419.9 826.0h0M422.5 827.3h0M424.4 827.0h0M419.4 823.1h0M422.1 824.6h0" stroke="#C1C1C1" stroke-width="2.6" stroke-linecap="round" fill="none"/>
<rect x="427.10" y="831.60" width="17.50" height="12.00" fill="#A9A9A9" />
<path d="M436.7 828.3h0M441.1 826.1h0M441.1 826.4h0M443.0 828.6h0M434.4 829.2h0M441.3 831.3h0M434.5 825.6h0M430.6 830.4h0M439.4 829.8h0M430.7 828.7h0M428.7 826.2h0M432.8 831.3h0M438.0 830.6h0M429.0 828.0h0M429.5 827.1h0M430.0 831.0h0M433.3 828.4h0M438.2 830.8h0M442.6 828.9h0M435.9 830.9h0M434.3 827.3h0M439.5 827.0h0M433.9 828.1h0M435.5 827.7h0M434.8 828.2h0M429.0 830.5h0M429.2 828.7h0M436.6 827.9h0M431.7 826.1h0M433.9 827.4h0M435.6 826.9h0M439.6 828.4h0M428.4 827.9h0M442.9 825.5h0M437.3 831.3h0M433.8 829.1h0M433.9 827.3h0M437.5 829.0h0M435.8 823.9h0M439.7 822.2h0M429.7 825.4h0M432.4 824.4h0M434.7 819.1h0" stroke="#A9A9A9" stroke-width="2.6" stroke-linecap="round" fill="none"/>
<rect x="444.60" y="830.80" width="18.00" height="12.80" fill="#C1C1C1" />
<path d="M459.2 827.9h0M450.3 829.6h0M447.1 831.4h0M458.8 827.5h0M450.8 830.4h0M458.1 829.4h0M446.7 830.1h0M446.5 829.2h0M454.4 831.1h0M455.8 825.6h0M460.4 830.0h0M454.8 825.5h0M457.3 828.0h0M456.4 831.4h0M460.1 825.9h0M458.0 828.1h0M457.5 827.8h0M452.8 828.1h0M447.6 827.4h0M457.3 825.9h0M447.6 830.5h0M456.2 828.8h0M447.6 826.2h0M450.6 831.2h0M454.5 831.0h0M449.1 828.0h0M454.2 830.5h0M447.7 830.7h0M453.2 825.7h0M452.5 827.8h0M456.3 831.1h0M453.5 829.6h0M451.9 830.2h0M447.4 830.0h0M448.4 829.0h0M449.0 827.6h0M448.4 827.6h0M455.0 828.6h0M451.9 828.9h0M451.4 818.5h0M453.3 821.5h0M450.9 816.8h0M449.4 820.3h0M457.2 824.3h0" stroke="#C1C1C1" stroke-width="2.6" stroke-linecap="round" fill="none"/>
<rect x="462.60" y="831.60" width="26.00" height="12.00" fill="#A9A9A9" />
<path d="M477.4 827.0h0M465.3 830.4h0M472.7 829.8h0M474.0 829.2h0M477.0 831.4h0M485.3 828.2h0M475.3 826.9h0M481.6 826.1h0M471.0 830.6h0M464.6 829.7h0M477.2 828.8h0M471.7 826.4h0M486.2 830.1h0M482.8 826.1h0M482.3 826.8h0M468.5 828.7h0M478.2 826.2h0M481.9 829.0h0M485.0 831.0h0M480.1 827.7h0M486.2 829.8h0M470.7 830.6h0M481.0 827.1h0M469.7 825.6h0M476.5 827.0h0M470.7 827.0h0M466.9 828.4h0M470.2 827.2h0M470.4 828.6h0M484.4 826.5h0M484.1 830.6h0M478.2 828.8h0M481.1 828.7h0M479.4 831.0h0M482.1 827.1h0M465.1 831.1h0M472.4 830.2h0M469.3 828.2h0M472.5 829.9h0M486.1 828.5h0M477.2 827.6h0M469.3 831.2h0M466.4 831.1h0M479.3 825.9h0M485.1 826.1h0M477.1 826.2h0M487.1 827.4h0M484.4 825.9h0M479.5 825.9h0M464.5 828.9h0M487.0 829.6h0M484.0 830.2h0M476.1 826.0h0M476.2 826.6h0M476.2 827.6h0M475.6 826.7h0M480.4 828.0h0M465.7 822.5h0M477.0 822.4h0M477.1 816.9h0M470.9 825.1h0M480.4 823.8h0M486.8 817.3h0M485.6 817.2h0" stroke="#A9A9A9" stroke-width="2.6" stroke-linecap="round" fill="none"/>
<rect x="488.60" y="830.80" width="33.60" height="12.80" fill="#C1C1C1" />
<path d="M516.6 831.1h0M490.4 828.4h0M508.2 829.6h0M508.9 829.2h0M518.9 826.0h0M506.0 831.3h0M490.8 826.2h0M516.9 831.2h0M490.6 825.7h0M515.7 829.6h0M506.0 829.0h0M513.4 830.3h0M489.8 825.9h0M514.6 831.4h0M515.8 827.9h0M500.3 827.6h0M490.3 830.1h0M498.0 829.0h0M506.2 827.5h0M510.9 828.2h0M497.1 830.8h0M495.3 826.4h0M497.7 828.4h0M514.3 827.5h0M497.2 829.4h0M497.9 828.6h0M497.8 830.8h0M495.6 826.9h0M499.2 827.5h0M512.5 829.5h0M514.5 828.7h0M492.3 830.1h0M497.4 826.8h0M502.7 831.4h0M501.4 827.6h0M518.2 831.4h0M501.9 826.3h0M514.4 830.2h0M500.4 830.2h0M501.6 827.2h0M508.3 829.9h0M504.6 830.4h0M490.2 828.5h0M501.7 825.9h0M518.3 826.4h0M496.2 830.8h0M519.8 831.1h0M500.5 831.1h0M494.2 829.8h0M519.3 826.7h0M494.0 829.6h0M517.3 829.9h0M519.4 828.2h0M501.4 826.2h0M498.3 831.1h0M492.0 826.6h0M500.6 825.8h0M499.4 826.6h0M493.6 828.7h0M506.7 828.9h0M513.6 828.7h0M519.4 826.0h0M496.8 826.0h0M499.5 830.1h0M518.6 828.5h0M494.8 827.5h0M507.5 827.3h0M514.5 831.3h0M504.1 829.1h0M516.2 828.3h0M495.8 831.2h0M520.3 825.6h0M513.6 827.9h0M494.9 825.4h0M512.8 824.9h0M490.4 824.6h0M514.7 824.6h0M510.2 822.3h0M495.5 822.6h0M499.3 825.5h0M497.9 825.4h0M501.3 821.1h0M509.3 822.6h0" stroke="#C1C1C1" stroke-width="2.6" stroke-linecap="round" fill="none"/>
<rect x="522.20" y="831.60" width="9.30" height="12.00" fill="#A9A9A9" />
<path d="M525.6 827.6h0M529.5 829.0h0M526.3 828.7h0M526.6 827.5h0M529.7 826.9h0M529.9 830.6h0M529.5 826.5h0M526.9 831.4h0M525.4 826.5h0M528.4 826.9h0M527.4 826.4h0M529.9 827.2h0M524.1 829.6h0M525.8 828.9h0M526.8 831.0h0M526.9 827.8h0M523.4 828.5h0M525.3 828.9h0M527.8 828.3h0M524.0 828.5h0M527.8 822.5h0M525.3 816.9h0" stroke="#A9A9A9" stroke-width="2.6" stroke-linecap="round" fill="none"/>
<rect x="531.50" y="830.80" width="44.70" height="12.80" fill="#C1C1C1" />
<path d="M551.4 826.0h0M566.5 826.9h0M567.8 830.3h0M543.5 830.9h0M554.0 828.1h0M556.2 831.2h0M553.4 828.4h0M545.0 830.5h0M554.0 827.6h0M541.0 826.8h0M568.0 830.3h0M574.1 831.0h0M561.7 830.3h0M562.8 830.4h0M566.6 826.6h0M567.2 827.3h0M543.0 831.0h0M533.7 828.6h0M547.2 830.3h0M558.5 831.0h0M572.1 829.4h0M535.4 829.5h0M537.3 831.4h0M569.6 827.4h0M540.6 829.7h0M564.8 831.4h0M559.0 826.3h0M563.4 825.9h0M569.4 830.1h0M565.9 830.7h0M556.8 831.2h0M559.7 828.5h0M549.0 827.6h0M533.7 826.5h0M566.4 826.9h0M560.3 830.2h0M562.1 828.6h0M546.1 827.1h0M540.6 829.4h0M561.7 831.2h0M546.7 831.1h0M571.3 827.2h0M573.0 829.2h0M573.4 830.1h0M546.8 827.2h0M554.8 828.4h0M534.2 830.7h0M555.3 828.3h0M564.2 827.0h0M541.1 829.0h0M542.9 827.5h0M535.7 825.8h0M547.7 828.7h0M572.8 829.3h0M550.2 827.9h0M542.7 828.3h0M573.3 826.2h0M551.0 829.6h0M565.0 828.8h0M559.8 831.1h0M570.9 827.0h0M555.6 831.5h0M555.0 826.6h0M565.1 825.8h0M539.1 828.8h0M544.2 829.8h0M563.4 827.4h0M565.1 829.4h0M562.6 828.2h0M551.0 826.1h0M552.8 831.2h0M570.3 825.8h0M535.7 827.1h0M562.1 828.1h0M538.1 828.1h0M556.9 830.0h0M549.7 829.4h0M561.5 829.2h0M534.7 829.8h0M538.1 825.8h0M552.7 825.6h0M535.8 827.8h0M552.5 826.1h0M573.0 830.6h0M553.3 829.0h0M546.0 831.4h0M537.8 827.3h0M542.0 830.7h0M554.2 828.0h0M549.6 830.8h0M543.6 830.2h0M562.7 828.2h0M548.2 828.1h0M551.9 827.4h0M559.1 828.0h0M545.5 830.1h0M552.0 828.3h0M569.9 828.2h0M570.7 823.4h0M565.9 816.8h0M561.1 823.2h0M545.2 819.8h0M572.9 820.0h0M561.0 820.7h0M560.3 822.9h0M565.3 824.5h0M574.2 821.9h0M562.8 823.7h0M550.3 825.5h0M543.7 819.5h0M542.0 821.2h0" stroke="#C1C1C1" stroke-width="2.6" stroke-linecap="round" fill="none"/>
<rect x="576.20" y="831.60" width="13.10" height="12.00" fill="#A9A9A9" />
<path d="M581.7 831.5h0M579.5 831.0h0M578.0 829.0h0M586.2 830.5h0M581.6 829.0h0M585.0 830.1h0M585.4 829.0h0M580.1 829.7h0M583.4 828.8h0M588.0 826.3h0M585.8 827.4h0M585.2 831.2h0M580.3 828.9h0M583.1 828.5h0M579.2 829.3h0M587.0 829.5h0M580.5 830.3h0M581.9 826.4h0M583.9 828.3h0M583.1 831.4h0M583.5 831.2h0M581.2 830.1h0M578.2 827.3h0M584.8 829.6h0M586.3 827.8h0M580.3 827.7h0M583.1 825.6h0M581.4 829.4h0M580.7 825.0h0M587.4 818.2h0M579.3 824.4h0" stroke="#A9A9A9" stroke-width="2.6" stroke-linecap="round" fill="none"/>
<rect x="589.30" y="830.80" width="7.30" height="12.80" fill="#C1C1C1" />
<path d="M591.1 826.0h0M594.4 829.9h0M591.8 828.4h0M593.9 825.7h0M594.5 830.7h0M591.5 829.7h0M593.9 827.5h0M594.8 826.8h0M592.8 827.4h0M592.7 830.4h0M593.3 829.2h0M595.3 826.8h0M591.6 829.2h0M591.2 831.3h0M592.2 828.1h0M592.6 830.5h0M593.8 817.6h0M592.2 824.9h0" stroke="#C1C1C1" stroke-width="2.6" stroke-linecap="round" fill="none"/>
<rect x="596.60" y="831.60" width="17.50" height="12.00" fill="#A9A9A9" />
<path d="M608.5 826.8h0M611.1 830.7h0M601.2 827.7h0M601.3 829.8h0M598.5 829.7h0M598.7 830.5h0M606.0 829.0h0M599.2 825.8h0M603.1 831.4h0M606.9 830.7h0M598.7 826.1h0M598.1 829.7h0M600.5 827.1h0M607.9 829.7h0M602.7 828.3h0M602.2 828.9h0M603.2 827.7h0M601.6 827.3h0M601.7 825.6h0M602.5 829.1h0M601.9 826.2h0M610.6 828.3h0M605.5 827.4h0M611.2 830.0h0M607.2 829.5h0M608.3 828.5h0M604.0 827.8h0M605.4 828.3h0M605.8 828.7h0M609.7 830.9h0M601.2 825.6h0M602.3 825.7h0M609.8 829.2h0M602.1 826.6h0M610.9 830.5h0M608.1 829.7h0M609.0 828.2h0M603.8 828.8h0M612.8 818.1h0M610.4 817.6h0M601.5 825.3h0M606.0 816.9h0M602.5 822.2h0" stroke="#A9A9A9" stroke-width="2.6" stroke-linecap="round" fill="none"/>
<rect x="614.10" y="830.80" width="8.80" height="12.80" fill="#C1C1C1" />
<path d="M620.8 828.6h0M621.6 826.0h0M621.7 825.6h0M616.2 827.8h0M619.4 826.2h0M618.9 831.1h0M618.1 830.1h0M619.1 829.0h0M616.4 828.3h0M621.1 829.5h0M616.7 828.2h0M618.8 827.5h0M619.0 829.3h0M615.4 826.8h0M619.5 826.8h0M615.8 830.1h0M617.4 831.2h0M618.9 826.1h0M619.4 827.1h0M619.9 818.9h0M615.7 819.6h0" stroke="#C1C1C1" stroke-width="2.6" stroke-linecap="round" fill="none"/>
<rect x="24.5" y="636.6" width="624.7" height="207.0" fill="none" stroke="#6A6A6A" stroke-width="1"/>
<line x1="24.00" y1="843.60" x2="649.70" y2="843.60" stroke="#444" stroke-width="1.1" />
<line x1="24.50" y1="790.70" x2="649.20" y2="790.70" stroke="#EE3333" stroke-width="1.5" stroke-dasharray="6.6 6.4"/>
<line x1="24.50" y1="817.50" x2="649.20" y2="817.50" stroke="#A31A1A" stroke-width="1.5" stroke-dasharray="6.6 6.4"/>
<line x1="22.00" y1="843.60" x2="24.50" y2="843.60" stroke="#333" stroke-width="1.0" />
<text transform="translate(21.20,846.90) scale(1,1.05)" font-size="9.5" font-weight="bold"  text-anchor="end" fill="#000" >0</text>
<line x1="22.00" y1="793.55" x2="24.50" y2="793.55" stroke="#333" stroke-width="1.0" />
<text transform="translate(21.20,796.85) scale(1,1.05)" font-size="9.5" font-weight="bold"  text-anchor="end" fill="#000" >5</text>
<line x1="22.00" y1="743.50" x2="24.50" y2="743.50" stroke="#333" stroke-width="1.0" />
<text transform="translate(21.20,746.80) scale(1,1.05)" font-size="9.5" font-weight="bold"  text-anchor="end" fill="#000" >10</text>
<line x1="22.00" y1="693.45" x2="24.50" y2="693.45" stroke="#333" stroke-width="1.0" />
<text transform="translate(21.20,696.75) scale(1,1.05)" font-size="9.5" font-weight="bold"  text-anchor="end" fill="#000" >15</text>
<line x1="22.00" y1="643.40" x2="24.50" y2="643.40" stroke="#333" stroke-width="1.0" />
<text transform="translate(21.20,646.70) scale(1,1.05)" font-size="9.5" font-weight="bold"  text-anchor="end" fill="#000" >20</text>
<text transform="translate(9.0,743.5) rotate(-90)" font-size="9.5" font-weight="bold" text-anchor="middle" fill="#000">&#8722;log<tspan font-size="5.5" dy="2">10</tspan><tspan dy="-2">(</tspan><tspan font-style="italic">P</tspan>)</text>
<text x="80.00" y="853.90" font-size="8.6"   text-anchor="middle" fill="#222" >1</text>
<text x="129.10" y="853.90" font-size="8.6"   text-anchor="middle" fill="#222" >2</text>
<text x="163.50" y="853.90" font-size="8.6"   text-anchor="middle" fill="#222" >3</text>
<text x="191.00" y="853.90" font-size="8.6"   text-anchor="middle" fill="#222" >4</text>
<text x="214.70" y="853.90" font-size="8.6"   text-anchor="middle" fill="#222" >5</text>
<text x="240.50" y="853.90" font-size="8.6"   text-anchor="middle" fill="#222" >6</text>
<text x="268.00" y="853.90" font-size="8.6"   text-anchor="middle" fill="#222" >7</text>
<text x="291.80" y="853.90" font-size="8.6"   text-anchor="middle" fill="#222" >8</text>
<text x="313.00" y="853.90" font-size="8.6"   text-anchor="middle" fill="#222" >9</text>
<text x="336.30" y="853.90" font-size="8.6"   text-anchor="middle" fill="#222" >10</text>
<text x="365.90" y="853.90" font-size="8.6"   text-anchor="middle" fill="#222" >11</text>
<text x="402.60" y="853.90" font-size="8.6"   text-anchor="middle" fill="#222" >12</text>
<text x="422.00" y="853.90" font-size="8.6"   text-anchor="middle" fill="#222" >13</text>
<text x="435.30" y="853.90" font-size="8.6"   text-anchor="middle" fill="#222" >14</text>
<text x="455.20" y="853.90" font-size="8.6"   text-anchor="middle" fill="#222" >15</text>
<text x="476.90" y="853.90" font-size="8.6"   text-anchor="middle" fill="#222" >16</text>
<text x="506.10" y="853.90" font-size="8.6"   text-anchor="middle" fill="#222" >17</text>
<text x="526.50" y="853.90" font-size="8.6"   text-anchor="middle" fill="#222" >18</text>
<text x="552.80" y="853.90" font-size="8.6"   text-anchor="middle" fill="#222" >19</text>
<text x="582.60" y="853.90" font-size="8.6"   text-anchor="middle" fill="#222" >20</text>
<text x="594.60" y="853.90" font-size="8.6"   text-anchor="middle" fill="#222" >21</text>
<text x="607.40" y="853.90" font-size="8.6"   text-anchor="middle" fill="#222" >22</text>
<text x="620.00" y="853.90" font-size="8.6"   text-anchor="middle" fill="#222" >23</text>
<text x="337.00" y="863.50" font-size="9.4" font-weight="bold"  text-anchor="middle" fill="#000" >Chromosome</text>
<circle cx="116.90" cy="646.60" r="1.6" fill="#8B1A1A" />
<circle cx="124.60" cy="798.10" r="1.6" fill="#8B1A1A" />
<circle cx="187.00" cy="798.10" r="1.6" fill="#8B1A1A" />
<circle cx="173.10" cy="813.20" r="1.6" fill="#111" />
<circle cx="196.60" cy="813.00" r="1.6" fill="#4D4D4D" />
<circle cx="235.80" cy="815.90" r="1.6" fill="#4D4D4D" />
<circle cx="335.80" cy="808.00" r="1.6" fill="#8B1A1A" />
<circle cx="419.70" cy="790.50" r="1.6" fill="#8B1A1A" />
<circle cx="413.60" cy="812.90" r="1.6" fill="#4D4D4D" />
<circle cx="465.00" cy="792.80" r="1.6" fill="#8B1A1A" />
<circle cx="451.00" cy="815.20" r="1.6" fill="#8B1A1A" />
<circle cx="493.10" cy="812.90" r="1.6" fill="#8B1A1A" />
<circle cx="579.30" cy="815.90" r="1.6" fill="#4D4D4D" />
<circle cx="608.20" cy="812.60" r="1.6" fill="#4D4D4D" />
<circle cx="620.60" cy="805.70" r="1.6" fill="#222" />
<circle cx="619.40" cy="783.10" r="1.6" fill="#1E90FF" />
<text x="117.30" y="644.20" font-size="7.8"  font-style="italic" text-anchor="start" fill="#A52A2A" >SPAST</text>
<text x="126.40" y="797.80" font-size="7.8"  font-style="italic" text-anchor="start" fill="#A52A2A" >REEP1</text>
<text x="188.70" y="797.80" font-size="7.8"  font-style="italic" text-anchor="start" fill="#A52A2A" >UCHL1</text>
<text x="173.10" y="811.70" font-size="7.8"  font-style="italic" text-anchor="start" fill="#555" >TFDP2</text>
<text x="199.90" y="811.70" font-size="7.8"  font-style="italic" text-anchor="start" fill="#555" >EGF</text>
<text x="236.10" y="813.80" font-size="7.8"  font-style="italic" text-anchor="start" fill="#555" >SLC44A4</text>
<text x="337.00" y="806.30" font-size="7.8"  font-style="italic" text-anchor="start" fill="#A52A2A" >POLR3A</text>
<text x="421.10" y="788.80" font-size="7.8"  font-style="italic" text-anchor="start" fill="#A52A2A" >SACS</text>
<text x="415.00" y="811.60" font-size="7.8"  font-style="italic" text-anchor="start" fill="#555" >DTX1</text>
<text x="465.60" y="790.00" font-size="7.8"  font-style="italic" text-anchor="start" fill="#A52A2A" >STUB1</text>
<text x="452.40" y="813.30" font-size="7.8"  font-style="italic" text-anchor="start" fill="#A52A2A" >SPG11</text>
<text x="494.30" y="811.00" font-size="7.8"  font-style="italic" text-anchor="start" fill="#A52A2A" >KIF1C</text>
<text x="580.00" y="813.70" font-size="7.8"  font-style="italic" text-anchor="start" fill="#555" >MAVS</text>
<text x="609.90" y="814.70" font-size="7.8"  font-style="italic" text-anchor="start" fill="#555" >ZBED4</text>
<text x="610.10" y="804.90" font-size="7.8"  font-style="italic" text-anchor="start" fill="#A52A2A" >ABCD1</text>
<text x="621.00" y="799.10" font-size="7.8"  font-style="italic" text-anchor="start" fill="#555" >CTAG2</text>
<text x="616.90" y="780.80" font-size="7.8"  font-style="italic" text-anchor="start" fill="#1E90FF" >CD99L2</text>
<circle cx="498.20" cy="647.90" r="2.9" fill="#8B0000" />
<text x="504.10" y="650.40" font-size="8.1"   text-anchor="start" fill="#8B1A1A" >Established neurological disease genes</text>
<circle cx="498.20" cy="664.30" r="2.9" fill="#1E90FF" />
<text x="504.10" y="666.70" font-size="8.1"   text-anchor="start" fill="#1E90FF" >New locus for MD</text>
</svg></body></html>
